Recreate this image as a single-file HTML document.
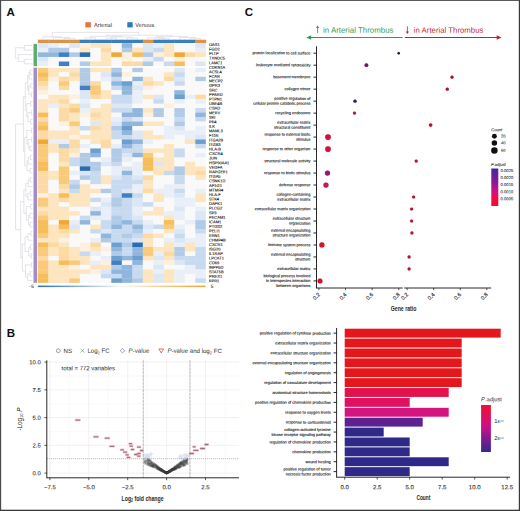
<!DOCTYPE html>
<html><head><meta charset="utf-8"><style>
html,body{margin:0;padding:0;background:#fff;}
svg{display:block;}
text{font-family:"Liberation Sans",sans-serif;}
</style></head><body>
<svg width="520" height="511" viewBox="0 0 520 511" font-family="Liberation Sans, sans-serif">
<rect width="520" height="511" fill="#fff"/>
<text x="6.4" y="16.2" font-size="11.5" font-weight="bold" fill="#111">A</text>
<rect x="85.3" y="22.2" width="5.6" height="5.2" fill="#e8743a"/>
<text transform="matrix(0.1,0.0001,0,0.1,94.00,27.10)" font-size="57.00" text-anchor="start" fill="#333" font-weight="normal" >Arterial</text>
<rect x="127.3" y="22.2" width="5.4" height="5.2" fill="#2b7bba"/>
<text transform="matrix(0.1,0.0001,0,0.1,135.30,27.10)" font-size="57.00" text-anchor="start" fill="#333" font-weight="normal" >Venous</text>
<line x1="64.05" y1="39.60" x2="64.05" y2="38.30" stroke="#c8c8d0" stroke-width="0.5"/>
<line x1="74.55" y1="39.60" x2="74.55" y2="38.30" stroke="#c8c8d0" stroke-width="0.5"/>
<line x1="64.05" y1="38.30" x2="74.55" y2="38.30" stroke="#c8c8d0" stroke-width="0.5"/>
<line x1="53.55" y1="39.60" x2="53.55" y2="37.60" stroke="#c8c8d0" stroke-width="0.5"/>
<line x1="69.30" y1="38.30" x2="69.30" y2="37.60" stroke="#c8c8d0" stroke-width="0.5"/>
<line x1="53.55" y1="37.60" x2="69.30" y2="37.60" stroke="#c8c8d0" stroke-width="0.5"/>
<line x1="43.05" y1="39.60" x2="43.05" y2="36.80" stroke="#c8c8d0" stroke-width="0.5"/>
<line x1="61.42" y1="37.60" x2="61.42" y2="36.80" stroke="#c8c8d0" stroke-width="0.5"/>
<line x1="43.05" y1="36.80" x2="61.42" y2="36.80" stroke="#c8c8d0" stroke-width="0.5"/>
<line x1="85.05" y1="39.60" x2="85.05" y2="37.90" stroke="#c8c8d0" stroke-width="0.5"/>
<line x1="95.55" y1="39.60" x2="95.55" y2="37.90" stroke="#c8c8d0" stroke-width="0.5"/>
<line x1="85.05" y1="37.90" x2="95.55" y2="37.90" stroke="#c8c8d0" stroke-width="0.5"/>
<line x1="106.05" y1="39.60" x2="106.05" y2="38.20" stroke="#c8c8d0" stroke-width="0.5"/>
<line x1="116.55" y1="39.60" x2="116.55" y2="38.20" stroke="#c8c8d0" stroke-width="0.5"/>
<line x1="106.05" y1="38.20" x2="116.55" y2="38.20" stroke="#c8c8d0" stroke-width="0.5"/>
<line x1="127.05" y1="39.60" x2="127.05" y2="38.00" stroke="#c8c8d0" stroke-width="0.5"/>
<line x1="137.55" y1="39.60" x2="137.55" y2="38.00" stroke="#c8c8d0" stroke-width="0.5"/>
<line x1="127.05" y1="38.00" x2="137.55" y2="38.00" stroke="#c8c8d0" stroke-width="0.5"/>
<line x1="111.30" y1="38.20" x2="111.30" y2="37.00" stroke="#c8c8d0" stroke-width="0.5"/>
<line x1="132.30" y1="38.00" x2="132.30" y2="37.00" stroke="#c8c8d0" stroke-width="0.5"/>
<line x1="111.30" y1="37.00" x2="132.30" y2="37.00" stroke="#c8c8d0" stroke-width="0.5"/>
<line x1="90.30" y1="37.90" x2="90.30" y2="36.30" stroke="#c8c8d0" stroke-width="0.5"/>
<line x1="121.80" y1="37.00" x2="121.80" y2="36.30" stroke="#c8c8d0" stroke-width="0.5"/>
<line x1="90.30" y1="36.30" x2="121.80" y2="36.30" stroke="#c8c8d0" stroke-width="0.5"/>
<line x1="158.55" y1="39.60" x2="158.55" y2="38.40" stroke="#c8c8d0" stroke-width="0.5"/>
<line x1="169.05" y1="39.60" x2="169.05" y2="38.40" stroke="#c8c8d0" stroke-width="0.5"/>
<line x1="158.55" y1="38.40" x2="169.05" y2="38.40" stroke="#c8c8d0" stroke-width="0.5"/>
<line x1="148.05" y1="39.60" x2="148.05" y2="37.80" stroke="#c8c8d0" stroke-width="0.5"/>
<line x1="163.80" y1="38.40" x2="163.80" y2="37.80" stroke="#c8c8d0" stroke-width="0.5"/>
<line x1="148.05" y1="37.80" x2="163.80" y2="37.80" stroke="#c8c8d0" stroke-width="0.5"/>
<line x1="190.05" y1="39.60" x2="190.05" y2="38.30" stroke="#c8c8d0" stroke-width="0.5"/>
<line x1="200.55" y1="39.60" x2="200.55" y2="38.30" stroke="#c8c8d0" stroke-width="0.5"/>
<line x1="190.05" y1="38.30" x2="200.55" y2="38.30" stroke="#c8c8d0" stroke-width="0.5"/>
<line x1="179.55" y1="39.60" x2="179.55" y2="37.40" stroke="#c8c8d0" stroke-width="0.5"/>
<line x1="195.30" y1="38.30" x2="195.30" y2="37.40" stroke="#c8c8d0" stroke-width="0.5"/>
<line x1="179.55" y1="37.40" x2="195.30" y2="37.40" stroke="#c8c8d0" stroke-width="0.5"/>
<line x1="155.93" y1="37.80" x2="155.93" y2="36.60" stroke="#c8c8d0" stroke-width="0.5"/>
<line x1="187.43" y1="37.40" x2="187.43" y2="36.60" stroke="#c8c8d0" stroke-width="0.5"/>
<line x1="155.93" y1="36.60" x2="187.43" y2="36.60" stroke="#c8c8d0" stroke-width="0.5"/>
<line x1="106.05" y1="36.30" x2="106.05" y2="35.20" stroke="#c8c8d0" stroke-width="0.5"/>
<line x1="171.68" y1="36.60" x2="171.68" y2="35.20" stroke="#c8c8d0" stroke-width="0.5"/>
<line x1="106.05" y1="35.20" x2="171.68" y2="35.20" stroke="#c8c8d0" stroke-width="0.5"/>
<line x1="52.24" y1="36.80" x2="52.24" y2="32.40" stroke="#c8c8d0" stroke-width="0.5"/>
<line x1="138.86" y1="35.20" x2="138.86" y2="32.40" stroke="#c8c8d0" stroke-width="0.5"/>
<line x1="52.24" y1="32.40" x2="138.86" y2="32.40" stroke="#c8c8d0" stroke-width="0.5"/>
<rect x="37.80" y="39.7" width="10.90" height="3.4" fill="#d9934a"/>
<rect x="48.30" y="39.7" width="10.90" height="3.4" fill="#d9934a"/>
<rect x="58.80" y="39.7" width="10.90" height="3.4" fill="#d9934a"/>
<rect x="69.30" y="39.7" width="10.90" height="3.4" fill="#d9934a"/>
<rect x="79.80" y="39.7" width="10.90" height="3.4" fill="#3a7fbd"/>
<rect x="90.30" y="39.7" width="10.90" height="3.4" fill="#3a7fbd"/>
<rect x="100.80" y="39.7" width="10.90" height="3.4" fill="#3a7fbd"/>
<rect x="111.30" y="39.7" width="10.90" height="3.4" fill="#3a7fbd"/>
<rect x="121.80" y="39.7" width="10.90" height="3.4" fill="#3a7fbd"/>
<rect x="132.30" y="39.7" width="10.90" height="3.4" fill="#3a7fbd"/>
<rect x="142.80" y="39.7" width="10.90" height="3.4" fill="#d9934a"/>
<rect x="153.30" y="39.7" width="10.90" height="3.4" fill="#3a7fbd"/>
<rect x="163.80" y="39.7" width="10.90" height="3.4" fill="#3a7fbd"/>
<rect x="174.30" y="39.7" width="10.90" height="3.4" fill="#3a7fbd"/>
<rect x="184.80" y="39.7" width="10.90" height="3.4" fill="#3a7fbd"/>
<rect x="195.30" y="39.7" width="10.90" height="3.4" fill="#d9934a"/>
<filter id="hb" x="-2%" y="-2%" width="104%" height="104%"><feGaussianBlur stdDeviation="0.35"/></filter>
<g filter="url(#hb)">
<rect x="37.80" y="43.20" width="10.90" height="4.88" fill="#dbe7f4"/>
<rect x="48.30" y="43.20" width="10.90" height="4.88" fill="#e9eff8"/>
<rect x="58.80" y="43.20" width="10.90" height="4.88" fill="#f9f9f9"/>
<rect x="69.30" y="43.20" width="10.90" height="4.88" fill="#dbe7f4"/>
<rect x="79.80" y="43.20" width="10.90" height="4.88" fill="#fdf0de"/>
<rect x="90.30" y="43.20" width="10.90" height="4.88" fill="#fde5bf"/>
<rect x="100.80" y="43.20" width="10.90" height="4.88" fill="#fde5bf"/>
<rect x="111.30" y="43.20" width="10.90" height="4.88" fill="#f9f9f9"/>
<rect x="121.80" y="43.20" width="10.90" height="4.88" fill="#90b6dd"/>
<rect x="132.30" y="43.20" width="10.90" height="4.88" fill="#f9f9f9"/>
<rect x="142.80" y="43.20" width="10.90" height="4.88" fill="#dbe7f4"/>
<rect x="153.30" y="43.20" width="10.90" height="4.88" fill="#e9eff8"/>
<rect x="163.80" y="43.20" width="10.90" height="4.88" fill="#fde5bf"/>
<rect x="174.30" y="43.20" width="10.90" height="4.88" fill="#f9f9f9"/>
<rect x="184.80" y="43.20" width="10.90" height="4.88" fill="#f9f9f9"/>
<rect x="195.30" y="43.20" width="10.50" height="4.88" fill="#dbe7f4"/>
<rect x="37.80" y="47.78" width="10.90" height="4.88" fill="#e9eff8"/>
<rect x="48.30" y="47.78" width="10.90" height="4.88" fill="#b1cbe7"/>
<rect x="58.80" y="47.78" width="10.90" height="4.88" fill="#b1cbe7"/>
<rect x="69.30" y="47.78" width="10.90" height="4.88" fill="#f9f9f9"/>
<rect x="79.80" y="47.78" width="10.90" height="4.88" fill="#fde5bf"/>
<rect x="90.30" y="47.78" width="10.90" height="4.88" fill="#f9f9f9"/>
<rect x="100.80" y="47.78" width="10.90" height="4.88" fill="#fbdaa6"/>
<rect x="111.30" y="47.78" width="10.90" height="4.88" fill="#f9f9f9"/>
<rect x="121.80" y="47.78" width="10.90" height="4.88" fill="#b1cbe7"/>
<rect x="132.30" y="47.78" width="10.90" height="4.88" fill="#fde5bf"/>
<rect x="142.80" y="47.78" width="10.90" height="4.88" fill="#dbe7f4"/>
<rect x="153.30" y="47.78" width="10.90" height="4.88" fill="#c8daef"/>
<rect x="163.80" y="47.78" width="10.90" height="4.88" fill="#fde5bf"/>
<rect x="174.30" y="47.78" width="10.90" height="4.88" fill="#f9f9f9"/>
<rect x="184.80" y="47.78" width="10.90" height="4.88" fill="#f9f9f9"/>
<rect x="195.30" y="47.78" width="10.50" height="4.88" fill="#e9eff8"/>
<rect x="37.80" y="52.36" width="10.90" height="4.88" fill="#90b6dd"/>
<rect x="48.30" y="52.36" width="10.90" height="4.88" fill="#90b6dd"/>
<rect x="58.80" y="52.36" width="10.90" height="4.88" fill="#3f7fc0"/>
<rect x="69.30" y="52.36" width="10.90" height="4.88" fill="#b1cbe7"/>
<rect x="79.80" y="52.36" width="10.90" height="4.88" fill="#2a6cb3"/>
<rect x="90.30" y="52.36" width="10.90" height="4.88" fill="#f9f9f9"/>
<rect x="100.80" y="52.36" width="10.90" height="4.88" fill="#fde5bf"/>
<rect x="111.30" y="52.36" width="10.90" height="4.88" fill="#f2a733"/>
<rect x="121.80" y="52.36" width="10.90" height="4.88" fill="#fdf0de"/>
<rect x="132.30" y="52.36" width="10.90" height="4.88" fill="#f6bd58"/>
<rect x="142.80" y="52.36" width="10.90" height="4.88" fill="#b1cbe7"/>
<rect x="153.30" y="52.36" width="10.90" height="4.88" fill="#fdf0de"/>
<rect x="163.80" y="52.36" width="10.90" height="4.88" fill="#fde5bf"/>
<rect x="174.30" y="52.36" width="10.90" height="4.88" fill="#f2a733"/>
<rect x="184.80" y="52.36" width="10.90" height="4.88" fill="#fbdaa6"/>
<rect x="195.30" y="52.36" width="10.50" height="4.88" fill="#fde5bf"/>
<rect x="37.80" y="56.94" width="10.90" height="4.88" fill="#dbe7f4"/>
<rect x="48.30" y="56.94" width="10.90" height="4.88" fill="#f9f9f9"/>
<rect x="58.80" y="56.94" width="10.90" height="4.88" fill="#f9f9f9"/>
<rect x="69.30" y="56.94" width="10.90" height="4.88" fill="#f9f9f9"/>
<rect x="79.80" y="56.94" width="10.90" height="4.88" fill="#f9f9f9"/>
<rect x="90.30" y="56.94" width="10.90" height="4.88" fill="#f9f9f9"/>
<rect x="100.80" y="56.94" width="10.90" height="4.88" fill="#fde5bf"/>
<rect x="111.30" y="56.94" width="10.90" height="4.88" fill="#f9f9f9"/>
<rect x="121.80" y="56.94" width="10.90" height="4.88" fill="#fdf0de"/>
<rect x="132.30" y="56.94" width="10.90" height="4.88" fill="#f9f9f9"/>
<rect x="142.80" y="56.94" width="10.90" height="4.88" fill="#e9eff8"/>
<rect x="153.30" y="56.94" width="10.90" height="4.88" fill="#c8daef"/>
<rect x="163.80" y="56.94" width="10.90" height="4.88" fill="#f9f9f9"/>
<rect x="174.30" y="56.94" width="10.90" height="4.88" fill="#fdf0de"/>
<rect x="184.80" y="56.94" width="10.90" height="4.88" fill="#f9f9f9"/>
<rect x="195.30" y="56.94" width="10.50" height="4.88" fill="#f9f9f9"/>
<rect x="37.80" y="61.52" width="10.90" height="4.58" fill="#e9eff8"/>
<rect x="48.30" y="61.52" width="10.90" height="4.58" fill="#f9f9f9"/>
<rect x="58.80" y="61.52" width="10.90" height="4.58" fill="#3f7fc0"/>
<rect x="69.30" y="61.52" width="10.90" height="4.58" fill="#f9f9f9"/>
<rect x="79.80" y="61.52" width="10.90" height="4.58" fill="#b1cbe7"/>
<rect x="90.30" y="61.52" width="10.90" height="4.58" fill="#fde5bf"/>
<rect x="100.80" y="61.52" width="10.90" height="4.58" fill="#fde5bf"/>
<rect x="111.30" y="61.52" width="10.90" height="4.58" fill="#f9f9f9"/>
<rect x="121.80" y="61.52" width="10.90" height="4.58" fill="#fbdaa6"/>
<rect x="132.30" y="61.52" width="10.90" height="4.58" fill="#fbdaa6"/>
<rect x="142.80" y="61.52" width="10.90" height="4.58" fill="#b1cbe7"/>
<rect x="153.30" y="61.52" width="10.90" height="4.58" fill="#f9f9f9"/>
<rect x="163.80" y="61.52" width="10.90" height="4.58" fill="#c8daef"/>
<rect x="174.30" y="61.52" width="10.90" height="4.58" fill="#f6bd58"/>
<rect x="184.80" y="61.52" width="10.90" height="4.58" fill="#f9f9f9"/>
<rect x="195.30" y="61.52" width="10.50" height="4.58" fill="#dbe7f4"/>
<rect x="37.80" y="67.80" width="10.90" height="4.78" fill="#f8ca7a"/>
<rect x="48.30" y="67.80" width="10.90" height="4.78" fill="#fde5bf"/>
<rect x="58.80" y="67.80" width="10.90" height="4.78" fill="#fde5bf"/>
<rect x="69.30" y="67.80" width="10.90" height="4.78" fill="#fde5bf"/>
<rect x="79.80" y="67.80" width="10.90" height="4.78" fill="#b1cbe7"/>
<rect x="90.30" y="67.80" width="10.90" height="4.78" fill="#fde5bf"/>
<rect x="100.80" y="67.80" width="10.90" height="4.78" fill="#fde5bf"/>
<rect x="111.30" y="67.80" width="10.90" height="4.78" fill="#b1cbe7"/>
<rect x="121.80" y="67.80" width="10.90" height="4.78" fill="#f9f9f9"/>
<rect x="132.30" y="67.80" width="10.90" height="4.78" fill="#b1cbe7"/>
<rect x="142.80" y="67.80" width="10.90" height="4.78" fill="#f9f9f9"/>
<rect x="153.30" y="67.80" width="10.90" height="4.78" fill="#f9f9f9"/>
<rect x="163.80" y="67.80" width="10.90" height="4.78" fill="#f9f9f9"/>
<rect x="174.30" y="67.80" width="10.90" height="4.78" fill="#dbe7f4"/>
<rect x="184.80" y="67.80" width="10.90" height="4.78" fill="#f9f9f9"/>
<rect x="195.30" y="67.80" width="10.50" height="4.78" fill="#e9eff8"/>
<rect x="37.80" y="72.28" width="10.90" height="4.78" fill="#f6bd58"/>
<rect x="48.30" y="72.28" width="10.90" height="4.78" fill="#fde5bf"/>
<rect x="58.80" y="72.28" width="10.90" height="4.78" fill="#f9f9f9"/>
<rect x="69.30" y="72.28" width="10.90" height="4.78" fill="#fbdaa6"/>
<rect x="79.80" y="72.28" width="10.90" height="4.78" fill="#b1cbe7"/>
<rect x="90.30" y="72.28" width="10.90" height="4.78" fill="#f9f9f9"/>
<rect x="100.80" y="72.28" width="10.90" height="4.78" fill="#dbe7f4"/>
<rect x="111.30" y="72.28" width="10.90" height="4.78" fill="#90b6dd"/>
<rect x="121.80" y="72.28" width="10.90" height="4.78" fill="#fdf0de"/>
<rect x="132.30" y="72.28" width="10.90" height="4.78" fill="#f9f9f9"/>
<rect x="142.80" y="72.28" width="10.90" height="4.78" fill="#f9f9f9"/>
<rect x="153.30" y="72.28" width="10.90" height="4.78" fill="#f9f9f9"/>
<rect x="163.80" y="72.28" width="10.90" height="4.78" fill="#fde5bf"/>
<rect x="174.30" y="72.28" width="10.90" height="4.78" fill="#c8daef"/>
<rect x="184.80" y="72.28" width="10.90" height="4.78" fill="#f9f9f9"/>
<rect x="195.30" y="72.28" width="10.50" height="4.78" fill="#f9f9f9"/>
<rect x="37.80" y="76.76" width="10.90" height="4.78" fill="#f8ca7a"/>
<rect x="48.30" y="76.76" width="10.90" height="4.78" fill="#fdf0de"/>
<rect x="58.80" y="76.76" width="10.90" height="4.78" fill="#fbdaa6"/>
<rect x="69.30" y="76.76" width="10.90" height="4.78" fill="#fde5bf"/>
<rect x="79.80" y="76.76" width="10.90" height="4.78" fill="#b1cbe7"/>
<rect x="90.30" y="76.76" width="10.90" height="4.78" fill="#f9f9f9"/>
<rect x="100.80" y="76.76" width="10.90" height="4.78" fill="#e9eff8"/>
<rect x="111.30" y="76.76" width="10.90" height="4.78" fill="#c8daef"/>
<rect x="121.80" y="76.76" width="10.90" height="4.78" fill="#f9f9f9"/>
<rect x="132.30" y="76.76" width="10.90" height="4.78" fill="#90b6dd"/>
<rect x="142.80" y="76.76" width="10.90" height="4.78" fill="#fde5bf"/>
<rect x="153.30" y="76.76" width="10.90" height="4.78" fill="#f9f9f9"/>
<rect x="163.80" y="76.76" width="10.90" height="4.78" fill="#fbdaa6"/>
<rect x="174.30" y="76.76" width="10.90" height="4.78" fill="#dbe7f4"/>
<rect x="184.80" y="76.76" width="10.90" height="4.78" fill="#f9f9f9"/>
<rect x="195.30" y="76.76" width="10.50" height="4.78" fill="#b1cbe7"/>
<rect x="37.80" y="81.24" width="10.90" height="4.78" fill="#fbdaa6"/>
<rect x="48.30" y="81.24" width="10.90" height="4.78" fill="#f9f9f9"/>
<rect x="58.80" y="81.24" width="10.90" height="4.78" fill="#f8ca7a"/>
<rect x="69.30" y="81.24" width="10.90" height="4.78" fill="#f9f9f9"/>
<rect x="79.80" y="81.24" width="10.90" height="4.78" fill="#b1cbe7"/>
<rect x="90.30" y="81.24" width="10.90" height="4.78" fill="#fbdaa6"/>
<rect x="100.80" y="81.24" width="10.90" height="4.78" fill="#f9f9f9"/>
<rect x="111.30" y="81.24" width="10.90" height="4.78" fill="#90b6dd"/>
<rect x="121.80" y="81.24" width="10.90" height="4.78" fill="#6a9fd2"/>
<rect x="132.30" y="81.24" width="10.90" height="4.78" fill="#e9eff8"/>
<rect x="142.80" y="81.24" width="10.90" height="4.78" fill="#fbdaa6"/>
<rect x="153.30" y="81.24" width="10.90" height="4.78" fill="#fde5bf"/>
<rect x="163.80" y="81.24" width="10.90" height="4.78" fill="#f9f9f9"/>
<rect x="174.30" y="81.24" width="10.90" height="4.78" fill="#c8daef"/>
<rect x="184.80" y="81.24" width="10.90" height="4.78" fill="#f9f9f9"/>
<rect x="195.30" y="81.24" width="10.50" height="4.78" fill="#f9f9f9"/>
<rect x="37.80" y="85.72" width="10.90" height="4.78" fill="#fde5bf"/>
<rect x="48.30" y="85.72" width="10.90" height="4.78" fill="#f9f9f9"/>
<rect x="58.80" y="85.72" width="10.90" height="4.78" fill="#fbdaa6"/>
<rect x="69.30" y="85.72" width="10.90" height="4.78" fill="#f9f9f9"/>
<rect x="79.80" y="85.72" width="10.90" height="4.78" fill="#3f7fc0"/>
<rect x="90.30" y="85.72" width="10.90" height="4.78" fill="#f8ca7a"/>
<rect x="100.80" y="85.72" width="10.90" height="4.78" fill="#f9f9f9"/>
<rect x="111.30" y="85.72" width="10.90" height="4.78" fill="#c8daef"/>
<rect x="121.80" y="85.72" width="10.90" height="4.78" fill="#90b6dd"/>
<rect x="132.30" y="85.72" width="10.90" height="4.78" fill="#dbe7f4"/>
<rect x="142.80" y="85.72" width="10.90" height="4.78" fill="#fdf0de"/>
<rect x="153.30" y="85.72" width="10.90" height="4.78" fill="#f9f9f9"/>
<rect x="163.80" y="85.72" width="10.90" height="4.78" fill="#f9f9f9"/>
<rect x="174.30" y="85.72" width="10.90" height="4.78" fill="#f9f9f9"/>
<rect x="184.80" y="85.72" width="10.90" height="4.78" fill="#f9f9f9"/>
<rect x="195.30" y="85.72" width="10.50" height="4.78" fill="#f9f9f9"/>
<rect x="37.80" y="90.20" width="10.90" height="4.78" fill="#fdf0de"/>
<rect x="48.30" y="90.20" width="10.90" height="4.78" fill="#f9f9f9"/>
<rect x="58.80" y="90.20" width="10.90" height="4.78" fill="#f9f9f9"/>
<rect x="69.30" y="90.20" width="10.90" height="4.78" fill="#f9f9f9"/>
<rect x="79.80" y="90.20" width="10.90" height="4.78" fill="#dbe7f4"/>
<rect x="90.30" y="90.20" width="10.90" height="4.78" fill="#f8ca7a"/>
<rect x="100.80" y="90.20" width="10.90" height="4.78" fill="#fde5bf"/>
<rect x="111.30" y="90.20" width="10.90" height="4.78" fill="#f9f9f9"/>
<rect x="121.80" y="90.20" width="10.90" height="4.78" fill="#90b6dd"/>
<rect x="132.30" y="90.20" width="10.90" height="4.78" fill="#e9eff8"/>
<rect x="142.80" y="90.20" width="10.90" height="4.78" fill="#f9f9f9"/>
<rect x="153.30" y="90.20" width="10.90" height="4.78" fill="#f9f9f9"/>
<rect x="163.80" y="90.20" width="10.90" height="4.78" fill="#f9f9f9"/>
<rect x="174.30" y="90.20" width="10.90" height="4.78" fill="#90b6dd"/>
<rect x="184.80" y="90.20" width="10.90" height="4.78" fill="#f9f9f9"/>
<rect x="195.30" y="90.20" width="10.50" height="4.78" fill="#f9f9f9"/>
<rect x="37.80" y="94.68" width="10.90" height="4.78" fill="#f9f9f9"/>
<rect x="48.30" y="94.68" width="10.90" height="4.78" fill="#fde5bf"/>
<rect x="58.80" y="94.68" width="10.90" height="4.78" fill="#fde5bf"/>
<rect x="69.30" y="94.68" width="10.90" height="4.78" fill="#fdf0de"/>
<rect x="79.80" y="94.68" width="10.90" height="4.78" fill="#dbe7f4"/>
<rect x="90.30" y="94.68" width="10.90" height="4.78" fill="#fbdaa6"/>
<rect x="100.80" y="94.68" width="10.90" height="4.78" fill="#fde5bf"/>
<rect x="111.30" y="94.68" width="10.90" height="4.78" fill="#c8daef"/>
<rect x="121.80" y="94.68" width="10.90" height="4.78" fill="#c8daef"/>
<rect x="132.30" y="94.68" width="10.90" height="4.78" fill="#e9eff8"/>
<rect x="142.80" y="94.68" width="10.90" height="4.78" fill="#fde5bf"/>
<rect x="153.30" y="94.68" width="10.90" height="4.78" fill="#dbe7f4"/>
<rect x="163.80" y="94.68" width="10.90" height="4.78" fill="#f9f9f9"/>
<rect x="174.30" y="94.68" width="10.90" height="4.78" fill="#6a9fd2"/>
<rect x="184.80" y="94.68" width="10.90" height="4.78" fill="#e9eff8"/>
<rect x="195.30" y="94.68" width="10.50" height="4.78" fill="#fbdaa6"/>
<rect x="37.80" y="99.16" width="10.90" height="4.78" fill="#fde5bf"/>
<rect x="48.30" y="99.16" width="10.90" height="4.78" fill="#fde5bf"/>
<rect x="58.80" y="99.16" width="10.90" height="4.78" fill="#fbdaa6"/>
<rect x="69.30" y="99.16" width="10.90" height="4.78" fill="#f9f9f9"/>
<rect x="79.80" y="99.16" width="10.90" height="4.78" fill="#e9eff8"/>
<rect x="90.30" y="99.16" width="10.90" height="4.78" fill="#f9f9f9"/>
<rect x="100.80" y="99.16" width="10.90" height="4.78" fill="#f9f9f9"/>
<rect x="111.30" y="99.16" width="10.90" height="4.78" fill="#c8daef"/>
<rect x="121.80" y="99.16" width="10.90" height="4.78" fill="#c8daef"/>
<rect x="132.30" y="99.16" width="10.90" height="4.78" fill="#e9eff8"/>
<rect x="142.80" y="99.16" width="10.90" height="4.78" fill="#f9f9f9"/>
<rect x="153.30" y="99.16" width="10.90" height="4.78" fill="#c8daef"/>
<rect x="163.80" y="99.16" width="10.90" height="4.78" fill="#f9f9f9"/>
<rect x="174.30" y="99.16" width="10.90" height="4.78" fill="#e9eff8"/>
<rect x="184.80" y="99.16" width="10.90" height="4.78" fill="#f9f9f9"/>
<rect x="195.30" y="99.16" width="10.50" height="4.78" fill="#e9eff8"/>
<rect x="37.80" y="103.64" width="10.90" height="4.78" fill="#fde5bf"/>
<rect x="48.30" y="103.64" width="10.90" height="4.78" fill="#e9eff8"/>
<rect x="58.80" y="103.64" width="10.90" height="4.78" fill="#fde5bf"/>
<rect x="69.30" y="103.64" width="10.90" height="4.78" fill="#fbdaa6"/>
<rect x="79.80" y="103.64" width="10.90" height="4.78" fill="#dbe7f4"/>
<rect x="90.30" y="103.64" width="10.90" height="4.78" fill="#f9f9f9"/>
<rect x="100.80" y="103.64" width="10.90" height="4.78" fill="#fde5bf"/>
<rect x="111.30" y="103.64" width="10.90" height="4.78" fill="#dbe7f4"/>
<rect x="121.80" y="103.64" width="10.90" height="4.78" fill="#dbe7f4"/>
<rect x="132.30" y="103.64" width="10.90" height="4.78" fill="#f9f9f9"/>
<rect x="142.80" y="103.64" width="10.90" height="4.78" fill="#f9f9f9"/>
<rect x="153.30" y="103.64" width="10.90" height="4.78" fill="#f9f9f9"/>
<rect x="163.80" y="103.64" width="10.90" height="4.78" fill="#fdf0de"/>
<rect x="174.30" y="103.64" width="10.90" height="4.78" fill="#f9f9f9"/>
<rect x="184.80" y="103.64" width="10.90" height="4.78" fill="#f9f9f9"/>
<rect x="195.30" y="103.64" width="10.50" height="4.78" fill="#f9f9f9"/>
<rect x="37.80" y="108.12" width="10.90" height="4.78" fill="#fde5bf"/>
<rect x="48.30" y="108.12" width="10.90" height="4.78" fill="#f9f9f9"/>
<rect x="58.80" y="108.12" width="10.90" height="4.78" fill="#fbdaa6"/>
<rect x="69.30" y="108.12" width="10.90" height="4.78" fill="#f8ca7a"/>
<rect x="79.80" y="108.12" width="10.90" height="4.78" fill="#e9eff8"/>
<rect x="90.30" y="108.12" width="10.90" height="4.78" fill="#fde5bf"/>
<rect x="100.80" y="108.12" width="10.90" height="4.78" fill="#fde5bf"/>
<rect x="111.30" y="108.12" width="10.90" height="4.78" fill="#c8daef"/>
<rect x="121.80" y="108.12" width="10.90" height="4.78" fill="#c8daef"/>
<rect x="132.30" y="108.12" width="10.90" height="4.78" fill="#90b6dd"/>
<rect x="142.80" y="108.12" width="10.90" height="4.78" fill="#fde5bf"/>
<rect x="153.30" y="108.12" width="10.90" height="4.78" fill="#b1cbe7"/>
<rect x="163.80" y="108.12" width="10.90" height="4.78" fill="#f9f9f9"/>
<rect x="174.30" y="108.12" width="10.90" height="4.78" fill="#b1cbe7"/>
<rect x="184.80" y="108.12" width="10.90" height="4.78" fill="#f9f9f9"/>
<rect x="195.30" y="108.12" width="10.50" height="4.78" fill="#c8daef"/>
<rect x="37.80" y="112.60" width="10.90" height="4.78" fill="#f6bd58"/>
<rect x="48.30" y="112.60" width="10.90" height="4.78" fill="#f9f9f9"/>
<rect x="58.80" y="112.60" width="10.90" height="4.78" fill="#fbdaa6"/>
<rect x="69.30" y="112.60" width="10.90" height="4.78" fill="#fde5bf"/>
<rect x="79.80" y="112.60" width="10.90" height="4.78" fill="#fdf0de"/>
<rect x="90.30" y="112.60" width="10.90" height="4.78" fill="#fbdaa6"/>
<rect x="100.80" y="112.60" width="10.90" height="4.78" fill="#fde5bf"/>
<rect x="111.30" y="112.60" width="10.90" height="4.78" fill="#f9f9f9"/>
<rect x="121.80" y="112.60" width="10.90" height="4.78" fill="#90b6dd"/>
<rect x="132.30" y="112.60" width="10.90" height="4.78" fill="#90b6dd"/>
<rect x="142.80" y="112.60" width="10.90" height="4.78" fill="#fdf0de"/>
<rect x="153.30" y="112.60" width="10.90" height="4.78" fill="#b1cbe7"/>
<rect x="163.80" y="112.60" width="10.90" height="4.78" fill="#f9f9f9"/>
<rect x="174.30" y="112.60" width="10.90" height="4.78" fill="#b1cbe7"/>
<rect x="184.80" y="112.60" width="10.90" height="4.78" fill="#f9f9f9"/>
<rect x="195.30" y="112.60" width="10.50" height="4.78" fill="#90b6dd"/>
<rect x="37.80" y="117.08" width="10.90" height="4.78" fill="#fbdaa6"/>
<rect x="48.30" y="117.08" width="10.90" height="4.78" fill="#f9f9f9"/>
<rect x="58.80" y="117.08" width="10.90" height="4.78" fill="#fbdaa6"/>
<rect x="69.30" y="117.08" width="10.90" height="4.78" fill="#fde5bf"/>
<rect x="79.80" y="117.08" width="10.90" height="4.78" fill="#f9f9f9"/>
<rect x="90.30" y="117.08" width="10.90" height="4.78" fill="#fde5bf"/>
<rect x="100.80" y="117.08" width="10.90" height="4.78" fill="#fde5bf"/>
<rect x="111.30" y="117.08" width="10.90" height="4.78" fill="#e9eff8"/>
<rect x="121.80" y="117.08" width="10.90" height="4.78" fill="#c8daef"/>
<rect x="132.30" y="117.08" width="10.90" height="4.78" fill="#dbe7f4"/>
<rect x="142.80" y="117.08" width="10.90" height="4.78" fill="#f9f9f9"/>
<rect x="153.30" y="117.08" width="10.90" height="4.78" fill="#f9f9f9"/>
<rect x="163.80" y="117.08" width="10.90" height="4.78" fill="#f9f9f9"/>
<rect x="174.30" y="117.08" width="10.90" height="4.78" fill="#c8daef"/>
<rect x="184.80" y="117.08" width="10.90" height="4.78" fill="#f9f9f9"/>
<rect x="195.30" y="117.08" width="10.50" height="4.78" fill="#c8daef"/>
<rect x="37.80" y="121.56" width="10.90" height="4.78" fill="#f8ca7a"/>
<rect x="48.30" y="121.56" width="10.90" height="4.78" fill="#f9f9f9"/>
<rect x="58.80" y="121.56" width="10.90" height="4.78" fill="#fdf0de"/>
<rect x="69.30" y="121.56" width="10.90" height="4.78" fill="#f8ca7a"/>
<rect x="79.80" y="121.56" width="10.90" height="4.78" fill="#f9f9f9"/>
<rect x="90.30" y="121.56" width="10.90" height="4.78" fill="#dbe7f4"/>
<rect x="100.80" y="121.56" width="10.90" height="4.78" fill="#fde5bf"/>
<rect x="111.30" y="121.56" width="10.90" height="4.78" fill="#dbe7f4"/>
<rect x="121.80" y="121.56" width="10.90" height="4.78" fill="#90b6dd"/>
<rect x="132.30" y="121.56" width="10.90" height="4.78" fill="#90b6dd"/>
<rect x="142.80" y="121.56" width="10.90" height="4.78" fill="#fde5bf"/>
<rect x="153.30" y="121.56" width="10.90" height="4.78" fill="#fde5bf"/>
<rect x="163.80" y="121.56" width="10.90" height="4.78" fill="#f9f9f9"/>
<rect x="174.30" y="121.56" width="10.90" height="4.78" fill="#b1cbe7"/>
<rect x="184.80" y="121.56" width="10.90" height="4.78" fill="#f9f9f9"/>
<rect x="195.30" y="121.56" width="10.50" height="4.78" fill="#f9f9f9"/>
<rect x="37.80" y="126.04" width="10.90" height="4.78" fill="#f6bd58"/>
<rect x="48.30" y="126.04" width="10.90" height="4.78" fill="#f9f9f9"/>
<rect x="58.80" y="126.04" width="10.90" height="4.78" fill="#f9f9f9"/>
<rect x="69.30" y="126.04" width="10.90" height="4.78" fill="#fde5bf"/>
<rect x="79.80" y="126.04" width="10.90" height="4.78" fill="#c8daef"/>
<rect x="90.30" y="126.04" width="10.90" height="4.78" fill="#fbdaa6"/>
<rect x="100.80" y="126.04" width="10.90" height="4.78" fill="#fde5bf"/>
<rect x="111.30" y="126.04" width="10.90" height="4.78" fill="#b1cbe7"/>
<rect x="121.80" y="126.04" width="10.90" height="4.78" fill="#6a9fd2"/>
<rect x="132.30" y="126.04" width="10.90" height="4.78" fill="#f9f9f9"/>
<rect x="142.80" y="126.04" width="10.90" height="4.78" fill="#f9f9f9"/>
<rect x="153.30" y="126.04" width="10.90" height="4.78" fill="#f9f9f9"/>
<rect x="163.80" y="126.04" width="10.90" height="4.78" fill="#e9eff8"/>
<rect x="174.30" y="126.04" width="10.90" height="4.78" fill="#dbe7f4"/>
<rect x="184.80" y="126.04" width="10.90" height="4.78" fill="#f9f9f9"/>
<rect x="195.30" y="126.04" width="10.50" height="4.78" fill="#e9eff8"/>
<rect x="37.80" y="130.52" width="10.90" height="4.78" fill="#fbdaa6"/>
<rect x="48.30" y="130.52" width="10.90" height="4.78" fill="#fde5bf"/>
<rect x="58.80" y="130.52" width="10.90" height="4.78" fill="#fde5bf"/>
<rect x="69.30" y="130.52" width="10.90" height="4.78" fill="#fde5bf"/>
<rect x="79.80" y="130.52" width="10.90" height="4.78" fill="#f9f9f9"/>
<rect x="90.30" y="130.52" width="10.90" height="4.78" fill="#fde5bf"/>
<rect x="100.80" y="130.52" width="10.90" height="4.78" fill="#fde5bf"/>
<rect x="111.30" y="130.52" width="10.90" height="4.78" fill="#c8daef"/>
<rect x="121.80" y="130.52" width="10.90" height="4.78" fill="#90b6dd"/>
<rect x="132.30" y="130.52" width="10.90" height="4.78" fill="#dbe7f4"/>
<rect x="142.80" y="130.52" width="10.90" height="4.78" fill="#fde5bf"/>
<rect x="153.30" y="130.52" width="10.90" height="4.78" fill="#f9f9f9"/>
<rect x="163.80" y="130.52" width="10.90" height="4.78" fill="#e9eff8"/>
<rect x="174.30" y="130.52" width="10.90" height="4.78" fill="#e9eff8"/>
<rect x="184.80" y="130.52" width="10.90" height="4.78" fill="#e9eff8"/>
<rect x="195.30" y="130.52" width="10.50" height="4.78" fill="#e9eff8"/>
<rect x="37.80" y="135.00" width="10.90" height="4.78" fill="#fbdaa6"/>
<rect x="48.30" y="135.00" width="10.90" height="4.78" fill="#fde5bf"/>
<rect x="58.80" y="135.00" width="10.90" height="4.78" fill="#fde5bf"/>
<rect x="69.30" y="135.00" width="10.90" height="4.78" fill="#fdf0de"/>
<rect x="79.80" y="135.00" width="10.90" height="4.78" fill="#fde5bf"/>
<rect x="90.30" y="135.00" width="10.90" height="4.78" fill="#fde5bf"/>
<rect x="100.80" y="135.00" width="10.90" height="4.78" fill="#fde5bf"/>
<rect x="111.30" y="135.00" width="10.90" height="4.78" fill="#c8daef"/>
<rect x="121.80" y="135.00" width="10.90" height="4.78" fill="#c8daef"/>
<rect x="132.30" y="135.00" width="10.90" height="4.78" fill="#dbe7f4"/>
<rect x="142.80" y="135.00" width="10.90" height="4.78" fill="#fde5bf"/>
<rect x="153.30" y="135.00" width="10.90" height="4.78" fill="#fde5bf"/>
<rect x="163.80" y="135.00" width="10.90" height="4.78" fill="#e9eff8"/>
<rect x="174.30" y="135.00" width="10.90" height="4.78" fill="#f9f9f9"/>
<rect x="184.80" y="135.00" width="10.90" height="4.78" fill="#e9eff8"/>
<rect x="195.30" y="135.00" width="10.50" height="4.78" fill="#dbe7f4"/>
<rect x="37.80" y="139.48" width="10.90" height="4.78" fill="#f2a733"/>
<rect x="48.30" y="139.48" width="10.90" height="4.78" fill="#e9eff8"/>
<rect x="58.80" y="139.48" width="10.90" height="4.78" fill="#e9eff8"/>
<rect x="69.30" y="139.48" width="10.90" height="4.78" fill="#fbdaa6"/>
<rect x="79.80" y="139.48" width="10.90" height="4.78" fill="#f9f9f9"/>
<rect x="90.30" y="139.48" width="10.90" height="4.78" fill="#fde5bf"/>
<rect x="100.80" y="139.48" width="10.90" height="4.78" fill="#fbdaa6"/>
<rect x="111.30" y="139.48" width="10.90" height="4.78" fill="#f9f9f9"/>
<rect x="121.80" y="139.48" width="10.90" height="4.78" fill="#6a9fd2"/>
<rect x="132.30" y="139.48" width="10.90" height="4.78" fill="#90b6dd"/>
<rect x="142.80" y="139.48" width="10.90" height="4.78" fill="#e9eff8"/>
<rect x="153.30" y="139.48" width="10.90" height="4.78" fill="#f9f9f9"/>
<rect x="163.80" y="139.48" width="10.90" height="4.78" fill="#f9f9f9"/>
<rect x="174.30" y="139.48" width="10.90" height="4.78" fill="#f9f9f9"/>
<rect x="184.80" y="139.48" width="10.90" height="4.78" fill="#fde5bf"/>
<rect x="195.30" y="139.48" width="10.50" height="4.78" fill="#6a9fd2"/>
<rect x="37.80" y="143.96" width="10.90" height="4.78" fill="#f8ca7a"/>
<rect x="48.30" y="143.96" width="10.90" height="4.78" fill="#fde5bf"/>
<rect x="58.80" y="143.96" width="10.90" height="4.78" fill="#b1cbe7"/>
<rect x="69.30" y="143.96" width="10.90" height="4.78" fill="#fbdaa6"/>
<rect x="79.80" y="143.96" width="10.90" height="4.78" fill="#e9eff8"/>
<rect x="90.30" y="143.96" width="10.90" height="4.78" fill="#f9f9f9"/>
<rect x="100.80" y="143.96" width="10.90" height="4.78" fill="#fbdaa6"/>
<rect x="111.30" y="143.96" width="10.90" height="4.78" fill="#e9eff8"/>
<rect x="121.80" y="143.96" width="10.90" height="4.78" fill="#90b6dd"/>
<rect x="132.30" y="143.96" width="10.90" height="4.78" fill="#c8daef"/>
<rect x="142.80" y="143.96" width="10.90" height="4.78" fill="#f9f9f9"/>
<rect x="153.30" y="143.96" width="10.90" height="4.78" fill="#f9f9f9"/>
<rect x="163.80" y="143.96" width="10.90" height="4.78" fill="#fde5bf"/>
<rect x="174.30" y="143.96" width="10.90" height="4.78" fill="#f9f9f9"/>
<rect x="184.80" y="143.96" width="10.90" height="4.78" fill="#f9f9f9"/>
<rect x="195.30" y="143.96" width="10.50" height="4.78" fill="#c8daef"/>
<rect x="37.80" y="148.44" width="10.90" height="4.78" fill="#f8ca7a"/>
<rect x="48.30" y="148.44" width="10.90" height="4.78" fill="#fde5bf"/>
<rect x="58.80" y="148.44" width="10.90" height="4.78" fill="#fbdaa6"/>
<rect x="69.30" y="148.44" width="10.90" height="4.78" fill="#fde5bf"/>
<rect x="79.80" y="148.44" width="10.90" height="4.78" fill="#f9f9f9"/>
<rect x="90.30" y="148.44" width="10.90" height="4.78" fill="#6a9fd2"/>
<rect x="100.80" y="148.44" width="10.90" height="4.78" fill="#f9f9f9"/>
<rect x="111.30" y="148.44" width="10.90" height="4.78" fill="#b1cbe7"/>
<rect x="121.80" y="148.44" width="10.90" height="4.78" fill="#c8daef"/>
<rect x="132.30" y="148.44" width="10.90" height="4.78" fill="#c8daef"/>
<rect x="142.80" y="148.44" width="10.90" height="4.78" fill="#fde5bf"/>
<rect x="153.30" y="148.44" width="10.90" height="4.78" fill="#fde5bf"/>
<rect x="163.80" y="148.44" width="10.90" height="4.78" fill="#fde5bf"/>
<rect x="174.30" y="148.44" width="10.90" height="4.78" fill="#c8daef"/>
<rect x="184.80" y="148.44" width="10.90" height="4.78" fill="#f9f9f9"/>
<rect x="195.30" y="148.44" width="10.50" height="4.78" fill="#f9f9f9"/>
<rect x="37.80" y="152.92" width="10.90" height="4.78" fill="#f8ca7a"/>
<rect x="48.30" y="152.92" width="10.90" height="4.78" fill="#f9f9f9"/>
<rect x="58.80" y="152.92" width="10.90" height="4.78" fill="#fbdaa6"/>
<rect x="69.30" y="152.92" width="10.90" height="4.78" fill="#fdf0de"/>
<rect x="79.80" y="152.92" width="10.90" height="4.78" fill="#b1cbe7"/>
<rect x="90.30" y="152.92" width="10.90" height="4.78" fill="#90b6dd"/>
<rect x="100.80" y="152.92" width="10.90" height="4.78" fill="#f9f9f9"/>
<rect x="111.30" y="152.92" width="10.90" height="4.78" fill="#b1cbe7"/>
<rect x="121.80" y="152.92" width="10.90" height="4.78" fill="#dbe7f4"/>
<rect x="132.30" y="152.92" width="10.90" height="4.78" fill="#90b6dd"/>
<rect x="142.80" y="152.92" width="10.90" height="4.78" fill="#f8ca7a"/>
<rect x="153.30" y="152.92" width="10.90" height="4.78" fill="#f9f9f9"/>
<rect x="163.80" y="152.92" width="10.90" height="4.78" fill="#fde5bf"/>
<rect x="174.30" y="152.92" width="10.90" height="4.78" fill="#c8daef"/>
<rect x="184.80" y="152.92" width="10.90" height="4.78" fill="#f9f9f9"/>
<rect x="195.30" y="152.92" width="10.50" height="4.78" fill="#e9eff8"/>
<rect x="37.80" y="157.40" width="10.90" height="4.78" fill="#f8ca7a"/>
<rect x="48.30" y="157.40" width="10.90" height="4.78" fill="#f9f9f9"/>
<rect x="58.80" y="157.40" width="10.90" height="4.78" fill="#fbdaa6"/>
<rect x="69.30" y="157.40" width="10.90" height="4.78" fill="#c8daef"/>
<rect x="79.80" y="157.40" width="10.90" height="4.78" fill="#b1cbe7"/>
<rect x="90.30" y="157.40" width="10.90" height="4.78" fill="#f9f9f9"/>
<rect x="100.80" y="157.40" width="10.90" height="4.78" fill="#e9eff8"/>
<rect x="111.30" y="157.40" width="10.90" height="4.78" fill="#b1cbe7"/>
<rect x="121.80" y="157.40" width="10.90" height="4.78" fill="#e9eff8"/>
<rect x="132.30" y="157.40" width="10.90" height="4.78" fill="#f9f9f9"/>
<rect x="142.80" y="157.40" width="10.90" height="4.78" fill="#f6bd58"/>
<rect x="153.30" y="157.40" width="10.90" height="4.78" fill="#fde5bf"/>
<rect x="163.80" y="157.40" width="10.90" height="4.78" fill="#fde5bf"/>
<rect x="174.30" y="157.40" width="10.90" height="4.78" fill="#f9f9f9"/>
<rect x="184.80" y="157.40" width="10.90" height="4.78" fill="#f9f9f9"/>
<rect x="195.30" y="157.40" width="10.50" height="4.78" fill="#f9f9f9"/>
<rect x="37.80" y="161.88" width="10.90" height="4.78" fill="#f6bd58"/>
<rect x="48.30" y="161.88" width="10.90" height="4.78" fill="#f9f9f9"/>
<rect x="58.80" y="161.88" width="10.90" height="4.78" fill="#fde5bf"/>
<rect x="69.30" y="161.88" width="10.90" height="4.78" fill="#c8daef"/>
<rect x="79.80" y="161.88" width="10.90" height="4.78" fill="#b1cbe7"/>
<rect x="90.30" y="161.88" width="10.90" height="4.78" fill="#b1cbe7"/>
<rect x="100.80" y="161.88" width="10.90" height="4.78" fill="#dbe7f4"/>
<rect x="111.30" y="161.88" width="10.90" height="4.78" fill="#c8daef"/>
<rect x="121.80" y="161.88" width="10.90" height="4.78" fill="#f9f9f9"/>
<rect x="132.30" y="161.88" width="10.90" height="4.78" fill="#e9eff8"/>
<rect x="142.80" y="161.88" width="10.90" height="4.78" fill="#f6bd58"/>
<rect x="153.30" y="161.88" width="10.90" height="4.78" fill="#dbe7f4"/>
<rect x="163.80" y="161.88" width="10.90" height="4.78" fill="#fde5bf"/>
<rect x="174.30" y="161.88" width="10.90" height="4.78" fill="#f9f9f9"/>
<rect x="184.80" y="161.88" width="10.90" height="4.78" fill="#fde5bf"/>
<rect x="195.30" y="161.88" width="10.50" height="4.78" fill="#f9f9f9"/>
<rect x="37.80" y="166.36" width="10.90" height="4.78" fill="#f6bd58"/>
<rect x="48.30" y="166.36" width="10.90" height="4.78" fill="#f9f9f9"/>
<rect x="58.80" y="166.36" width="10.90" height="4.78" fill="#f8ca7a"/>
<rect x="69.30" y="166.36" width="10.90" height="4.78" fill="#f9f9f9"/>
<rect x="79.80" y="166.36" width="10.90" height="4.78" fill="#2a6cb3"/>
<rect x="90.30" y="166.36" width="10.90" height="4.78" fill="#b1cbe7"/>
<rect x="100.80" y="166.36" width="10.90" height="4.78" fill="#f9f9f9"/>
<rect x="111.30" y="166.36" width="10.90" height="4.78" fill="#e9eff8"/>
<rect x="121.80" y="166.36" width="10.90" height="4.78" fill="#dbe7f4"/>
<rect x="132.30" y="166.36" width="10.90" height="4.78" fill="#e9eff8"/>
<rect x="142.80" y="166.36" width="10.90" height="4.78" fill="#f6bd58"/>
<rect x="153.30" y="166.36" width="10.90" height="4.78" fill="#fde5bf"/>
<rect x="163.80" y="166.36" width="10.90" height="4.78" fill="#fde5bf"/>
<rect x="174.30" y="166.36" width="10.90" height="4.78" fill="#b1cbe7"/>
<rect x="184.80" y="166.36" width="10.90" height="4.78" fill="#fde5bf"/>
<rect x="195.30" y="166.36" width="10.50" height="4.78" fill="#fde5bf"/>
<rect x="37.80" y="170.84" width="10.90" height="4.78" fill="#fbdaa6"/>
<rect x="48.30" y="170.84" width="10.90" height="4.78" fill="#fde5bf"/>
<rect x="58.80" y="170.84" width="10.90" height="4.78" fill="#f8ca7a"/>
<rect x="69.30" y="170.84" width="10.90" height="4.78" fill="#e9eff8"/>
<rect x="79.80" y="170.84" width="10.90" height="4.78" fill="#dbe7f4"/>
<rect x="90.30" y="170.84" width="10.90" height="4.78" fill="#c8daef"/>
<rect x="100.80" y="170.84" width="10.90" height="4.78" fill="#f9f9f9"/>
<rect x="111.30" y="170.84" width="10.90" height="4.78" fill="#e9eff8"/>
<rect x="121.80" y="170.84" width="10.90" height="4.78" fill="#90b6dd"/>
<rect x="132.30" y="170.84" width="10.90" height="4.78" fill="#e9eff8"/>
<rect x="142.80" y="170.84" width="10.90" height="4.78" fill="#f9f9f9"/>
<rect x="153.30" y="170.84" width="10.90" height="4.78" fill="#fde5bf"/>
<rect x="163.80" y="170.84" width="10.90" height="4.78" fill="#c8daef"/>
<rect x="174.30" y="170.84" width="10.90" height="4.78" fill="#b1cbe7"/>
<rect x="184.80" y="170.84" width="10.90" height="4.78" fill="#fde5bf"/>
<rect x="195.30" y="170.84" width="10.50" height="4.78" fill="#fbdaa6"/>
<rect x="37.80" y="175.32" width="10.90" height="4.78" fill="#fbdaa6"/>
<rect x="48.30" y="175.32" width="10.90" height="4.78" fill="#fde5bf"/>
<rect x="58.80" y="175.32" width="10.90" height="4.78" fill="#f8ca7a"/>
<rect x="69.30" y="175.32" width="10.90" height="4.78" fill="#f9f9f9"/>
<rect x="79.80" y="175.32" width="10.90" height="4.78" fill="#b1cbe7"/>
<rect x="90.30" y="175.32" width="10.90" height="4.78" fill="#c8daef"/>
<rect x="100.80" y="175.32" width="10.90" height="4.78" fill="#fde5bf"/>
<rect x="111.30" y="175.32" width="10.90" height="4.78" fill="#dbe7f4"/>
<rect x="121.80" y="175.32" width="10.90" height="4.78" fill="#c8daef"/>
<rect x="132.30" y="175.32" width="10.90" height="4.78" fill="#dbe7f4"/>
<rect x="142.80" y="175.32" width="10.90" height="4.78" fill="#fbdaa6"/>
<rect x="153.30" y="175.32" width="10.90" height="4.78" fill="#f9f9f9"/>
<rect x="163.80" y="175.32" width="10.90" height="4.78" fill="#f9f9f9"/>
<rect x="174.30" y="175.32" width="10.90" height="4.78" fill="#c8daef"/>
<rect x="184.80" y="175.32" width="10.90" height="4.78" fill="#f9f9f9"/>
<rect x="195.30" y="175.32" width="10.50" height="4.78" fill="#fde5bf"/>
<rect x="37.80" y="179.80" width="10.90" height="4.78" fill="#fbdaa6"/>
<rect x="48.30" y="179.80" width="10.90" height="4.78" fill="#f9f9f9"/>
<rect x="58.80" y="179.80" width="10.90" height="4.78" fill="#f8ca7a"/>
<rect x="69.30" y="179.80" width="10.90" height="4.78" fill="#c8daef"/>
<rect x="79.80" y="179.80" width="10.90" height="4.78" fill="#f9f9f9"/>
<rect x="90.30" y="179.80" width="10.90" height="4.78" fill="#c8daef"/>
<rect x="100.80" y="179.80" width="10.90" height="4.78" fill="#fde5bf"/>
<rect x="111.30" y="179.80" width="10.90" height="4.78" fill="#c8daef"/>
<rect x="121.80" y="179.80" width="10.90" height="4.78" fill="#c8daef"/>
<rect x="132.30" y="179.80" width="10.90" height="4.78" fill="#c8daef"/>
<rect x="142.80" y="179.80" width="10.90" height="4.78" fill="#fde5bf"/>
<rect x="153.30" y="179.80" width="10.90" height="4.78" fill="#f9f9f9"/>
<rect x="163.80" y="179.80" width="10.90" height="4.78" fill="#f9f9f9"/>
<rect x="174.30" y="179.80" width="10.90" height="4.78" fill="#c8daef"/>
<rect x="184.80" y="179.80" width="10.90" height="4.78" fill="#f9f9f9"/>
<rect x="195.30" y="179.80" width="10.50" height="4.78" fill="#f9f9f9"/>
<rect x="37.80" y="184.28" width="10.90" height="4.78" fill="#fbdaa6"/>
<rect x="48.30" y="184.28" width="10.90" height="4.78" fill="#f9f9f9"/>
<rect x="58.80" y="184.28" width="10.90" height="4.78" fill="#fbdaa6"/>
<rect x="69.30" y="184.28" width="10.90" height="4.78" fill="#b1cbe7"/>
<rect x="79.80" y="184.28" width="10.90" height="4.78" fill="#fde5bf"/>
<rect x="90.30" y="184.28" width="10.90" height="4.78" fill="#f9f9f9"/>
<rect x="100.80" y="184.28" width="10.90" height="4.78" fill="#f9f9f9"/>
<rect x="111.30" y="184.28" width="10.90" height="4.78" fill="#c8daef"/>
<rect x="121.80" y="184.28" width="10.90" height="4.78" fill="#c8daef"/>
<rect x="132.30" y="184.28" width="10.90" height="4.78" fill="#e9eff8"/>
<rect x="142.80" y="184.28" width="10.90" height="4.78" fill="#fde5bf"/>
<rect x="153.30" y="184.28" width="10.90" height="4.78" fill="#f9f9f9"/>
<rect x="163.80" y="184.28" width="10.90" height="4.78" fill="#e9eff8"/>
<rect x="174.30" y="184.28" width="10.90" height="4.78" fill="#e9eff8"/>
<rect x="184.80" y="184.28" width="10.90" height="4.78" fill="#f9f9f9"/>
<rect x="195.30" y="184.28" width="10.50" height="4.78" fill="#f9f9f9"/>
<rect x="37.80" y="188.76" width="10.90" height="4.78" fill="#fbdaa6"/>
<rect x="48.30" y="188.76" width="10.90" height="4.78" fill="#f9f9f9"/>
<rect x="58.80" y="188.76" width="10.90" height="4.78" fill="#fde5bf"/>
<rect x="69.30" y="188.76" width="10.90" height="4.78" fill="#c8daef"/>
<rect x="79.80" y="188.76" width="10.90" height="4.78" fill="#fde5bf"/>
<rect x="90.30" y="188.76" width="10.90" height="4.78" fill="#fde5bf"/>
<rect x="100.80" y="188.76" width="10.90" height="4.78" fill="#b1cbe7"/>
<rect x="111.30" y="188.76" width="10.90" height="4.78" fill="#c8daef"/>
<rect x="121.80" y="188.76" width="10.90" height="4.78" fill="#dbe7f4"/>
<rect x="132.30" y="188.76" width="10.90" height="4.78" fill="#e9eff8"/>
<rect x="142.80" y="188.76" width="10.90" height="4.78" fill="#fbdaa6"/>
<rect x="153.30" y="188.76" width="10.90" height="4.78" fill="#e9eff8"/>
<rect x="163.80" y="188.76" width="10.90" height="4.78" fill="#e9eff8"/>
<rect x="174.30" y="188.76" width="10.90" height="4.78" fill="#c8daef"/>
<rect x="184.80" y="188.76" width="10.90" height="4.78" fill="#f9f9f9"/>
<rect x="195.30" y="188.76" width="10.50" height="4.78" fill="#e9eff8"/>
<rect x="37.80" y="193.24" width="10.90" height="4.78" fill="#fdf0de"/>
<rect x="48.30" y="193.24" width="10.90" height="4.78" fill="#fde5bf"/>
<rect x="58.80" y="193.24" width="10.90" height="4.78" fill="#f6bd58"/>
<rect x="69.30" y="193.24" width="10.90" height="4.78" fill="#fde5bf"/>
<rect x="79.80" y="193.24" width="10.90" height="4.78" fill="#fde5bf"/>
<rect x="90.30" y="193.24" width="10.90" height="4.78" fill="#f9f9f9"/>
<rect x="100.80" y="193.24" width="10.90" height="4.78" fill="#f9f9f9"/>
<rect x="111.30" y="193.24" width="10.90" height="4.78" fill="#c8daef"/>
<rect x="121.80" y="193.24" width="10.90" height="4.78" fill="#3f7fc0"/>
<rect x="132.30" y="193.24" width="10.90" height="4.78" fill="#c8daef"/>
<rect x="142.80" y="193.24" width="10.90" height="4.78" fill="#f9f9f9"/>
<rect x="153.30" y="193.24" width="10.90" height="4.78" fill="#fde5bf"/>
<rect x="163.80" y="193.24" width="10.90" height="4.78" fill="#e9eff8"/>
<rect x="174.30" y="193.24" width="10.90" height="4.78" fill="#dbe7f4"/>
<rect x="184.80" y="193.24" width="10.90" height="4.78" fill="#f9f9f9"/>
<rect x="195.30" y="193.24" width="10.50" height="4.78" fill="#fde5bf"/>
<rect x="37.80" y="197.72" width="10.90" height="4.78" fill="#f8ca7a"/>
<rect x="48.30" y="197.72" width="10.90" height="4.78" fill="#fde5bf"/>
<rect x="58.80" y="197.72" width="10.90" height="4.78" fill="#fbdaa6"/>
<rect x="69.30" y="197.72" width="10.90" height="4.78" fill="#fde5bf"/>
<rect x="79.80" y="197.72" width="10.90" height="4.78" fill="#fde5bf"/>
<rect x="90.30" y="197.72" width="10.90" height="4.78" fill="#c8daef"/>
<rect x="100.80" y="197.72" width="10.90" height="4.78" fill="#e9eff8"/>
<rect x="111.30" y="197.72" width="10.90" height="4.78" fill="#b1cbe7"/>
<rect x="121.80" y="197.72" width="10.90" height="4.78" fill="#c8daef"/>
<rect x="132.30" y="197.72" width="10.90" height="4.78" fill="#dbe7f4"/>
<rect x="142.80" y="197.72" width="10.90" height="4.78" fill="#f9f9f9"/>
<rect x="153.30" y="197.72" width="10.90" height="4.78" fill="#fde5bf"/>
<rect x="163.80" y="197.72" width="10.90" height="4.78" fill="#f9f9f9"/>
<rect x="174.30" y="197.72" width="10.90" height="4.78" fill="#e9eff8"/>
<rect x="184.80" y="197.72" width="10.90" height="4.78" fill="#e9eff8"/>
<rect x="195.30" y="197.72" width="10.50" height="4.78" fill="#fde5bf"/>
<rect x="37.80" y="202.20" width="10.90" height="4.78" fill="#f8ca7a"/>
<rect x="48.30" y="202.20" width="10.90" height="4.78" fill="#fde5bf"/>
<rect x="58.80" y="202.20" width="10.90" height="4.78" fill="#f9f9f9"/>
<rect x="69.30" y="202.20" width="10.90" height="4.78" fill="#fde5bf"/>
<rect x="79.80" y="202.20" width="10.90" height="4.78" fill="#fde5bf"/>
<rect x="90.30" y="202.20" width="10.90" height="4.78" fill="#f9f9f9"/>
<rect x="100.80" y="202.20" width="10.90" height="4.78" fill="#dbe7f4"/>
<rect x="111.30" y="202.20" width="10.90" height="4.78" fill="#b1cbe7"/>
<rect x="121.80" y="202.20" width="10.90" height="4.78" fill="#c8daef"/>
<rect x="132.30" y="202.20" width="10.90" height="4.78" fill="#dbe7f4"/>
<rect x="142.80" y="202.20" width="10.90" height="4.78" fill="#c8daef"/>
<rect x="153.30" y="202.20" width="10.90" height="4.78" fill="#f9f9f9"/>
<rect x="163.80" y="202.20" width="10.90" height="4.78" fill="#f9f9f9"/>
<rect x="174.30" y="202.20" width="10.90" height="4.78" fill="#e9eff8"/>
<rect x="184.80" y="202.20" width="10.90" height="4.78" fill="#e9eff8"/>
<rect x="195.30" y="202.20" width="10.50" height="4.78" fill="#f9f9f9"/>
<rect x="37.80" y="206.68" width="10.90" height="4.78" fill="#fde5bf"/>
<rect x="48.30" y="206.68" width="10.90" height="4.78" fill="#fde5bf"/>
<rect x="58.80" y="206.68" width="10.90" height="4.78" fill="#fde5bf"/>
<rect x="69.30" y="206.68" width="10.90" height="4.78" fill="#f9f9f9"/>
<rect x="79.80" y="206.68" width="10.90" height="4.78" fill="#f9f9f9"/>
<rect x="90.30" y="206.68" width="10.90" height="4.78" fill="#dbe7f4"/>
<rect x="100.80" y="206.68" width="10.90" height="4.78" fill="#e9eff8"/>
<rect x="111.30" y="206.68" width="10.90" height="4.78" fill="#c8daef"/>
<rect x="121.80" y="206.68" width="10.90" height="4.78" fill="#c8daef"/>
<rect x="132.30" y="206.68" width="10.90" height="4.78" fill="#e9eff8"/>
<rect x="142.80" y="206.68" width="10.90" height="4.78" fill="#f9f9f9"/>
<rect x="153.30" y="206.68" width="10.90" height="4.78" fill="#fde5bf"/>
<rect x="163.80" y="206.68" width="10.90" height="4.78" fill="#f9f9f9"/>
<rect x="174.30" y="206.68" width="10.90" height="4.78" fill="#dbe7f4"/>
<rect x="184.80" y="206.68" width="10.90" height="4.78" fill="#f9f9f9"/>
<rect x="195.30" y="206.68" width="10.50" height="4.78" fill="#e9eff8"/>
<rect x="37.80" y="211.16" width="10.90" height="4.78" fill="#fbdaa6"/>
<rect x="48.30" y="211.16" width="10.90" height="4.78" fill="#fde5bf"/>
<rect x="58.80" y="211.16" width="10.90" height="4.78" fill="#fde5bf"/>
<rect x="69.30" y="211.16" width="10.90" height="4.78" fill="#fde5bf"/>
<rect x="79.80" y="211.16" width="10.90" height="4.78" fill="#f9f9f9"/>
<rect x="90.30" y="211.16" width="10.90" height="4.78" fill="#90b6dd"/>
<rect x="100.80" y="211.16" width="10.90" height="4.78" fill="#e9eff8"/>
<rect x="111.30" y="211.16" width="10.90" height="4.78" fill="#c8daef"/>
<rect x="121.80" y="211.16" width="10.90" height="4.78" fill="#c8daef"/>
<rect x="132.30" y="211.16" width="10.90" height="4.78" fill="#e9eff8"/>
<rect x="142.80" y="211.16" width="10.90" height="4.78" fill="#fde5bf"/>
<rect x="153.30" y="211.16" width="10.90" height="4.78" fill="#fde5bf"/>
<rect x="163.80" y="211.16" width="10.90" height="4.78" fill="#e9eff8"/>
<rect x="174.30" y="211.16" width="10.90" height="4.78" fill="#e9eff8"/>
<rect x="184.80" y="211.16" width="10.90" height="4.78" fill="#f9f9f9"/>
<rect x="195.30" y="211.16" width="10.50" height="4.78" fill="#dbe7f4"/>
<rect x="37.80" y="215.64" width="10.90" height="4.78" fill="#f8ca7a"/>
<rect x="48.30" y="215.64" width="10.90" height="4.78" fill="#fde5bf"/>
<rect x="58.80" y="215.64" width="10.90" height="4.78" fill="#fde5bf"/>
<rect x="69.30" y="215.64" width="10.90" height="4.78" fill="#f9f9f9"/>
<rect x="79.80" y="215.64" width="10.90" height="4.78" fill="#c8daef"/>
<rect x="90.30" y="215.64" width="10.90" height="4.78" fill="#e9eff8"/>
<rect x="100.80" y="215.64" width="10.90" height="4.78" fill="#e9eff8"/>
<rect x="111.30" y="215.64" width="10.90" height="4.78" fill="#b1cbe7"/>
<rect x="121.80" y="215.64" width="10.90" height="4.78" fill="#c8daef"/>
<rect x="132.30" y="215.64" width="10.90" height="4.78" fill="#dbe7f4"/>
<rect x="142.80" y="215.64" width="10.90" height="4.78" fill="#f9f9f9"/>
<rect x="153.30" y="215.64" width="10.90" height="4.78" fill="#f9f9f9"/>
<rect x="163.80" y="215.64" width="10.90" height="4.78" fill="#fde5bf"/>
<rect x="174.30" y="215.64" width="10.90" height="4.78" fill="#e9eff8"/>
<rect x="184.80" y="215.64" width="10.90" height="4.78" fill="#f9f9f9"/>
<rect x="195.30" y="215.64" width="10.50" height="4.78" fill="#dbe7f4"/>
<rect x="37.80" y="220.12" width="10.90" height="4.78" fill="#f6bd58"/>
<rect x="48.30" y="220.12" width="10.90" height="4.78" fill="#f9f9f9"/>
<rect x="58.80" y="220.12" width="10.90" height="4.78" fill="#f2a733"/>
<rect x="69.30" y="220.12" width="10.90" height="4.78" fill="#e9eff8"/>
<rect x="79.80" y="220.12" width="10.90" height="4.78" fill="#90b6dd"/>
<rect x="90.30" y="220.12" width="10.90" height="4.78" fill="#f9f9f9"/>
<rect x="100.80" y="220.12" width="10.90" height="4.78" fill="#c8daef"/>
<rect x="111.30" y="220.12" width="10.90" height="4.78" fill="#b1cbe7"/>
<rect x="121.80" y="220.12" width="10.90" height="4.78" fill="#90b6dd"/>
<rect x="132.30" y="220.12" width="10.90" height="4.78" fill="#c8daef"/>
<rect x="142.80" y="220.12" width="10.90" height="4.78" fill="#e9eff8"/>
<rect x="153.30" y="220.12" width="10.90" height="4.78" fill="#f9f9f9"/>
<rect x="163.80" y="220.12" width="10.90" height="4.78" fill="#f6bd58"/>
<rect x="174.30" y="220.12" width="10.90" height="4.78" fill="#f9f9f9"/>
<rect x="184.80" y="220.12" width="10.90" height="4.78" fill="#e9eff8"/>
<rect x="195.30" y="220.12" width="10.50" height="4.78" fill="#b1cbe7"/>
<rect x="37.80" y="224.60" width="10.90" height="4.78" fill="#f6bd58"/>
<rect x="48.30" y="224.60" width="10.90" height="4.78" fill="#fde5bf"/>
<rect x="58.80" y="224.60" width="10.90" height="4.78" fill="#f6bd58"/>
<rect x="69.30" y="224.60" width="10.90" height="4.78" fill="#dbe7f4"/>
<rect x="79.80" y="224.60" width="10.90" height="4.78" fill="#f9f9f9"/>
<rect x="90.30" y="224.60" width="10.90" height="4.78" fill="#fde5bf"/>
<rect x="100.80" y="224.60" width="10.90" height="4.78" fill="#c8daef"/>
<rect x="111.30" y="224.60" width="10.90" height="4.78" fill="#90b6dd"/>
<rect x="121.80" y="224.60" width="10.90" height="4.78" fill="#c8daef"/>
<rect x="132.30" y="224.60" width="10.90" height="4.78" fill="#90b6dd"/>
<rect x="142.80" y="224.60" width="10.90" height="4.78" fill="#dbe7f4"/>
<rect x="153.30" y="224.60" width="10.90" height="4.78" fill="#c8daef"/>
<rect x="163.80" y="224.60" width="10.90" height="4.78" fill="#f8ca7a"/>
<rect x="174.30" y="224.60" width="10.90" height="4.78" fill="#e9eff8"/>
<rect x="184.80" y="224.60" width="10.90" height="4.78" fill="#f9f9f9"/>
<rect x="195.30" y="224.60" width="10.50" height="4.78" fill="#b1cbe7"/>
<rect x="37.80" y="229.08" width="10.90" height="4.78" fill="#f6bd58"/>
<rect x="48.30" y="229.08" width="10.90" height="4.78" fill="#fde5bf"/>
<rect x="58.80" y="229.08" width="10.90" height="4.78" fill="#fbdaa6"/>
<rect x="69.30" y="229.08" width="10.90" height="4.78" fill="#fde5bf"/>
<rect x="79.80" y="229.08" width="10.90" height="4.78" fill="#f9f9f9"/>
<rect x="90.30" y="229.08" width="10.90" height="4.78" fill="#c8daef"/>
<rect x="100.80" y="229.08" width="10.90" height="4.78" fill="#dbe7f4"/>
<rect x="111.30" y="229.08" width="10.90" height="4.78" fill="#c8daef"/>
<rect x="121.80" y="229.08" width="10.90" height="4.78" fill="#c8daef"/>
<rect x="132.30" y="229.08" width="10.90" height="4.78" fill="#b1cbe7"/>
<rect x="142.80" y="229.08" width="10.90" height="4.78" fill="#e9eff8"/>
<rect x="153.30" y="229.08" width="10.90" height="4.78" fill="#f9f9f9"/>
<rect x="163.80" y="229.08" width="10.90" height="4.78" fill="#fde5bf"/>
<rect x="174.30" y="229.08" width="10.90" height="4.78" fill="#dbe7f4"/>
<rect x="184.80" y="229.08" width="10.90" height="4.78" fill="#f9f9f9"/>
<rect x="195.30" y="229.08" width="10.50" height="4.78" fill="#c8daef"/>
<rect x="37.80" y="233.56" width="10.90" height="4.78" fill="#f8ca7a"/>
<rect x="48.30" y="233.56" width="10.90" height="4.78" fill="#fde5bf"/>
<rect x="58.80" y="233.56" width="10.90" height="4.78" fill="#fde5bf"/>
<rect x="69.30" y="233.56" width="10.90" height="4.78" fill="#f9f9f9"/>
<rect x="79.80" y="233.56" width="10.90" height="4.78" fill="#f9f9f9"/>
<rect x="90.30" y="233.56" width="10.90" height="4.78" fill="#f9f9f9"/>
<rect x="100.80" y="233.56" width="10.90" height="4.78" fill="#90b6dd"/>
<rect x="111.30" y="233.56" width="10.90" height="4.78" fill="#c8daef"/>
<rect x="121.80" y="233.56" width="10.90" height="4.78" fill="#b1cbe7"/>
<rect x="132.30" y="233.56" width="10.90" height="4.78" fill="#c8daef"/>
<rect x="142.80" y="233.56" width="10.90" height="4.78" fill="#fbdaa6"/>
<rect x="153.30" y="233.56" width="10.90" height="4.78" fill="#fde5bf"/>
<rect x="163.80" y="233.56" width="10.90" height="4.78" fill="#f9f9f9"/>
<rect x="174.30" y="233.56" width="10.90" height="4.78" fill="#c8daef"/>
<rect x="184.80" y="233.56" width="10.90" height="4.78" fill="#f9f9f9"/>
<rect x="195.30" y="233.56" width="10.50" height="4.78" fill="#e9eff8"/>
<rect x="37.80" y="238.04" width="10.90" height="4.78" fill="#fde5bf"/>
<rect x="48.30" y="238.04" width="10.90" height="4.78" fill="#fde5bf"/>
<rect x="58.80" y="238.04" width="10.90" height="4.78" fill="#fdf0de"/>
<rect x="69.30" y="238.04" width="10.90" height="4.78" fill="#f9f9f9"/>
<rect x="79.80" y="238.04" width="10.90" height="4.78" fill="#f9f9f9"/>
<rect x="90.30" y="238.04" width="10.90" height="4.78" fill="#e9eff8"/>
<rect x="100.80" y="238.04" width="10.90" height="4.78" fill="#b1cbe7"/>
<rect x="111.30" y="238.04" width="10.90" height="4.78" fill="#c8daef"/>
<rect x="121.80" y="238.04" width="10.90" height="4.78" fill="#c8daef"/>
<rect x="132.30" y="238.04" width="10.90" height="4.78" fill="#dbe7f4"/>
<rect x="142.80" y="238.04" width="10.90" height="4.78" fill="#fde5bf"/>
<rect x="153.30" y="238.04" width="10.90" height="4.78" fill="#f9f9f9"/>
<rect x="163.80" y="238.04" width="10.90" height="4.78" fill="#e9eff8"/>
<rect x="174.30" y="238.04" width="10.90" height="4.78" fill="#dbe7f4"/>
<rect x="184.80" y="238.04" width="10.90" height="4.78" fill="#e9eff8"/>
<rect x="195.30" y="238.04" width="10.50" height="4.78" fill="#e9eff8"/>
<rect x="37.80" y="242.52" width="10.90" height="4.78" fill="#f6bd58"/>
<rect x="48.30" y="242.52" width="10.90" height="4.78" fill="#fbdaa6"/>
<rect x="58.80" y="242.52" width="10.90" height="4.78" fill="#fde5bf"/>
<rect x="69.30" y="242.52" width="10.90" height="4.78" fill="#f9f9f9"/>
<rect x="79.80" y="242.52" width="10.90" height="4.78" fill="#fdf0de"/>
<rect x="90.30" y="242.52" width="10.90" height="4.78" fill="#fbdaa6"/>
<rect x="100.80" y="242.52" width="10.90" height="4.78" fill="#f9f9f9"/>
<rect x="111.30" y="242.52" width="10.90" height="4.78" fill="#6a9fd2"/>
<rect x="121.80" y="242.52" width="10.90" height="4.78" fill="#b1cbe7"/>
<rect x="132.30" y="242.52" width="10.90" height="4.78" fill="#2a6cb3"/>
<rect x="142.80" y="242.52" width="10.90" height="4.78" fill="#fde5bf"/>
<rect x="153.30" y="242.52" width="10.90" height="4.78" fill="#f9f9f9"/>
<rect x="163.80" y="242.52" width="10.90" height="4.78" fill="#fde5bf"/>
<rect x="174.30" y="242.52" width="10.90" height="4.78" fill="#e9eff8"/>
<rect x="184.80" y="242.52" width="10.90" height="4.78" fill="#fde5bf"/>
<rect x="195.30" y="242.52" width="10.50" height="4.78" fill="#e9eff8"/>
<rect x="37.80" y="247.00" width="10.90" height="4.78" fill="#f8ca7a"/>
<rect x="48.30" y="247.00" width="10.90" height="4.78" fill="#fde5bf"/>
<rect x="58.80" y="247.00" width="10.90" height="4.78" fill="#fbdaa6"/>
<rect x="69.30" y="247.00" width="10.90" height="4.78" fill="#fde5bf"/>
<rect x="79.80" y="247.00" width="10.90" height="4.78" fill="#fdf0de"/>
<rect x="90.30" y="247.00" width="10.90" height="4.78" fill="#fde5bf"/>
<rect x="100.80" y="247.00" width="10.90" height="4.78" fill="#fdf0de"/>
<rect x="111.30" y="247.00" width="10.90" height="4.78" fill="#90b6dd"/>
<rect x="121.80" y="247.00" width="10.90" height="4.78" fill="#c8daef"/>
<rect x="132.30" y="247.00" width="10.90" height="4.78" fill="#90b6dd"/>
<rect x="142.80" y="247.00" width="10.90" height="4.78" fill="#f8ca7a"/>
<rect x="153.30" y="247.00" width="10.90" height="4.78" fill="#fde5bf"/>
<rect x="163.80" y="247.00" width="10.90" height="4.78" fill="#fde5bf"/>
<rect x="174.30" y="247.00" width="10.90" height="4.78" fill="#b1cbe7"/>
<rect x="184.80" y="247.00" width="10.90" height="4.78" fill="#fde5bf"/>
<rect x="195.30" y="247.00" width="10.50" height="4.78" fill="#c8daef"/>
<rect x="37.80" y="251.48" width="10.90" height="4.78" fill="#f8ca7a"/>
<rect x="48.30" y="251.48" width="10.90" height="4.78" fill="#fde5bf"/>
<rect x="58.80" y="251.48" width="10.90" height="4.78" fill="#fbdaa6"/>
<rect x="69.30" y="251.48" width="10.90" height="4.78" fill="#fde5bf"/>
<rect x="79.80" y="251.48" width="10.90" height="4.78" fill="#c8daef"/>
<rect x="90.30" y="251.48" width="10.90" height="4.78" fill="#e9eff8"/>
<rect x="100.80" y="251.48" width="10.90" height="4.78" fill="#f9f9f9"/>
<rect x="111.30" y="251.48" width="10.90" height="4.78" fill="#b1cbe7"/>
<rect x="121.80" y="251.48" width="10.90" height="4.78" fill="#c8daef"/>
<rect x="132.30" y="251.48" width="10.90" height="4.78" fill="#90b6dd"/>
<rect x="142.80" y="251.48" width="10.90" height="4.78" fill="#f8ca7a"/>
<rect x="153.30" y="251.48" width="10.90" height="4.78" fill="#e9eff8"/>
<rect x="163.80" y="251.48" width="10.90" height="4.78" fill="#fbdaa6"/>
<rect x="174.30" y="251.48" width="10.90" height="4.78" fill="#b1cbe7"/>
<rect x="184.80" y="251.48" width="10.90" height="4.78" fill="#f9f9f9"/>
<rect x="195.30" y="251.48" width="10.50" height="4.78" fill="#c8daef"/>
<rect x="37.80" y="255.96" width="10.90" height="4.78" fill="#fbdaa6"/>
<rect x="48.30" y="255.96" width="10.90" height="4.78" fill="#f9f9f9"/>
<rect x="58.80" y="255.96" width="10.90" height="4.78" fill="#fbdaa6"/>
<rect x="69.30" y="255.96" width="10.90" height="4.78" fill="#fde5bf"/>
<rect x="79.80" y="255.96" width="10.90" height="4.78" fill="#fde5bf"/>
<rect x="90.30" y="255.96" width="10.90" height="4.78" fill="#f9f9f9"/>
<rect x="100.80" y="255.96" width="10.90" height="4.78" fill="#e9eff8"/>
<rect x="111.30" y="255.96" width="10.90" height="4.78" fill="#6a9fd2"/>
<rect x="121.80" y="255.96" width="10.90" height="4.78" fill="#90b6dd"/>
<rect x="132.30" y="255.96" width="10.90" height="4.78" fill="#6a9fd2"/>
<rect x="142.80" y="255.96" width="10.90" height="4.78" fill="#fde5bf"/>
<rect x="153.30" y="255.96" width="10.90" height="4.78" fill="#dbe7f4"/>
<rect x="163.80" y="255.96" width="10.90" height="4.78" fill="#fde5bf"/>
<rect x="174.30" y="255.96" width="10.90" height="4.78" fill="#c8daef"/>
<rect x="184.80" y="255.96" width="10.90" height="4.78" fill="#c8daef"/>
<rect x="195.30" y="255.96" width="10.50" height="4.78" fill="#c8daef"/>
<rect x="37.80" y="260.44" width="10.90" height="4.78" fill="#f8ca7a"/>
<rect x="48.30" y="260.44" width="10.90" height="4.78" fill="#fde5bf"/>
<rect x="58.80" y="260.44" width="10.90" height="4.78" fill="#f6bd58"/>
<rect x="69.30" y="260.44" width="10.90" height="4.78" fill="#f8ca7a"/>
<rect x="79.80" y="260.44" width="10.90" height="4.78" fill="#fde5bf"/>
<rect x="90.30" y="260.44" width="10.90" height="4.78" fill="#e9eff8"/>
<rect x="100.80" y="260.44" width="10.90" height="4.78" fill="#fdf0de"/>
<rect x="111.30" y="260.44" width="10.90" height="4.78" fill="#3f7fc0"/>
<rect x="121.80" y="260.44" width="10.90" height="4.78" fill="#f9f9f9"/>
<rect x="132.30" y="260.44" width="10.90" height="4.78" fill="#90b6dd"/>
<rect x="142.80" y="260.44" width="10.90" height="4.78" fill="#f9f9f9"/>
<rect x="153.30" y="260.44" width="10.90" height="4.78" fill="#e9eff8"/>
<rect x="163.80" y="260.44" width="10.90" height="4.78" fill="#fdf0de"/>
<rect x="174.30" y="260.44" width="10.90" height="4.78" fill="#dbe7f4"/>
<rect x="184.80" y="260.44" width="10.90" height="4.78" fill="#c8daef"/>
<rect x="195.30" y="260.44" width="10.50" height="4.78" fill="#c8daef"/>
<rect x="37.80" y="264.92" width="10.90" height="4.78" fill="#f8ca7a"/>
<rect x="48.30" y="264.92" width="10.90" height="4.78" fill="#fde5bf"/>
<rect x="58.80" y="264.92" width="10.90" height="4.78" fill="#fde5bf"/>
<rect x="69.30" y="264.92" width="10.90" height="4.78" fill="#fdf0de"/>
<rect x="79.80" y="264.92" width="10.90" height="4.78" fill="#f9f9f9"/>
<rect x="90.30" y="264.92" width="10.90" height="4.78" fill="#fde5bf"/>
<rect x="100.80" y="264.92" width="10.90" height="4.78" fill="#fde5bf"/>
<rect x="111.30" y="264.92" width="10.90" height="4.78" fill="#b1cbe7"/>
<rect x="121.80" y="264.92" width="10.90" height="4.78" fill="#90b6dd"/>
<rect x="132.30" y="264.92" width="10.90" height="4.78" fill="#c8daef"/>
<rect x="142.80" y="264.92" width="10.90" height="4.78" fill="#f9f9f9"/>
<rect x="153.30" y="264.92" width="10.90" height="4.78" fill="#dbe7f4"/>
<rect x="163.80" y="264.92" width="10.90" height="4.78" fill="#f9f9f9"/>
<rect x="174.30" y="264.92" width="10.90" height="4.78" fill="#f9f9f9"/>
<rect x="184.80" y="264.92" width="10.90" height="4.78" fill="#e9eff8"/>
<rect x="195.30" y="264.92" width="10.50" height="4.78" fill="#c8daef"/>
<rect x="37.80" y="269.40" width="10.90" height="4.78" fill="#f8ca7a"/>
<rect x="48.30" y="269.40" width="10.90" height="4.78" fill="#fde5bf"/>
<rect x="58.80" y="269.40" width="10.90" height="4.78" fill="#fde5bf"/>
<rect x="69.30" y="269.40" width="10.90" height="4.78" fill="#fde5bf"/>
<rect x="79.80" y="269.40" width="10.90" height="4.78" fill="#fde5bf"/>
<rect x="90.30" y="269.40" width="10.90" height="4.78" fill="#fdf0de"/>
<rect x="100.80" y="269.40" width="10.90" height="4.78" fill="#dbe7f4"/>
<rect x="111.30" y="269.40" width="10.90" height="4.78" fill="#90b6dd"/>
<rect x="121.80" y="269.40" width="10.90" height="4.78" fill="#90b6dd"/>
<rect x="132.30" y="269.40" width="10.90" height="4.78" fill="#c8daef"/>
<rect x="142.80" y="269.40" width="10.90" height="4.78" fill="#fde5bf"/>
<rect x="153.30" y="269.40" width="10.90" height="4.78" fill="#e9eff8"/>
<rect x="163.80" y="269.40" width="10.90" height="4.78" fill="#fde5bf"/>
<rect x="174.30" y="269.40" width="10.90" height="4.78" fill="#e9eff8"/>
<rect x="184.80" y="269.40" width="10.90" height="4.78" fill="#e9eff8"/>
<rect x="195.30" y="269.40" width="10.50" height="4.78" fill="#e9eff8"/>
<rect x="37.80" y="273.88" width="10.90" height="4.78" fill="#f6bd58"/>
<rect x="48.30" y="273.88" width="10.90" height="4.78" fill="#fde5bf"/>
<rect x="58.80" y="273.88" width="10.90" height="4.78" fill="#fde5bf"/>
<rect x="69.30" y="273.88" width="10.90" height="4.78" fill="#fde5bf"/>
<rect x="79.80" y="273.88" width="10.90" height="4.78" fill="#f9f9f9"/>
<rect x="90.30" y="273.88" width="10.90" height="4.78" fill="#f9f9f9"/>
<rect x="100.80" y="273.88" width="10.90" height="4.78" fill="#c8daef"/>
<rect x="111.30" y="273.88" width="10.90" height="4.78" fill="#c8daef"/>
<rect x="121.80" y="273.88" width="10.90" height="4.78" fill="#90b6dd"/>
<rect x="132.30" y="273.88" width="10.90" height="4.78" fill="#c8daef"/>
<rect x="142.80" y="273.88" width="10.90" height="4.78" fill="#fde5bf"/>
<rect x="153.30" y="273.88" width="10.90" height="4.78" fill="#dbe7f4"/>
<rect x="163.80" y="273.88" width="10.90" height="4.78" fill="#fde5bf"/>
<rect x="174.30" y="273.88" width="10.90" height="4.78" fill="#e9eff8"/>
<rect x="184.80" y="273.88" width="10.90" height="4.78" fill="#f9f9f9"/>
<rect x="195.30" y="273.88" width="10.50" height="4.78" fill="#e9eff8"/>
<rect x="37.80" y="278.36" width="10.90" height="4.48" fill="#f6bd58"/>
<rect x="48.30" y="278.36" width="10.90" height="4.48" fill="#fde5bf"/>
<rect x="58.80" y="278.36" width="10.90" height="4.48" fill="#fde5bf"/>
<rect x="69.30" y="278.36" width="10.90" height="4.48" fill="#f8ca7a"/>
<rect x="79.80" y="278.36" width="10.90" height="4.48" fill="#f9f9f9"/>
<rect x="90.30" y="278.36" width="10.90" height="4.48" fill="#f9f9f9"/>
<rect x="100.80" y="278.36" width="10.90" height="4.48" fill="#f9f9f9"/>
<rect x="111.30" y="278.36" width="10.90" height="4.48" fill="#6a9fd2"/>
<rect x="121.80" y="278.36" width="10.90" height="4.48" fill="#90b6dd"/>
<rect x="132.30" y="278.36" width="10.90" height="4.48" fill="#b1cbe7"/>
<rect x="142.80" y="278.36" width="10.90" height="4.48" fill="#fde5bf"/>
<rect x="153.30" y="278.36" width="10.90" height="4.48" fill="#dbe7f4"/>
<rect x="163.80" y="278.36" width="10.90" height="4.48" fill="#fde5bf"/>
<rect x="174.30" y="278.36" width="10.90" height="4.48" fill="#e9eff8"/>
<rect x="184.80" y="278.36" width="10.90" height="4.48" fill="#f9f9f9"/>
<rect x="195.30" y="278.36" width="10.50" height="4.48" fill="#c8daef"/>
</g>
<rect x="33.5" y="43.9" width="3.5" height="22.3" fill="#5cae6e"/>
<rect x="33.5" y="67.7" width="3.5" height="215.1" fill="#a68cc6"/>
<line x1="32.50" y1="45.49" x2="24.30" y2="45.49" stroke="#c8c8d0" stroke-width="0.5"/>
<line x1="32.50" y1="50.07" x2="24.30" y2="50.07" stroke="#c8c8d0" stroke-width="0.5"/>
<line x1="24.30" y1="45.49" x2="24.30" y2="50.07" stroke="#c8c8d0" stroke-width="0.5"/>
<line x1="32.50" y1="59.23" x2="24.30" y2="59.23" stroke="#c8c8d0" stroke-width="0.5"/>
<line x1="32.50" y1="63.81" x2="24.30" y2="63.81" stroke="#c8c8d0" stroke-width="0.5"/>
<line x1="24.30" y1="59.23" x2="24.30" y2="63.81" stroke="#c8c8d0" stroke-width="0.5"/>
<line x1="32.50" y1="54.65" x2="18.20" y2="54.65" stroke="#c8c8d0" stroke-width="0.5"/>
<line x1="24.30" y1="61.52" x2="18.20" y2="61.52" stroke="#c8c8d0" stroke-width="0.5"/>
<line x1="18.20" y1="54.65" x2="18.20" y2="61.52" stroke="#c8c8d0" stroke-width="0.5"/>
<line x1="24.30" y1="47.78" x2="15.30" y2="47.78" stroke="#c8c8d0" stroke-width="0.5"/>
<line x1="18.20" y1="58.09" x2="15.30" y2="58.09" stroke="#c8c8d0" stroke-width="0.5"/>
<line x1="15.30" y1="47.78" x2="15.30" y2="58.09" stroke="#c8c8d0" stroke-width="0.5"/>
<line x1="32.50" y1="70.04" x2="30.20" y2="70.04" stroke="#c8c8d0" stroke-width="0.5"/>
<line x1="32.50" y1="74.52" x2="30.20" y2="74.52" stroke="#c8c8d0" stroke-width="0.5"/>
<line x1="30.20" y1="70.04" x2="30.20" y2="74.52" stroke="#c8c8d0" stroke-width="0.5"/>
<line x1="30.20" y1="72.28" x2="29.05" y2="72.28" stroke="#c8c8d0" stroke-width="0.5"/>
<line x1="32.50" y1="79.00" x2="29.05" y2="79.00" stroke="#c8c8d0" stroke-width="0.5"/>
<line x1="29.05" y1="72.28" x2="29.05" y2="79.00" stroke="#c8c8d0" stroke-width="0.5"/>
<line x1="32.50" y1="83.48" x2="30.77" y2="83.48" stroke="#c8c8d0" stroke-width="0.5"/>
<line x1="32.50" y1="87.96" x2="30.77" y2="87.96" stroke="#c8c8d0" stroke-width="0.5"/>
<line x1="30.77" y1="83.48" x2="30.77" y2="87.96" stroke="#c8c8d0" stroke-width="0.5"/>
<line x1="32.50" y1="92.44" x2="31.38" y2="92.44" stroke="#c8c8d0" stroke-width="0.5"/>
<line x1="32.50" y1="96.92" x2="31.38" y2="96.92" stroke="#c8c8d0" stroke-width="0.5"/>
<line x1="31.38" y1="92.44" x2="31.38" y2="96.92" stroke="#c8c8d0" stroke-width="0.5"/>
<line x1="30.77" y1="85.72" x2="28.75" y2="85.72" stroke="#c8c8d0" stroke-width="0.5"/>
<line x1="31.38" y1="94.68" x2="28.75" y2="94.68" stroke="#c8c8d0" stroke-width="0.5"/>
<line x1="28.75" y1="85.72" x2="28.75" y2="94.68" stroke="#c8c8d0" stroke-width="0.5"/>
<line x1="29.05" y1="75.64" x2="27.68" y2="75.64" stroke="#c8c8d0" stroke-width="0.5"/>
<line x1="28.75" y1="90.20" x2="27.68" y2="90.20" stroke="#c8c8d0" stroke-width="0.5"/>
<line x1="27.68" y1="75.64" x2="27.68" y2="90.20" stroke="#c8c8d0" stroke-width="0.5"/>
<line x1="32.50" y1="101.40" x2="30.66" y2="101.40" stroke="#c8c8d0" stroke-width="0.5"/>
<line x1="32.50" y1="105.88" x2="30.66" y2="105.88" stroke="#c8c8d0" stroke-width="0.5"/>
<line x1="30.66" y1="101.40" x2="30.66" y2="105.88" stroke="#c8c8d0" stroke-width="0.5"/>
<line x1="32.50" y1="110.36" x2="31.32" y2="110.36" stroke="#c8c8d0" stroke-width="0.5"/>
<line x1="32.50" y1="114.84" x2="31.32" y2="114.84" stroke="#c8c8d0" stroke-width="0.5"/>
<line x1="31.32" y1="110.36" x2="31.32" y2="114.84" stroke="#c8c8d0" stroke-width="0.5"/>
<line x1="32.50" y1="119.32" x2="30.65" y2="119.32" stroke="#c8c8d0" stroke-width="0.5"/>
<line x1="32.50" y1="123.80" x2="30.65" y2="123.80" stroke="#c8c8d0" stroke-width="0.5"/>
<line x1="30.65" y1="119.32" x2="30.65" y2="123.80" stroke="#c8c8d0" stroke-width="0.5"/>
<line x1="31.32" y1="112.60" x2="28.00" y2="112.60" stroke="#c8c8d0" stroke-width="0.5"/>
<line x1="30.65" y1="121.56" x2="28.00" y2="121.56" stroke="#c8c8d0" stroke-width="0.5"/>
<line x1="28.00" y1="112.60" x2="28.00" y2="121.56" stroke="#c8c8d0" stroke-width="0.5"/>
<line x1="30.66" y1="103.64" x2="26.75" y2="103.64" stroke="#c8c8d0" stroke-width="0.5"/>
<line x1="28.00" y1="117.08" x2="26.75" y2="117.08" stroke="#c8c8d0" stroke-width="0.5"/>
<line x1="26.75" y1="103.64" x2="26.75" y2="117.08" stroke="#c8c8d0" stroke-width="0.5"/>
<line x1="27.68" y1="82.92" x2="25.30" y2="82.92" stroke="#c8c8d0" stroke-width="0.5"/>
<line x1="26.75" y1="110.36" x2="25.30" y2="110.36" stroke="#c8c8d0" stroke-width="0.5"/>
<line x1="25.30" y1="82.92" x2="25.30" y2="110.36" stroke="#c8c8d0" stroke-width="0.5"/>
<line x1="32.50" y1="128.28" x2="31.40" y2="128.28" stroke="#c8c8d0" stroke-width="0.5"/>
<line x1="32.50" y1="132.76" x2="31.40" y2="132.76" stroke="#c8c8d0" stroke-width="0.5"/>
<line x1="31.40" y1="128.28" x2="31.40" y2="132.76" stroke="#c8c8d0" stroke-width="0.5"/>
<line x1="32.50" y1="137.24" x2="31.41" y2="137.24" stroke="#c8c8d0" stroke-width="0.5"/>
<line x1="32.50" y1="141.72" x2="31.41" y2="141.72" stroke="#c8c8d0" stroke-width="0.5"/>
<line x1="31.41" y1="137.24" x2="31.41" y2="141.72" stroke="#c8c8d0" stroke-width="0.5"/>
<line x1="32.50" y1="146.20" x2="29.78" y2="146.20" stroke="#c8c8d0" stroke-width="0.5"/>
<line x1="32.50" y1="150.68" x2="29.78" y2="150.68" stroke="#c8c8d0" stroke-width="0.5"/>
<line x1="29.78" y1="146.20" x2="29.78" y2="150.68" stroke="#c8c8d0" stroke-width="0.5"/>
<line x1="31.41" y1="139.48" x2="28.20" y2="139.48" stroke="#c8c8d0" stroke-width="0.5"/>
<line x1="29.78" y1="148.44" x2="28.20" y2="148.44" stroke="#c8c8d0" stroke-width="0.5"/>
<line x1="28.20" y1="139.48" x2="28.20" y2="148.44" stroke="#c8c8d0" stroke-width="0.5"/>
<line x1="31.40" y1="130.52" x2="26.92" y2="130.52" stroke="#c8c8d0" stroke-width="0.5"/>
<line x1="28.20" y1="143.96" x2="26.92" y2="143.96" stroke="#c8c8d0" stroke-width="0.5"/>
<line x1="26.92" y1="130.52" x2="26.92" y2="143.96" stroke="#c8c8d0" stroke-width="0.5"/>
<line x1="32.50" y1="155.16" x2="30.36" y2="155.16" stroke="#c8c8d0" stroke-width="0.5"/>
<line x1="32.50" y1="159.64" x2="30.36" y2="159.64" stroke="#c8c8d0" stroke-width="0.5"/>
<line x1="30.36" y1="155.16" x2="30.36" y2="159.64" stroke="#c8c8d0" stroke-width="0.5"/>
<line x1="30.36" y1="157.40" x2="28.24" y2="157.40" stroke="#c8c8d0" stroke-width="0.5"/>
<line x1="32.50" y1="164.12" x2="28.24" y2="164.12" stroke="#c8c8d0" stroke-width="0.5"/>
<line x1="28.24" y1="157.40" x2="28.24" y2="164.12" stroke="#c8c8d0" stroke-width="0.5"/>
<line x1="32.50" y1="168.60" x2="30.14" y2="168.60" stroke="#c8c8d0" stroke-width="0.5"/>
<line x1="32.50" y1="173.08" x2="30.14" y2="173.08" stroke="#c8c8d0" stroke-width="0.5"/>
<line x1="30.14" y1="168.60" x2="30.14" y2="173.08" stroke="#c8c8d0" stroke-width="0.5"/>
<line x1="28.24" y1="160.76" x2="27.03" y2="160.76" stroke="#c8c8d0" stroke-width="0.5"/>
<line x1="30.14" y1="170.84" x2="27.03" y2="170.84" stroke="#c8c8d0" stroke-width="0.5"/>
<line x1="27.03" y1="160.76" x2="27.03" y2="170.84" stroke="#c8c8d0" stroke-width="0.5"/>
<line x1="26.92" y1="137.24" x2="24.77" y2="137.24" stroke="#c8c8d0" stroke-width="0.5"/>
<line x1="27.03" y1="165.80" x2="24.77" y2="165.80" stroke="#c8c8d0" stroke-width="0.5"/>
<line x1="24.77" y1="137.24" x2="24.77" y2="165.80" stroke="#c8c8d0" stroke-width="0.5"/>
<line x1="25.30" y1="96.64" x2="23.40" y2="96.64" stroke="#c8c8d0" stroke-width="0.5"/>
<line x1="24.77" y1="151.52" x2="23.40" y2="151.52" stroke="#c8c8d0" stroke-width="0.5"/>
<line x1="23.40" y1="96.64" x2="23.40" y2="151.52" stroke="#c8c8d0" stroke-width="0.5"/>
<line x1="32.50" y1="177.56" x2="30.26" y2="177.56" stroke="#c8c8d0" stroke-width="0.5"/>
<line x1="32.50" y1="182.04" x2="30.26" y2="182.04" stroke="#c8c8d0" stroke-width="0.5"/>
<line x1="30.26" y1="177.56" x2="30.26" y2="182.04" stroke="#c8c8d0" stroke-width="0.5"/>
<line x1="30.26" y1="179.80" x2="28.27" y2="179.80" stroke="#c8c8d0" stroke-width="0.5"/>
<line x1="32.50" y1="186.52" x2="28.27" y2="186.52" stroke="#c8c8d0" stroke-width="0.5"/>
<line x1="28.27" y1="179.80" x2="28.27" y2="186.52" stroke="#c8c8d0" stroke-width="0.5"/>
<line x1="32.50" y1="191.00" x2="30.44" y2="191.00" stroke="#c8c8d0" stroke-width="0.5"/>
<line x1="32.50" y1="195.48" x2="30.44" y2="195.48" stroke="#c8c8d0" stroke-width="0.5"/>
<line x1="30.44" y1="191.00" x2="30.44" y2="195.48" stroke="#c8c8d0" stroke-width="0.5"/>
<line x1="30.44" y1="193.24" x2="27.88" y2="193.24" stroke="#c8c8d0" stroke-width="0.5"/>
<line x1="32.50" y1="199.96" x2="27.88" y2="199.96" stroke="#c8c8d0" stroke-width="0.5"/>
<line x1="27.88" y1="193.24" x2="27.88" y2="199.96" stroke="#c8c8d0" stroke-width="0.5"/>
<line x1="28.27" y1="183.16" x2="25.95" y2="183.16" stroke="#c8c8d0" stroke-width="0.5"/>
<line x1="27.88" y1="196.60" x2="25.95" y2="196.60" stroke="#c8c8d0" stroke-width="0.5"/>
<line x1="25.95" y1="183.16" x2="25.95" y2="196.60" stroke="#c8c8d0" stroke-width="0.5"/>
<line x1="32.50" y1="204.44" x2="30.78" y2="204.44" stroke="#c8c8d0" stroke-width="0.5"/>
<line x1="32.50" y1="208.92" x2="30.78" y2="208.92" stroke="#c8c8d0" stroke-width="0.5"/>
<line x1="30.78" y1="204.44" x2="30.78" y2="208.92" stroke="#c8c8d0" stroke-width="0.5"/>
<line x1="32.50" y1="213.40" x2="29.91" y2="213.40" stroke="#c8c8d0" stroke-width="0.5"/>
<line x1="32.50" y1="217.88" x2="29.91" y2="217.88" stroke="#c8c8d0" stroke-width="0.5"/>
<line x1="29.91" y1="213.40" x2="29.91" y2="217.88" stroke="#c8c8d0" stroke-width="0.5"/>
<line x1="32.50" y1="222.36" x2="30.10" y2="222.36" stroke="#c8c8d0" stroke-width="0.5"/>
<line x1="32.50" y1="226.84" x2="30.10" y2="226.84" stroke="#c8c8d0" stroke-width="0.5"/>
<line x1="30.10" y1="222.36" x2="30.10" y2="226.84" stroke="#c8c8d0" stroke-width="0.5"/>
<line x1="29.91" y1="215.64" x2="28.42" y2="215.64" stroke="#c8c8d0" stroke-width="0.5"/>
<line x1="30.10" y1="224.60" x2="28.42" y2="224.60" stroke="#c8c8d0" stroke-width="0.5"/>
<line x1="28.42" y1="215.64" x2="28.42" y2="224.60" stroke="#c8c8d0" stroke-width="0.5"/>
<line x1="30.78" y1="206.68" x2="26.27" y2="206.68" stroke="#c8c8d0" stroke-width="0.5"/>
<line x1="28.42" y1="220.12" x2="26.27" y2="220.12" stroke="#c8c8d0" stroke-width="0.5"/>
<line x1="26.27" y1="206.68" x2="26.27" y2="220.12" stroke="#c8c8d0" stroke-width="0.5"/>
<line x1="25.95" y1="189.88" x2="23.90" y2="189.88" stroke="#c8c8d0" stroke-width="0.5"/>
<line x1="26.27" y1="213.40" x2="23.90" y2="213.40" stroke="#c8c8d0" stroke-width="0.5"/>
<line x1="23.90" y1="189.88" x2="23.90" y2="213.40" stroke="#c8c8d0" stroke-width="0.5"/>
<line x1="32.50" y1="231.32" x2="30.92" y2="231.32" stroke="#c8c8d0" stroke-width="0.5"/>
<line x1="32.50" y1="235.80" x2="30.92" y2="235.80" stroke="#c8c8d0" stroke-width="0.5"/>
<line x1="30.92" y1="231.32" x2="30.92" y2="235.80" stroke="#c8c8d0" stroke-width="0.5"/>
<line x1="30.92" y1="233.56" x2="27.96" y2="233.56" stroke="#c8c8d0" stroke-width="0.5"/>
<line x1="32.50" y1="240.28" x2="27.96" y2="240.28" stroke="#c8c8d0" stroke-width="0.5"/>
<line x1="27.96" y1="233.56" x2="27.96" y2="240.28" stroke="#c8c8d0" stroke-width="0.5"/>
<line x1="32.50" y1="244.76" x2="30.48" y2="244.76" stroke="#c8c8d0" stroke-width="0.5"/>
<line x1="32.50" y1="249.24" x2="30.48" y2="249.24" stroke="#c8c8d0" stroke-width="0.5"/>
<line x1="30.48" y1="244.76" x2="30.48" y2="249.24" stroke="#c8c8d0" stroke-width="0.5"/>
<line x1="32.50" y1="253.72" x2="31.17" y2="253.72" stroke="#c8c8d0" stroke-width="0.5"/>
<line x1="32.50" y1="258.20" x2="31.17" y2="258.20" stroke="#c8c8d0" stroke-width="0.5"/>
<line x1="31.17" y1="253.72" x2="31.17" y2="258.20" stroke="#c8c8d0" stroke-width="0.5"/>
<line x1="30.48" y1="247.00" x2="28.79" y2="247.00" stroke="#c8c8d0" stroke-width="0.5"/>
<line x1="31.17" y1="255.96" x2="28.79" y2="255.96" stroke="#c8c8d0" stroke-width="0.5"/>
<line x1="28.79" y1="247.00" x2="28.79" y2="255.96" stroke="#c8c8d0" stroke-width="0.5"/>
<line x1="27.96" y1="236.92" x2="25.10" y2="236.92" stroke="#c8c8d0" stroke-width="0.5"/>
<line x1="28.79" y1="251.48" x2="25.10" y2="251.48" stroke="#c8c8d0" stroke-width="0.5"/>
<line x1="25.10" y1="236.92" x2="25.10" y2="251.48" stroke="#c8c8d0" stroke-width="0.5"/>
<line x1="32.50" y1="262.68" x2="31.42" y2="262.68" stroke="#c8c8d0" stroke-width="0.5"/>
<line x1="32.50" y1="267.16" x2="31.42" y2="267.16" stroke="#c8c8d0" stroke-width="0.5"/>
<line x1="31.42" y1="262.68" x2="31.42" y2="267.16" stroke="#c8c8d0" stroke-width="0.5"/>
<line x1="32.50" y1="271.64" x2="30.16" y2="271.64" stroke="#c8c8d0" stroke-width="0.5"/>
<line x1="32.50" y1="276.12" x2="30.16" y2="276.12" stroke="#c8c8d0" stroke-width="0.5"/>
<line x1="30.16" y1="271.64" x2="30.16" y2="276.12" stroke="#c8c8d0" stroke-width="0.5"/>
<line x1="30.16" y1="273.88" x2="27.63" y2="273.88" stroke="#c8c8d0" stroke-width="0.5"/>
<line x1="32.50" y1="280.60" x2="27.63" y2="280.60" stroke="#c8c8d0" stroke-width="0.5"/>
<line x1="27.63" y1="273.88" x2="27.63" y2="280.60" stroke="#c8c8d0" stroke-width="0.5"/>
<line x1="31.42" y1="264.92" x2="25.49" y2="264.92" stroke="#c8c8d0" stroke-width="0.5"/>
<line x1="27.63" y1="277.24" x2="25.49" y2="277.24" stroke="#c8c8d0" stroke-width="0.5"/>
<line x1="25.49" y1="264.92" x2="25.49" y2="277.24" stroke="#c8c8d0" stroke-width="0.5"/>
<line x1="25.10" y1="244.20" x2="22.35" y2="244.20" stroke="#c8c8d0" stroke-width="0.5"/>
<line x1="25.49" y1="271.08" x2="22.35" y2="271.08" stroke="#c8c8d0" stroke-width="0.5"/>
<line x1="22.35" y1="244.20" x2="22.35" y2="271.08" stroke="#c8c8d0" stroke-width="0.5"/>
<line x1="23.90" y1="201.64" x2="20.72" y2="201.64" stroke="#c8c8d0" stroke-width="0.5"/>
<line x1="22.35" y1="257.64" x2="20.72" y2="257.64" stroke="#c8c8d0" stroke-width="0.5"/>
<line x1="20.72" y1="201.64" x2="20.72" y2="257.64" stroke="#c8c8d0" stroke-width="0.5"/>
<line x1="23.40" y1="124.08" x2="15.60" y2="124.08" stroke="#c8c8d0" stroke-width="0.5"/>
<line x1="20.72" y1="229.64" x2="15.60" y2="229.64" stroke="#c8c8d0" stroke-width="0.5"/>
<line x1="15.60" y1="124.08" x2="15.60" y2="229.64" stroke="#c8c8d0" stroke-width="0.5"/>
<text transform="matrix(0.1,0.0001,0,0.1,209.00,45.95)" font-size="40.30" text-anchor="start" fill="#1a1a1a" font-weight="normal" stroke="#1a1a1a" stroke-width="1.20" >OAS1</text>
<text transform="matrix(0.1,0.0001,0,0.1,209.00,50.50)" font-size="40.30" text-anchor="start" fill="#1a1a1a" font-weight="normal" stroke="#1a1a1a" stroke-width="1.20" >FGD2</text>
<text transform="matrix(0.1,0.0001,0,0.1,209.00,55.04)" font-size="40.30" text-anchor="start" fill="#1a1a1a" font-weight="normal" stroke="#1a1a1a" stroke-width="1.20" >PLTP</text>
<text transform="matrix(0.1,0.0001,0,0.1,209.00,59.59)" font-size="40.30" text-anchor="start" fill="#1a1a1a" font-weight="normal" stroke="#1a1a1a" stroke-width="1.20" >TXNDC5</text>
<text transform="matrix(0.1,0.0001,0,0.1,209.00,64.13)" font-size="40.30" text-anchor="start" fill="#1a1a1a" font-weight="normal" stroke="#1a1a1a" stroke-width="1.20" >LAMC1</text>
<text transform="matrix(0.1,0.0001,0,0.1,209.00,68.68)" font-size="40.30" text-anchor="start" fill="#1a1a1a" font-weight="normal" stroke="#1a1a1a" stroke-width="1.20" >CDKN1A</text>
<text transform="matrix(0.1,0.0001,0,0.1,209.00,73.23)" font-size="40.30" text-anchor="start" fill="#1a1a1a" font-weight="normal" stroke="#1a1a1a" stroke-width="1.20" >ACSL4</text>
<text transform="matrix(0.1,0.0001,0,0.1,209.00,77.77)" font-size="40.30" text-anchor="start" fill="#1a1a1a" font-weight="normal" stroke="#1a1a1a" stroke-width="1.20" >FCAR</text>
<text transform="matrix(0.1,0.0001,0,0.1,209.00,82.32)" font-size="40.30" text-anchor="start" fill="#1a1a1a" font-weight="normal" stroke="#1a1a1a" stroke-width="1.20" >MECP2</text>
<text transform="matrix(0.1,0.0001,0,0.1,209.00,86.86)" font-size="40.30" text-anchor="start" fill="#1a1a1a" font-weight="normal" stroke="#1a1a1a" stroke-width="1.20" >GPR3</text>
<text transform="matrix(0.1,0.0001,0,0.1,209.00,91.41)" font-size="40.30" text-anchor="start" fill="#1a1a1a" font-weight="normal" stroke="#1a1a1a" stroke-width="1.20" >SRC</text>
<text transform="matrix(0.1,0.0001,0,0.1,209.00,95.96)" font-size="40.30" text-anchor="start" fill="#1a1a1a" font-weight="normal" stroke="#1a1a1a" stroke-width="1.20" >PPARD</text>
<text transform="matrix(0.1,0.0001,0,0.1,209.00,100.50)" font-size="40.30" text-anchor="start" fill="#1a1a1a" font-weight="normal" stroke="#1a1a1a" stroke-width="1.20" >PTPN1</text>
<text transform="matrix(0.1,0.0001,0,0.1,209.00,105.05)" font-size="40.30" text-anchor="start" fill="#1a1a1a" font-weight="normal" stroke="#1a1a1a" stroke-width="1.20" >UBE4B</text>
<text transform="matrix(0.1,0.0001,0,0.1,209.00,109.59)" font-size="40.30" text-anchor="start" fill="#1a1a1a" font-weight="normal" stroke="#1a1a1a" stroke-width="1.20" >CSAD</text>
<text transform="matrix(0.1,0.0001,0,0.1,209.00,114.14)" font-size="40.30" text-anchor="start" fill="#1a1a1a" font-weight="normal" stroke="#1a1a1a" stroke-width="1.20" >MEFV</text>
<text transform="matrix(0.1,0.0001,0,0.1,209.00,118.69)" font-size="40.30" text-anchor="start" fill="#1a1a1a" font-weight="normal" stroke="#1a1a1a" stroke-width="1.20" >SKI</text>
<text transform="matrix(0.1,0.0001,0,0.1,209.00,123.23)" font-size="40.30" text-anchor="start" fill="#1a1a1a" font-weight="normal" stroke="#1a1a1a" stroke-width="1.20" >PF4</text>
<text transform="matrix(0.1,0.0001,0,0.1,209.00,127.78)" font-size="40.30" text-anchor="start" fill="#1a1a1a" font-weight="normal" stroke="#1a1a1a" stroke-width="1.20" >ILK</text>
<text transform="matrix(0.1,0.0001,0,0.1,209.00,132.32)" font-size="40.30" text-anchor="start" fill="#1a1a1a" font-weight="normal" stroke="#1a1a1a" stroke-width="1.20" >MAML3</text>
<text transform="matrix(0.1,0.0001,0,0.1,209.00,136.87)" font-size="40.30" text-anchor="start" fill="#1a1a1a" font-weight="normal" stroke="#1a1a1a" stroke-width="1.20" >F11R</text>
<text transform="matrix(0.1,0.0001,0,0.1,209.00,141.42)" font-size="40.30" text-anchor="start" fill="#1a1a1a" font-weight="normal" stroke="#1a1a1a" stroke-width="1.20" >ITGA2B</text>
<text transform="matrix(0.1,0.0001,0,0.1,209.00,145.96)" font-size="40.30" text-anchor="start" fill="#1a1a1a" font-weight="normal" stroke="#1a1a1a" stroke-width="1.20" >ITGB3</text>
<text transform="matrix(0.1,0.0001,0,0.1,209.00,150.51)" font-size="40.30" text-anchor="start" fill="#1a1a1a" font-weight="normal" stroke="#1a1a1a" stroke-width="1.20" >HLA-B</text>
<text transform="matrix(0.1,0.0001,0,0.1,209.00,155.05)" font-size="40.30" text-anchor="start" fill="#1a1a1a" font-weight="normal" stroke="#1a1a1a" stroke-width="1.20" >CXCR4</text>
<text transform="matrix(0.1,0.0001,0,0.1,209.00,159.60)" font-size="40.30" text-anchor="start" fill="#1a1a1a" font-weight="normal" stroke="#1a1a1a" stroke-width="1.20" >JUN</text>
<text transform="matrix(0.1,0.0001,0,0.1,209.00,164.15)" font-size="40.30" text-anchor="start" fill="#1a1a1a" font-weight="normal" stroke="#1a1a1a" stroke-width="1.20" >HSP90AA1</text>
<text transform="matrix(0.1,0.0001,0,0.1,209.00,168.69)" font-size="40.30" text-anchor="start" fill="#1a1a1a" font-weight="normal" stroke="#1a1a1a" stroke-width="1.20" >VEGFA</text>
<text transform="matrix(0.1,0.0001,0,0.1,209.00,173.24)" font-size="40.30" text-anchor="start" fill="#1a1a1a" font-weight="normal" stroke="#1a1a1a" stroke-width="1.20" >RAPGEF1</text>
<text transform="matrix(0.1,0.0001,0,0.1,209.00,177.78)" font-size="40.30" text-anchor="start" fill="#1a1a1a" font-weight="normal" stroke="#1a1a1a" stroke-width="1.20" >ITGA5</text>
<text transform="matrix(0.1,0.0001,0,0.1,209.00,182.33)" font-size="40.30" text-anchor="start" fill="#1a1a1a" font-weight="normal" stroke="#1a1a1a" stroke-width="1.20" >CSNK1D</text>
<text transform="matrix(0.1,0.0001,0,0.1,209.00,186.88)" font-size="40.30" text-anchor="start" fill="#1a1a1a" font-weight="normal" stroke="#1a1a1a" stroke-width="1.20" >AP1G1</text>
<text transform="matrix(0.1,0.0001,0,0.1,209.00,191.42)" font-size="40.30" text-anchor="start" fill="#1a1a1a" font-weight="normal" stroke="#1a1a1a" stroke-width="1.20" >MTMR4</text>
<text transform="matrix(0.1,0.0001,0,0.1,209.00,195.97)" font-size="40.30" text-anchor="start" fill="#1a1a1a" font-weight="normal" stroke="#1a1a1a" stroke-width="1.20" >HLA-F</text>
<text transform="matrix(0.1,0.0001,0,0.1,209.00,200.51)" font-size="40.30" text-anchor="start" fill="#1a1a1a" font-weight="normal" stroke="#1a1a1a" stroke-width="1.20" >STK4</text>
<text transform="matrix(0.1,0.0001,0,0.1,209.00,205.06)" font-size="40.30" text-anchor="start" fill="#1a1a1a" font-weight="normal" stroke="#1a1a1a" stroke-width="1.20" >DAPK1</text>
<text transform="matrix(0.1,0.0001,0,0.1,209.00,209.61)" font-size="40.30" text-anchor="start" fill="#1a1a1a" font-weight="normal" stroke="#1a1a1a" stroke-width="1.20" >PLCG2</text>
<text transform="matrix(0.1,0.0001,0,0.1,209.00,214.15)" font-size="40.30" text-anchor="start" fill="#1a1a1a" font-weight="normal" stroke="#1a1a1a" stroke-width="1.20" >SP3</text>
<text transform="matrix(0.1,0.0001,0,0.1,209.00,218.70)" font-size="40.30" text-anchor="start" fill="#1a1a1a" font-weight="normal" stroke="#1a1a1a" stroke-width="1.20" >PECAM1</text>
<text transform="matrix(0.1,0.0001,0,0.1,209.00,223.24)" font-size="40.30" text-anchor="start" fill="#1a1a1a" font-weight="normal" stroke="#1a1a1a" stroke-width="1.20" >ICAM1</text>
<text transform="matrix(0.1,0.0001,0,0.1,209.00,227.79)" font-size="40.30" text-anchor="start" fill="#1a1a1a" font-weight="normal" stroke="#1a1a1a" stroke-width="1.20" >PTGS2</text>
<text transform="matrix(0.1,0.0001,0,0.1,209.00,232.34)" font-size="40.30" text-anchor="start" fill="#1a1a1a" font-weight="normal" stroke="#1a1a1a" stroke-width="1.20" >PELI1</text>
<text transform="matrix(0.1,0.0001,0,0.1,209.00,236.88)" font-size="40.30" text-anchor="start" fill="#1a1a1a" font-weight="normal" stroke="#1a1a1a" stroke-width="1.20" >ERN1</text>
<text transform="matrix(0.1,0.0001,0,0.1,209.00,241.43)" font-size="40.30" text-anchor="start" fill="#1a1a1a" font-weight="normal" stroke="#1a1a1a" stroke-width="1.20" >CHMP4B</text>
<text transform="matrix(0.1,0.0001,0,0.1,209.00,245.97)" font-size="40.30" text-anchor="start" fill="#1a1a1a" font-weight="normal" stroke="#1a1a1a" stroke-width="1.20" >CXCR1</text>
<text transform="matrix(0.1,0.0001,0,0.1,209.00,250.52)" font-size="40.30" text-anchor="start" fill="#1a1a1a" font-weight="normal" stroke="#1a1a1a" stroke-width="1.20" >ISG20</text>
<text transform="matrix(0.1,0.0001,0,0.1,209.00,255.07)" font-size="40.30" text-anchor="start" fill="#1a1a1a" font-weight="normal" stroke="#1a1a1a" stroke-width="1.20" >IL1RAP</text>
<text transform="matrix(0.1,0.0001,0,0.1,209.00,259.61)" font-size="40.30" text-anchor="start" fill="#1a1a1a" font-weight="normal" stroke="#1a1a1a" stroke-width="1.20" >LPCAT1</text>
<text transform="matrix(0.1,0.0001,0,0.1,209.00,264.16)" font-size="40.30" text-anchor="start" fill="#1a1a1a" font-weight="normal" stroke="#1a1a1a" stroke-width="1.20" >CD69</text>
<text transform="matrix(0.1,0.0001,0,0.1,209.00,268.70)" font-size="40.30" text-anchor="start" fill="#1a1a1a" font-weight="normal" stroke="#1a1a1a" stroke-width="1.20" >INPP5D</text>
<text transform="matrix(0.1,0.0001,0,0.1,209.00,273.25)" font-size="40.30" text-anchor="start" fill="#1a1a1a" font-weight="normal" stroke="#1a1a1a" stroke-width="1.20" >STAT5B</text>
<text transform="matrix(0.1,0.0001,0,0.1,209.00,277.80)" font-size="40.30" text-anchor="start" fill="#1a1a1a" font-weight="normal" stroke="#1a1a1a" stroke-width="1.20" >PREX1</text>
<text transform="matrix(0.1,0.0001,0,0.1,209.00,282.34)" font-size="40.30" text-anchor="start" fill="#1a1a1a" font-weight="normal" stroke="#1a1a1a" stroke-width="1.20" >FPR1</text>
<defs><linearGradient id="hmcb" x1="0" x2="1" y1="0" y2="0"><stop offset="0" stop-color="#2a6cb3"/><stop offset="0.5" stop-color="#f7f7f7"/><stop offset="1" stop-color="#f0a42c"/></linearGradient><linearGradient id="cgrad" x1="0" x2="0" y1="0" y2="1"><stop offset="0" stop-color="#40289a"/><stop offset="0.35" stop-color="#861a98"/><stop offset="0.6" stop-color="#d01082"/><stop offset="0.8" stop-color="#f40a4a"/><stop offset="1" stop-color="#e8102a"/></linearGradient><linearGradient id="dgrad" x1="0" x2="0" y1="0" y2="1"><stop offset="0" stop-color="#ee1030"/><stop offset="0.45" stop-color="#cc1088"/><stop offset="1" stop-color="#33288e"/></linearGradient></defs>
<rect x="37.9" y="285.6" width="167.6" height="1.5" fill="url(#hmcb)"/>
<text transform="matrix(0.1,0.0001,0,0.1,31.30,288.00)" font-size="48.00" text-anchor="middle" fill="#2a2a2a" font-weight="normal" stroke="#2a2a2a" stroke-width="0.80" >−5</text>
<text transform="matrix(0.1,0.0001,0,0.1,212.00,288.00)" font-size="48.00" text-anchor="middle" fill="#2a2a2a" font-weight="normal" stroke="#2a2a2a" stroke-width="0.80" >5</text>
<text x="6.8" y="337.2" font-size="11.5" font-weight="bold" fill="#111">B</text>
<circle cx="58.3" cy="350.75" r="1.9" fill="none" stroke="#777" stroke-width="0.7"/>
<text transform="matrix(0.1,0.0001,0,0.1,63.60,352.95)" font-size="62.00" text-anchor="start" fill="#333" font-weight="normal" >NS</text>
<path d="M80.6 348.85 L84.4 352.65 M84.4 348.85 L80.6 352.65" stroke="#5ea86a" stroke-width="0.7"/>
<text transform="matrix(0.1,0.0001,0,0.1,87.40,352.85)" font-size="61.00" text-anchor="start" fill="#333" font-weight="normal" >Log<tspan font-size="40" dy="13">2</tspan><tspan dy="-13"> FC</tspan></text>
<path d="M122.5 348.55 L124.7 350.75 L122.5 352.95 L120.3 350.75 Z" fill="none" stroke="#6b6fc4" stroke-width="0.7"/>
<text transform="matrix(0.1,0.0001,0,0.1,128.60,352.85)" font-size="61.00" text-anchor="start" fill="#333" font-weight="normal" ><tspan font-style="italic">P</tspan>-value</text>
<path d="M158.9 348.95 L163.6 348.95 L161.25 352.95 Z" fill="none" stroke="#d03a3a" stroke-width="0.7"/>
<text transform="matrix(0.1,0.0001,0,0.1,167.40,352.85)" font-size="61.00" text-anchor="start" fill="#333" font-weight="normal" ><tspan font-style="italic">P</tspan>-value and log<tspan font-size="40" dy="13">2</tspan><tspan dy="-13"> FC</tspan></text>
<line x1="69.35" y1="360.30" x2="69.35" y2="477.80" stroke="#f5f5f5" stroke-width="0.5"/>
<line x1="108.25" y1="360.30" x2="108.25" y2="477.80" stroke="#f5f5f5" stroke-width="0.5"/>
<line x1="147.15" y1="360.30" x2="147.15" y2="477.80" stroke="#f5f5f5" stroke-width="0.5"/>
<line x1="186.05" y1="360.30" x2="186.05" y2="477.80" stroke="#f5f5f5" stroke-width="0.5"/>
<line x1="224.95" y1="360.30" x2="224.95" y2="477.80" stroke="#f5f5f5" stroke-width="0.5"/>
<line x1="46.80" y1="459.23" x2="239.00" y2="459.23" stroke="#f5f5f5" stroke-width="0.5"/>
<line x1="46.80" y1="431.48" x2="239.00" y2="431.48" stroke="#f5f5f5" stroke-width="0.5"/>
<line x1="46.80" y1="403.73" x2="239.00" y2="403.73" stroke="#f5f5f5" stroke-width="0.5"/>
<line x1="46.80" y1="375.98" x2="239.00" y2="375.98" stroke="#f5f5f5" stroke-width="0.5"/>
<line x1="49.90" y1="360.30" x2="49.90" y2="477.80" stroke="#ebebeb" stroke-width="0.7"/>
<line x1="88.80" y1="360.30" x2="88.80" y2="477.80" stroke="#ebebeb" stroke-width="0.7"/>
<line x1="127.70" y1="360.30" x2="127.70" y2="477.80" stroke="#ebebeb" stroke-width="0.7"/>
<line x1="166.60" y1="360.30" x2="166.60" y2="477.80" stroke="#ebebeb" stroke-width="0.7"/>
<line x1="205.50" y1="360.30" x2="205.50" y2="477.80" stroke="#ebebeb" stroke-width="0.7"/>
<line x1="46.80" y1="473.10" x2="239.00" y2="473.10" stroke="#ebebeb" stroke-width="0.7"/>
<line x1="46.80" y1="445.35" x2="239.00" y2="445.35" stroke="#ebebeb" stroke-width="0.7"/>
<line x1="46.80" y1="417.60" x2="239.00" y2="417.60" stroke="#ebebeb" stroke-width="0.7"/>
<line x1="46.80" y1="389.85" x2="239.00" y2="389.85" stroke="#ebebeb" stroke-width="0.7"/>
<line x1="46.80" y1="362.10" x2="239.00" y2="362.10" stroke="#ebebeb" stroke-width="0.7"/>
<circle cx="163.37" cy="471.29" r="1.2" fill="#404040" fill-opacity="0.12"/>
<circle cx="155.26" cy="465.80" r="1.2" fill="#404040" fill-opacity="0.12"/>
<circle cx="185.20" cy="463.42" r="1.2" fill="#404040" fill-opacity="0.12"/>
<circle cx="169.58" cy="471.25" r="1.2" fill="#404040" fill-opacity="0.12"/>
<circle cx="176.03" cy="466.91" r="1.2" fill="#404040" fill-opacity="0.12"/>
<circle cx="164.86" cy="471.82" r="1.2" fill="#404040" fill-opacity="0.12"/>
<circle cx="157.26" cy="466.86" r="1.2" fill="#404040" fill-opacity="0.12"/>
<circle cx="166.05" cy="472.81" r="1.2" fill="#404040" fill-opacity="0.12"/>
<circle cx="166.79" cy="472.98" r="1.2" fill="#404040" fill-opacity="0.12"/>
<circle cx="180.15" cy="463.85" r="1.2" fill="#404040" fill-opacity="0.12"/>
<circle cx="185.54" cy="460.07" r="1.2" fill="#404040" fill-opacity="0.12"/>
<circle cx="155.94" cy="465.19" r="1.2" fill="#404040" fill-opacity="0.12"/>
<circle cx="165.63" cy="472.52" r="1.2" fill="#404040" fill-opacity="0.12"/>
<circle cx="170.00" cy="470.70" r="1.2" fill="#404040" fill-opacity="0.12"/>
<circle cx="183.73" cy="462.67" r="1.2" fill="#404040" fill-opacity="0.12"/>
<circle cx="172.45" cy="469.48" r="1.2" fill="#404040" fill-opacity="0.12"/>
<circle cx="159.93" cy="468.09" r="1.2" fill="#404040" fill-opacity="0.12"/>
<circle cx="153.24" cy="463.30" r="1.2" fill="#404040" fill-opacity="0.12"/>
<circle cx="161.66" cy="469.73" r="1.2" fill="#404040" fill-opacity="0.12"/>
<circle cx="169.19" cy="471.73" r="1.2" fill="#404040" fill-opacity="0.12"/>
<circle cx="167.11" cy="472.86" r="1.2" fill="#404040" fill-opacity="0.12"/>
<circle cx="182.27" cy="461.38" r="1.2" fill="#404040" fill-opacity="0.12"/>
<circle cx="166.71" cy="473.02" r="1.2" fill="#404040" fill-opacity="0.12"/>
<circle cx="147.95" cy="461.10" r="1.2" fill="#404040" fill-opacity="0.12"/>
<circle cx="181.25" cy="463.07" r="1.2" fill="#404040" fill-opacity="0.12"/>
<circle cx="171.36" cy="470.21" r="1.2" fill="#404040" fill-opacity="0.12"/>
<circle cx="187.72" cy="464.01" r="1.2" fill="#404040" fill-opacity="0.12"/>
<circle cx="165.49" cy="472.25" r="1.2" fill="#404040" fill-opacity="0.12"/>
<circle cx="186.95" cy="459.96" r="1.2" fill="#404040" fill-opacity="0.12"/>
<circle cx="164.77" cy="471.68" r="1.2" fill="#404040" fill-opacity="0.12"/>
<circle cx="171.53" cy="469.31" r="1.2" fill="#404040" fill-opacity="0.12"/>
<circle cx="184.86" cy="462.83" r="1.2" fill="#404040" fill-opacity="0.12"/>
<circle cx="184.13" cy="461.57" r="1.2" fill="#404040" fill-opacity="0.12"/>
<circle cx="155.47" cy="465.87" r="1.2" fill="#404040" fill-opacity="0.12"/>
<circle cx="186.08" cy="461.76" r="1.2" fill="#404040" fill-opacity="0.12"/>
<circle cx="152.21" cy="462.14" r="1.2" fill="#404040" fill-opacity="0.12"/>
<circle cx="173.53" cy="468.85" r="1.2" fill="#404040" fill-opacity="0.12"/>
<circle cx="156.64" cy="466.04" r="1.2" fill="#404040" fill-opacity="0.12"/>
<circle cx="187.40" cy="464.05" r="1.2" fill="#404040" fill-opacity="0.12"/>
<circle cx="154.96" cy="467.87" r="1.2" fill="#404040" fill-opacity="0.12"/>
<circle cx="177.88" cy="466.85" r="1.2" fill="#404040" fill-opacity="0.12"/>
<circle cx="185.43" cy="460.08" r="1.2" fill="#404040" fill-opacity="0.12"/>
<circle cx="166.47" cy="473.00" r="1.2" fill="#404040" fill-opacity="0.12"/>
<circle cx="166.72" cy="473.04" r="1.2" fill="#404040" fill-opacity="0.12"/>
<circle cx="173.94" cy="469.50" r="1.2" fill="#404040" fill-opacity="0.12"/>
<circle cx="168.77" cy="471.52" r="1.2" fill="#404040" fill-opacity="0.12"/>
<circle cx="170.11" cy="471.47" r="1.2" fill="#404040" fill-opacity="0.12"/>
<circle cx="149.66" cy="463.97" r="1.2" fill="#404040" fill-opacity="0.12"/>
<circle cx="169.38" cy="471.67" r="1.2" fill="#404040" fill-opacity="0.12"/>
<circle cx="168.81" cy="471.64" r="1.2" fill="#404040" fill-opacity="0.12"/>
<circle cx="167.51" cy="472.40" r="1.2" fill="#404040" fill-opacity="0.12"/>
<circle cx="153.42" cy="465.40" r="1.2" fill="#404040" fill-opacity="0.12"/>
<circle cx="148.45" cy="464.81" r="1.2" fill="#404040" fill-opacity="0.12"/>
<circle cx="151.62" cy="461.96" r="1.2" fill="#404040" fill-opacity="0.12"/>
<circle cx="158.95" cy="467.68" r="1.2" fill="#404040" fill-opacity="0.12"/>
<circle cx="166.37" cy="472.97" r="1.2" fill="#404040" fill-opacity="0.12"/>
<circle cx="149.00" cy="460.15" r="1.2" fill="#404040" fill-opacity="0.12"/>
<circle cx="161.38" cy="469.36" r="1.2" fill="#404040" fill-opacity="0.12"/>
<circle cx="161.27" cy="470.02" r="1.2" fill="#404040" fill-opacity="0.12"/>
<circle cx="175.32" cy="467.92" r="1.2" fill="#404040" fill-opacity="0.12"/>
<circle cx="178.04" cy="466.49" r="1.2" fill="#404040" fill-opacity="0.12"/>
<circle cx="172.94" cy="470.03" r="1.2" fill="#404040" fill-opacity="0.12"/>
<circle cx="166.62" cy="473.09" r="1.2" fill="#404040" fill-opacity="0.12"/>
<circle cx="144.62" cy="463.44" r="1.2" fill="#404040" fill-opacity="0.12"/>
<circle cx="173.95" cy="468.53" r="1.2" fill="#404040" fill-opacity="0.12"/>
<circle cx="147.46" cy="459.05" r="1.2" fill="#404040" fill-opacity="0.12"/>
<circle cx="166.26" cy="472.84" r="1.2" fill="#404040" fill-opacity="0.12"/>
<circle cx="147.17" cy="464.69" r="1.2" fill="#404040" fill-opacity="0.12"/>
<circle cx="151.53" cy="463.95" r="1.2" fill="#404040" fill-opacity="0.12"/>
<circle cx="163.35" cy="471.10" r="1.2" fill="#404040" fill-opacity="0.12"/>
<circle cx="159.79" cy="469.36" r="1.2" fill="#404040" fill-opacity="0.12"/>
<circle cx="169.90" cy="470.73" r="1.2" fill="#404040" fill-opacity="0.12"/>
<circle cx="166.08" cy="472.84" r="1.2" fill="#404040" fill-opacity="0.12"/>
<circle cx="156.98" cy="468.39" r="1.2" fill="#404040" fill-opacity="0.12"/>
<circle cx="150.25" cy="461.30" r="1.2" fill="#404040" fill-opacity="0.12"/>
<circle cx="166.63" cy="473.09" r="1.2" fill="#404040" fill-opacity="0.12"/>
<circle cx="170.24" cy="470.74" r="1.2" fill="#404040" fill-opacity="0.12"/>
<circle cx="157.34" cy="467.57" r="1.2" fill="#404040" fill-opacity="0.12"/>
<circle cx="150.68" cy="461.42" r="1.2" fill="#404040" fill-opacity="0.12"/>
<circle cx="150.71" cy="465.59" r="1.2" fill="#404040" fill-opacity="0.12"/>
<circle cx="166.00" cy="472.66" r="1.2" fill="#404040" fill-opacity="0.12"/>
<circle cx="167.37" cy="472.68" r="1.2" fill="#404040" fill-opacity="0.12"/>
<circle cx="171.04" cy="470.59" r="1.2" fill="#404040" fill-opacity="0.12"/>
<circle cx="172.53" cy="469.80" r="1.2" fill="#404040" fill-opacity="0.12"/>
<circle cx="168.87" cy="471.78" r="1.2" fill="#404040" fill-opacity="0.12"/>
<circle cx="165.21" cy="472.15" r="1.2" fill="#404040" fill-opacity="0.12"/>
<circle cx="160.53" cy="469.27" r="1.2" fill="#404040" fill-opacity="0.12"/>
<circle cx="166.90" cy="472.91" r="1.2" fill="#404040" fill-opacity="0.12"/>
<circle cx="181.80" cy="463.14" r="1.2" fill="#404040" fill-opacity="0.12"/>
<circle cx="166.91" cy="472.96" r="1.2" fill="#404040" fill-opacity="0.12"/>
<circle cx="177.88" cy="466.58" r="1.2" fill="#404040" fill-opacity="0.12"/>
<circle cx="179.53" cy="467.48" r="1.2" fill="#404040" fill-opacity="0.12"/>
<circle cx="169.32" cy="471.26" r="1.2" fill="#404040" fill-opacity="0.12"/>
<circle cx="167.20" cy="472.79" r="1.2" fill="#404040" fill-opacity="0.12"/>
<circle cx="165.17" cy="472.01" r="1.2" fill="#404040" fill-opacity="0.12"/>
<circle cx="172.21" cy="470.45" r="1.2" fill="#404040" fill-opacity="0.12"/>
<circle cx="179.44" cy="464.55" r="1.2" fill="#404040" fill-opacity="0.12"/>
<circle cx="151.85" cy="462.52" r="1.2" fill="#404040" fill-opacity="0.12"/>
<circle cx="180.09" cy="466.63" r="1.2" fill="#404040" fill-opacity="0.12"/>
<circle cx="150.74" cy="463.33" r="1.2" fill="#404040" fill-opacity="0.12"/>
<circle cx="176.37" cy="468.29" r="1.2" fill="#404040" fill-opacity="0.12"/>
<circle cx="166.46" cy="473.04" r="1.2" fill="#404040" fill-opacity="0.12"/>
<circle cx="167.74" cy="472.27" r="1.2" fill="#404040" fill-opacity="0.12"/>
<circle cx="186.41" cy="458.97" r="1.2" fill="#404040" fill-opacity="0.12"/>
<circle cx="166.35" cy="472.98" r="1.2" fill="#404040" fill-opacity="0.12"/>
<circle cx="151.43" cy="463.63" r="1.2" fill="#404040" fill-opacity="0.12"/>
<circle cx="148.05" cy="459.68" r="1.2" fill="#404040" fill-opacity="0.12"/>
<circle cx="163.30" cy="470.93" r="1.2" fill="#404040" fill-opacity="0.12"/>
<circle cx="173.89" cy="469.32" r="1.2" fill="#404040" fill-opacity="0.12"/>
<circle cx="177.21" cy="466.46" r="1.2" fill="#404040" fill-opacity="0.12"/>
<circle cx="186.80" cy="460.85" r="1.2" fill="#404040" fill-opacity="0.12"/>
<circle cx="187.00" cy="458.23" r="1.2" fill="#404040" fill-opacity="0.12"/>
<circle cx="186.83" cy="459.46" r="1.2" fill="#404040" fill-opacity="0.12"/>
<circle cx="181.11" cy="466.08" r="1.2" fill="#404040" fill-opacity="0.12"/>
<circle cx="160.07" cy="469.93" r="1.2" fill="#404040" fill-opacity="0.12"/>
<circle cx="174.86" cy="466.87" r="1.2" fill="#404040" fill-opacity="0.12"/>
<circle cx="175.29" cy="467.56" r="1.2" fill="#404040" fill-opacity="0.12"/>
<circle cx="148.38" cy="463.56" r="1.2" fill="#404040" fill-opacity="0.12"/>
<circle cx="169.00" cy="471.28" r="1.2" fill="#404040" fill-opacity="0.12"/>
<circle cx="183.63" cy="461.73" r="1.2" fill="#404040" fill-opacity="0.12"/>
<circle cx="183.74" cy="460.33" r="1.2" fill="#404040" fill-opacity="0.12"/>
<circle cx="170.90" cy="470.52" r="1.2" fill="#404040" fill-opacity="0.12"/>
<circle cx="160.47" cy="469.23" r="1.2" fill="#404040" fill-opacity="0.12"/>
<circle cx="169.66" cy="470.94" r="1.2" fill="#404040" fill-opacity="0.12"/>
<circle cx="168.14" cy="472.05" r="1.2" fill="#404040" fill-opacity="0.12"/>
<circle cx="163.95" cy="471.51" r="1.2" fill="#404040" fill-opacity="0.12"/>
<circle cx="180.20" cy="463.48" r="1.2" fill="#404040" fill-opacity="0.12"/>
<circle cx="147.69" cy="461.85" r="1.2" fill="#404040" fill-opacity="0.12"/>
<circle cx="163.53" cy="471.07" r="1.2" fill="#404040" fill-opacity="0.12"/>
<circle cx="150.65" cy="460.82" r="1.2" fill="#404040" fill-opacity="0.12"/>
<circle cx="148.50" cy="459.60" r="1.2" fill="#404040" fill-opacity="0.12"/>
<circle cx="150.69" cy="465.23" r="1.2" fill="#404040" fill-opacity="0.12"/>
<circle cx="152.63" cy="462.64" r="1.2" fill="#404040" fill-opacity="0.12"/>
<circle cx="163.06" cy="471.19" r="1.2" fill="#404040" fill-opacity="0.12"/>
<circle cx="159.58" cy="469.80" r="1.2" fill="#404040" fill-opacity="0.12"/>
<circle cx="170.11" cy="471.55" r="1.2" fill="#404040" fill-opacity="0.12"/>
<circle cx="173.85" cy="469.98" r="1.2" fill="#404040" fill-opacity="0.12"/>
<circle cx="171.43" cy="470.38" r="1.2" fill="#404040" fill-opacity="0.12"/>
<circle cx="167.28" cy="472.72" r="1.2" fill="#404040" fill-opacity="0.12"/>
<circle cx="156.74" cy="465.77" r="1.2" fill="#404040" fill-opacity="0.12"/>
<circle cx="167.26" cy="472.79" r="1.2" fill="#404040" fill-opacity="0.12"/>
<circle cx="184.60" cy="464.77" r="1.2" fill="#404040" fill-opacity="0.12"/>
<circle cx="186.10" cy="460.03" r="1.2" fill="#404040" fill-opacity="0.12"/>
<circle cx="172.10" cy="470.17" r="1.2" fill="#404040" fill-opacity="0.12"/>
<circle cx="179.07" cy="467.29" r="1.2" fill="#404040" fill-opacity="0.12"/>
<circle cx="186.19" cy="460.01" r="1.2" fill="#404040" fill-opacity="0.12"/>
<circle cx="156.94" cy="466.67" r="1.2" fill="#404040" fill-opacity="0.12"/>
<circle cx="157.60" cy="466.94" r="1.2" fill="#404040" fill-opacity="0.12"/>
<circle cx="153.33" cy="464.36" r="1.2" fill="#404040" fill-opacity="0.12"/>
<circle cx="151.94" cy="465.89" r="1.2" fill="#404040" fill-opacity="0.12"/>
<circle cx="184.68" cy="464.57" r="1.2" fill="#404040" fill-opacity="0.12"/>
<circle cx="178.31" cy="465.77" r="1.2" fill="#404040" fill-opacity="0.12"/>
<circle cx="178.37" cy="466.04" r="1.2" fill="#404040" fill-opacity="0.12"/>
<circle cx="150.52" cy="465.60" r="1.2" fill="#404040" fill-opacity="0.12"/>
<circle cx="168.71" cy="471.93" r="1.2" fill="#404040" fill-opacity="0.12"/>
<circle cx="170.14" cy="471.52" r="1.2" fill="#404040" fill-opacity="0.12"/>
<circle cx="168.04" cy="472.22" r="1.2" fill="#404040" fill-opacity="0.12"/>
<circle cx="169.81" cy="470.73" r="1.2" fill="#404040" fill-opacity="0.12"/>
<circle cx="186.21" cy="460.92" r="1.2" fill="#404040" fill-opacity="0.12"/>
<circle cx="181.51" cy="464.07" r="1.2" fill="#404040" fill-opacity="0.12"/>
<circle cx="144.33" cy="461.42" r="1.2" fill="#404040" fill-opacity="0.12"/>
<circle cx="165.60" cy="472.47" r="1.2" fill="#404040" fill-opacity="0.12"/>
<circle cx="146.87" cy="463.36" r="1.2" fill="#404040" fill-opacity="0.12"/>
<circle cx="168.84" cy="471.61" r="1.2" fill="#404040" fill-opacity="0.12"/>
<circle cx="160.29" cy="469.07" r="1.2" fill="#404040" fill-opacity="0.12"/>
<circle cx="168.18" cy="471.97" r="1.2" fill="#404040" fill-opacity="0.12"/>
<circle cx="156.73" cy="466.88" r="1.2" fill="#404040" fill-opacity="0.12"/>
<circle cx="169.04" cy="471.73" r="1.2" fill="#404040" fill-opacity="0.12"/>
<circle cx="170.64" cy="470.09" r="1.2" fill="#404040" fill-opacity="0.12"/>
<circle cx="186.33" cy="462.43" r="1.2" fill="#404040" fill-opacity="0.12"/>
<circle cx="185.13" cy="460.98" r="1.2" fill="#404040" fill-opacity="0.12"/>
<circle cx="153.61" cy="464.76" r="1.2" fill="#404040" fill-opacity="0.12"/>
<circle cx="152.04" cy="466.31" r="1.2" fill="#404040" fill-opacity="0.12"/>
<circle cx="151.24" cy="463.83" r="1.2" fill="#404040" fill-opacity="0.12"/>
<circle cx="175.44" cy="468.69" r="1.2" fill="#404040" fill-opacity="0.12"/>
<circle cx="150.52" cy="466.00" r="1.2" fill="#404040" fill-opacity="0.12"/>
<circle cx="174.91" cy="469.21" r="1.2" fill="#404040" fill-opacity="0.12"/>
<circle cx="162.52" cy="471.16" r="1.2" fill="#404040" fill-opacity="0.12"/>
<circle cx="150.23" cy="465.95" r="1.2" fill="#404040" fill-opacity="0.12"/>
<circle cx="154.89" cy="466.01" r="1.2" fill="#404040" fill-opacity="0.12"/>
<circle cx="166.70" cy="473.05" r="1.2" fill="#404040" fill-opacity="0.12"/>
<circle cx="148.02" cy="464.61" r="1.2" fill="#404040" fill-opacity="0.12"/>
<circle cx="148.92" cy="461.02" r="1.2" fill="#404040" fill-opacity="0.12"/>
<circle cx="180.69" cy="462.06" r="1.2" fill="#404040" fill-opacity="0.12"/>
<circle cx="163.96" cy="471.16" r="1.2" fill="#404040" fill-opacity="0.12"/>
<circle cx="159.27" cy="468.70" r="1.2" fill="#404040" fill-opacity="0.12"/>
<circle cx="165.47" cy="472.45" r="1.2" fill="#404040" fill-opacity="0.12"/>
<circle cx="148.74" cy="462.96" r="1.2" fill="#404040" fill-opacity="0.12"/>
<circle cx="158.44" cy="468.04" r="1.2" fill="#404040" fill-opacity="0.12"/>
<circle cx="173.21" cy="469.56" r="1.2" fill="#404040" fill-opacity="0.12"/>
<circle cx="174.11" cy="468.71" r="1.2" fill="#404040" fill-opacity="0.12"/>
<circle cx="158.85" cy="467.79" r="1.2" fill="#404040" fill-opacity="0.12"/>
<circle cx="172.07" cy="469.89" r="1.2" fill="#404040" fill-opacity="0.12"/>
<circle cx="171.96" cy="470.38" r="1.2" fill="#404040" fill-opacity="0.12"/>
<circle cx="166.59" cy="473.10" r="1.2" fill="#404040" fill-opacity="0.12"/>
<circle cx="172.12" cy="469.69" r="1.2" fill="#404040" fill-opacity="0.12"/>
<circle cx="164.73" cy="472.18" r="1.2" fill="#404040" fill-opacity="0.12"/>
<circle cx="160.01" cy="468.79" r="1.2" fill="#404040" fill-opacity="0.12"/>
<circle cx="165.03" cy="472.18" r="1.2" fill="#404040" fill-opacity="0.12"/>
<circle cx="164.31" cy="471.79" r="1.2" fill="#404040" fill-opacity="0.12"/>
<circle cx="161.83" cy="469.86" r="1.2" fill="#404040" fill-opacity="0.12"/>
<circle cx="166.98" cy="472.93" r="1.2" fill="#404040" fill-opacity="0.12"/>
<circle cx="157.97" cy="468.66" r="1.2" fill="#404040" fill-opacity="0.12"/>
<circle cx="160.33" cy="470.05" r="1.2" fill="#404040" fill-opacity="0.12"/>
<circle cx="177.76" cy="464.69" r="1.2" fill="#404040" fill-opacity="0.12"/>
<circle cx="177.09" cy="467.58" r="1.2" fill="#404040" fill-opacity="0.12"/>
<circle cx="181.94" cy="462.22" r="1.2" fill="#404040" fill-opacity="0.12"/>
<circle cx="186.67" cy="462.72" r="1.2" fill="#404040" fill-opacity="0.12"/>
<circle cx="170.14" cy="470.79" r="1.2" fill="#404040" fill-opacity="0.12"/>
<circle cx="161.28" cy="470.71" r="1.2" fill="#404040" fill-opacity="0.12"/>
<circle cx="159.31" cy="468.44" r="1.2" fill="#404040" fill-opacity="0.12"/>
<circle cx="166.59" cy="473.09" r="1.2" fill="#404040" fill-opacity="0.12"/>
<circle cx="166.49" cy="473.04" r="1.2" fill="#404040" fill-opacity="0.12"/>
<circle cx="168.83" cy="471.98" r="1.2" fill="#404040" fill-opacity="0.12"/>
<circle cx="187.02" cy="461.88" r="1.2" fill="#404040" fill-opacity="0.12"/>
<circle cx="174.43" cy="467.13" r="1.2" fill="#404040" fill-opacity="0.12"/>
<circle cx="166.82" cy="472.95" r="1.2" fill="#404040" fill-opacity="0.12"/>
<circle cx="177.98" cy="467.87" r="1.2" fill="#404040" fill-opacity="0.12"/>
<circle cx="170.64" cy="471.20" r="1.2" fill="#404040" fill-opacity="0.12"/>
<circle cx="172.53" cy="469.43" r="1.2" fill="#404040" fill-opacity="0.12"/>
<circle cx="181.69" cy="465.70" r="1.2" fill="#404040" fill-opacity="0.12"/>
<circle cx="180.69" cy="462.87" r="1.2" fill="#404040" fill-opacity="0.12"/>
<circle cx="156.52" cy="467.48" r="1.2" fill="#404040" fill-opacity="0.12"/>
<circle cx="159.77" cy="469.09" r="1.2" fill="#404040" fill-opacity="0.12"/>
<circle cx="179.74" cy="466.21" r="1.2" fill="#404040" fill-opacity="0.12"/>
<circle cx="168.53" cy="471.62" r="1.2" fill="#404040" fill-opacity="0.12"/>
<circle cx="166.28" cy="472.88" r="1.2" fill="#404040" fill-opacity="0.12"/>
<circle cx="166.73" cy="473.04" r="1.2" fill="#404040" fill-opacity="0.12"/>
<circle cx="152.97" cy="465.71" r="1.2" fill="#404040" fill-opacity="0.12"/>
<circle cx="155.34" cy="464.75" r="1.2" fill="#404040" fill-opacity="0.12"/>
<circle cx="184.20" cy="462.64" r="1.2" fill="#404040" fill-opacity="0.12"/>
<circle cx="184.10" cy="459.39" r="1.2" fill="#404040" fill-opacity="0.12"/>
<circle cx="166.60" cy="473.10" r="1.2" fill="#404040" fill-opacity="0.12"/>
<circle cx="145.52" cy="461.53" r="1.2" fill="#404040" fill-opacity="0.12"/>
<circle cx="170.98" cy="471.10" r="1.2" fill="#404040" fill-opacity="0.12"/>
<circle cx="154.10" cy="464.68" r="1.2" fill="#404040" fill-opacity="0.12"/>
<circle cx="144.87" cy="459.26" r="1.2" fill="#404040" fill-opacity="0.12"/>
<circle cx="166.55" cy="473.07" r="1.2" fill="#404040" fill-opacity="0.12"/>
<circle cx="169.15" cy="471.55" r="1.2" fill="#404040" fill-opacity="0.12"/>
<circle cx="185.15" cy="459.94" r="1.2" fill="#404040" fill-opacity="0.12"/>
<circle cx="156.96" cy="467.37" r="1.2" fill="#404040" fill-opacity="0.12"/>
<circle cx="154.79" cy="464.57" r="1.2" fill="#404040" fill-opacity="0.12"/>
<circle cx="165.43" cy="472.24" r="1.2" fill="#404040" fill-opacity="0.12"/>
<circle cx="167.56" cy="472.66" r="1.2" fill="#404040" fill-opacity="0.12"/>
<circle cx="158.63" cy="467.34" r="1.2" fill="#404040" fill-opacity="0.12"/>
<circle cx="153.27" cy="464.34" r="1.2" fill="#404040" fill-opacity="0.12"/>
<circle cx="181.25" cy="464.73" r="1.2" fill="#404040" fill-opacity="0.12"/>
<circle cx="153.79" cy="466.28" r="1.2" fill="#404040" fill-opacity="0.12"/>
<circle cx="186.21" cy="459.01" r="1.2" fill="#404040" fill-opacity="0.12"/>
<circle cx="163.95" cy="471.52" r="1.2" fill="#404040" fill-opacity="0.12"/>
<circle cx="152.00" cy="465.07" r="1.2" fill="#404040" fill-opacity="0.12"/>
<circle cx="164.19" cy="471.27" r="1.2" fill="#404040" fill-opacity="0.12"/>
<circle cx="179.33" cy="465.73" r="1.2" fill="#404040" fill-opacity="0.12"/>
<circle cx="154.12" cy="466.64" r="1.2" fill="#404040" fill-opacity="0.12"/>
<circle cx="148.95" cy="463.44" r="1.2" fill="#404040" fill-opacity="0.12"/>
<circle cx="159.41" cy="469.38" r="1.2" fill="#404040" fill-opacity="0.12"/>
<circle cx="161.72" cy="469.75" r="1.2" fill="#404040" fill-opacity="0.12"/>
<circle cx="184.26" cy="459.67" r="1.2" fill="#404040" fill-opacity="0.12"/>
<circle cx="175.71" cy="468.00" r="1.2" fill="#404040" fill-opacity="0.12"/>
<circle cx="168.87" cy="471.74" r="1.2" fill="#404040" fill-opacity="0.12"/>
<circle cx="181.56" cy="464.19" r="1.2" fill="#404040" fill-opacity="0.12"/>
<circle cx="155.67" cy="467.28" r="1.2" fill="#404040" fill-opacity="0.12"/>
<circle cx="166.42" cy="473.00" r="1.2" fill="#404040" fill-opacity="0.12"/>
<circle cx="175.34" cy="469.23" r="1.2" fill="#404040" fill-opacity="0.12"/>
<circle cx="180.83" cy="464.52" r="1.2" fill="#404040" fill-opacity="0.12"/>
<circle cx="166.85" cy="472.93" r="1.2" fill="#404040" fill-opacity="0.12"/>
<circle cx="180.87" cy="466.27" r="1.2" fill="#404040" fill-opacity="0.12"/>
<circle cx="173.67" cy="468.95" r="1.2" fill="#404040" fill-opacity="0.12"/>
<circle cx="169.10" cy="471.35" r="1.2" fill="#404040" fill-opacity="0.12"/>
<circle cx="179.69" cy="462.93" r="1.2" fill="#404040" fill-opacity="0.12"/>
<circle cx="184.30" cy="459.57" r="1.2" fill="#404040" fill-opacity="0.12"/>
<circle cx="173.40" cy="469.04" r="1.2" fill="#404040" fill-opacity="0.12"/>
<circle cx="144.24" cy="460.66" r="1.2" fill="#404040" fill-opacity="0.12"/>
<circle cx="183.67" cy="465.62" r="1.2" fill="#404040" fill-opacity="0.12"/>
<circle cx="172.20" cy="469.09" r="1.2" fill="#404040" fill-opacity="0.12"/>
<circle cx="162.24" cy="469.79" r="1.2" fill="#404040" fill-opacity="0.12"/>
<circle cx="157.34" cy="468.70" r="1.2" fill="#404040" fill-opacity="0.12"/>
<circle cx="157.07" cy="468.46" r="1.2" fill="#404040" fill-opacity="0.12"/>
<circle cx="166.20" cy="472.79" r="1.2" fill="#404040" fill-opacity="0.12"/>
<circle cx="182.08" cy="461.07" r="1.2" fill="#404040" fill-opacity="0.12"/>
<circle cx="150.42" cy="463.35" r="1.2" fill="#404040" fill-opacity="0.12"/>
<circle cx="169.66" cy="471.32" r="1.2" fill="#404040" fill-opacity="0.12"/>
<circle cx="161.41" cy="469.76" r="1.2" fill="#404040" fill-opacity="0.12"/>
<circle cx="182.55" cy="464.50" r="1.2" fill="#404040" fill-opacity="0.12"/>
<circle cx="169.81" cy="471.25" r="1.2" fill="#404040" fill-opacity="0.12"/>
<circle cx="162.96" cy="471.50" r="1.2" fill="#404040" fill-opacity="0.12"/>
<circle cx="166.34" cy="472.90" r="1.2" fill="#404040" fill-opacity="0.12"/>
<circle cx="149.78" cy="460.18" r="1.2" fill="#404040" fill-opacity="0.12"/>
<circle cx="180.79" cy="464.45" r="1.2" fill="#404040" fill-opacity="0.12"/>
<circle cx="149.15" cy="463.89" r="1.2" fill="#404040" fill-opacity="0.12"/>
<circle cx="164.57" cy="471.88" r="1.2" fill="#404040" fill-opacity="0.12"/>
<circle cx="167.08" cy="472.82" r="1.2" fill="#404040" fill-opacity="0.12"/>
<circle cx="178.81" cy="466.26" r="1.2" fill="#404040" fill-opacity="0.12"/>
<circle cx="177.99" cy="467.48" r="1.2" fill="#404040" fill-opacity="0.12"/>
<circle cx="153.19" cy="465.41" r="1.2" fill="#404040" fill-opacity="0.12"/>
<circle cx="171.77" cy="470.38" r="1.2" fill="#404040" fill-opacity="0.12"/>
<circle cx="169.96" cy="470.52" r="1.2" fill="#404040" fill-opacity="0.12"/>
<circle cx="168.31" cy="472.28" r="1.2" fill="#404040" fill-opacity="0.12"/>
<circle cx="166.85" cy="472.91" r="1.2" fill="#404040" fill-opacity="0.12"/>
<circle cx="182.99" cy="465.91" r="1.2" fill="#404040" fill-opacity="0.12"/>
<circle cx="156.00" cy="466.72" r="1.2" fill="#404040" fill-opacity="0.12"/>
<circle cx="170.39" cy="471.34" r="1.2" fill="#404040" fill-opacity="0.12"/>
<circle cx="178.89" cy="467.69" r="1.2" fill="#404040" fill-opacity="0.12"/>
<circle cx="174.61" cy="469.11" r="1.2" fill="#404040" fill-opacity="0.12"/>
<circle cx="146.56" cy="459.85" r="1.2" fill="#404040" fill-opacity="0.12"/>
<circle cx="186.11" cy="462.55" r="1.2" fill="#404040" fill-opacity="0.12"/>
<circle cx="162.76" cy="470.16" r="1.2" fill="#404040" fill-opacity="0.12"/>
<circle cx="171.09" cy="470.29" r="1.2" fill="#404040" fill-opacity="0.12"/>
<circle cx="166.83" cy="472.98" r="1.2" fill="#404040" fill-opacity="0.12"/>
<circle cx="144.79" cy="459.91" r="1.2" fill="#404040" fill-opacity="0.12"/>
<circle cx="145.49" cy="458.81" r="1.2" fill="#404040" fill-opacity="0.12"/>
<circle cx="165.39" cy="472.31" r="1.2" fill="#404040" fill-opacity="0.12"/>
<circle cx="149.52" cy="460.05" r="1.2" fill="#404040" fill-opacity="0.12"/>
<circle cx="144.97" cy="460.51" r="1.2" fill="#404040" fill-opacity="0.12"/>
<circle cx="187.31" cy="462.26" r="1.2" fill="#404040" fill-opacity="0.12"/>
<circle cx="156.70" cy="468.24" r="1.2" fill="#404040" fill-opacity="0.12"/>
<circle cx="158.13" cy="469.04" r="1.2" fill="#404040" fill-opacity="0.12"/>
<circle cx="147.00" cy="459.89" r="1.2" fill="#404040" fill-opacity="0.12"/>
<circle cx="174.18" cy="468.11" r="1.2" fill="#404040" fill-opacity="0.12"/>
<circle cx="164.99" cy="472.31" r="1.2" fill="#404040" fill-opacity="0.12"/>
<circle cx="177.86" cy="467.52" r="1.2" fill="#404040" fill-opacity="0.12"/>
<circle cx="149.38" cy="465.43" r="1.2" fill="#404040" fill-opacity="0.12"/>
<circle cx="145.37" cy="461.12" r="1.2" fill="#404040" fill-opacity="0.12"/>
<circle cx="167.64" cy="472.59" r="1.2" fill="#404040" fill-opacity="0.12"/>
<circle cx="166.44" cy="473.02" r="1.2" fill="#404040" fill-opacity="0.12"/>
<circle cx="164.94" cy="472.16" r="1.2" fill="#404040" fill-opacity="0.12"/>
<circle cx="166.63" cy="473.08" r="1.2" fill="#404040" fill-opacity="0.12"/>
<circle cx="144.80" cy="463.27" r="1.2" fill="#404040" fill-opacity="0.12"/>
<circle cx="175.95" cy="468.75" r="1.2" fill="#404040" fill-opacity="0.12"/>
<circle cx="183.51" cy="465.73" r="1.2" fill="#404040" fill-opacity="0.12"/>
<circle cx="171.64" cy="469.92" r="1.2" fill="#404040" fill-opacity="0.12"/>
<circle cx="174.11" cy="468.70" r="1.2" fill="#404040" fill-opacity="0.12"/>
<circle cx="175.68" cy="468.56" r="1.2" fill="#404040" fill-opacity="0.12"/>
<circle cx="155.50" cy="467.16" r="1.2" fill="#404040" fill-opacity="0.12"/>
<circle cx="148.36" cy="463.23" r="1.2" fill="#404040" fill-opacity="0.12"/>
<circle cx="148.89" cy="465.19" r="1.2" fill="#404040" fill-opacity="0.12"/>
<circle cx="187.15" cy="459.80" r="1.2" fill="#404040" fill-opacity="0.12"/>
<circle cx="164.42" cy="472.05" r="1.2" fill="#404040" fill-opacity="0.12"/>
<circle cx="167.84" cy="472.13" r="1.2" fill="#404040" fill-opacity="0.12"/>
<circle cx="179.31" cy="467.24" r="1.2" fill="#404040" fill-opacity="0.12"/>
<circle cx="175.82" cy="468.08" r="1.2" fill="#404040" fill-opacity="0.12"/>
<circle cx="155.60" cy="467.12" r="1.2" fill="#404040" fill-opacity="0.12"/>
<circle cx="175.05" cy="467.57" r="1.2" fill="#404040" fill-opacity="0.12"/>
<circle cx="177.01" cy="465.45" r="1.2" fill="#404040" fill-opacity="0.12"/>
<circle cx="183.20" cy="460.22" r="1.2" fill="#404040" fill-opacity="0.12"/>
<circle cx="162.24" cy="471.04" r="1.2" fill="#404040" fill-opacity="0.12"/>
<circle cx="174.92" cy="467.38" r="1.2" fill="#404040" fill-opacity="0.12"/>
<circle cx="169.83" cy="470.60" r="1.2" fill="#404040" fill-opacity="0.12"/>
<circle cx="173.86" cy="469.12" r="1.2" fill="#404040" fill-opacity="0.12"/>
<circle cx="150.34" cy="460.42" r="1.2" fill="#404040" fill-opacity="0.12"/>
<circle cx="175.55" cy="466.10" r="1.2" fill="#404040" fill-opacity="0.12"/>
<circle cx="166.99" cy="472.88" r="1.2" fill="#404040" fill-opacity="0.12"/>
<circle cx="183.52" cy="465.50" r="1.2" fill="#404040" fill-opacity="0.12"/>
<circle cx="183.71" cy="464.49" r="1.2" fill="#404040" fill-opacity="0.12"/>
<circle cx="165.92" cy="472.80" r="1.2" fill="#404040" fill-opacity="0.12"/>
<circle cx="157.95" cy="468.07" r="1.2" fill="#404040" fill-opacity="0.12"/>
<circle cx="184.07" cy="465.55" r="1.2" fill="#404040" fill-opacity="0.12"/>
<circle cx="172.17" cy="469.92" r="1.2" fill="#404040" fill-opacity="0.12"/>
<circle cx="160.69" cy="469.34" r="1.2" fill="#404040" fill-opacity="0.12"/>
<circle cx="164.93" cy="472.38" r="1.2" fill="#404040" fill-opacity="0.12"/>
<circle cx="166.05" cy="472.84" r="1.2" fill="#404040" fill-opacity="0.12"/>
<circle cx="167.32" cy="472.68" r="1.2" fill="#404040" fill-opacity="0.12"/>
<circle cx="164.10" cy="471.55" r="1.2" fill="#404040" fill-opacity="0.12"/>
<circle cx="185.55" cy="460.01" r="1.2" fill="#404040" fill-opacity="0.12"/>
<circle cx="149.22" cy="462.93" r="1.2" fill="#404040" fill-opacity="0.12"/>
<circle cx="153.22" cy="464.94" r="1.2" fill="#404040" fill-opacity="0.12"/>
<circle cx="146.35" cy="461.00" r="1.2" fill="#404040" fill-opacity="0.12"/>
<circle cx="184.69" cy="461.79" r="1.2" fill="#404040" fill-opacity="0.12"/>
<circle cx="165.36" cy="472.30" r="1.2" fill="#404040" fill-opacity="0.12"/>
<circle cx="165.80" cy="472.53" r="1.2" fill="#404040" fill-opacity="0.12"/>
<circle cx="172.39" cy="468.90" r="1.2" fill="#404040" fill-opacity="0.12"/>
<circle cx="168.75" cy="472.07" r="1.2" fill="#404040" fill-opacity="0.12"/>
<circle cx="169.07" cy="471.53" r="1.2" fill="#404040" fill-opacity="0.12"/>
<circle cx="186.34" cy="461.58" r="1.2" fill="#404040" fill-opacity="0.12"/>
<circle cx="165.64" cy="472.67" r="1.2" fill="#404040" fill-opacity="0.12"/>
<circle cx="184.33" cy="465.09" r="1.2" fill="#404040" fill-opacity="0.12"/>
<circle cx="166.64" cy="473.07" r="1.2" fill="#404040" fill-opacity="0.12"/>
<circle cx="154.56" cy="464.39" r="1.2" fill="#404040" fill-opacity="0.12"/>
<circle cx="171.37" cy="469.56" r="1.2" fill="#404040" fill-opacity="0.12"/>
<circle cx="169.44" cy="471.68" r="1.2" fill="#404040" fill-opacity="0.12"/>
<circle cx="160.27" cy="470.28" r="1.2" fill="#404040" fill-opacity="0.12"/>
<circle cx="157.38" cy="467.27" r="1.2" fill="#404040" fill-opacity="0.12"/>
<circle cx="165.79" cy="472.52" r="1.2" fill="#404040" fill-opacity="0.12"/>
<circle cx="182.90" cy="464.47" r="1.2" fill="#404040" fill-opacity="0.12"/>
<circle cx="144.73" cy="462.16" r="1.2" fill="#404040" fill-opacity="0.12"/>
<circle cx="162.22" cy="470.31" r="1.2" fill="#404040" fill-opacity="0.12"/>
<circle cx="172.02" cy="470.17" r="1.2" fill="#404040" fill-opacity="0.12"/>
<circle cx="148.32" cy="462.36" r="1.2" fill="#404040" fill-opacity="0.12"/>
<circle cx="180.22" cy="464.21" r="1.2" fill="#404040" fill-opacity="0.12"/>
<circle cx="157.96" cy="468.84" r="1.2" fill="#404040" fill-opacity="0.12"/>
<circle cx="167.59" cy="472.63" r="1.2" fill="#404040" fill-opacity="0.12"/>
<circle cx="185.33" cy="459.46" r="1.2" fill="#404040" fill-opacity="0.12"/>
<circle cx="161.88" cy="470.53" r="1.2" fill="#404040" fill-opacity="0.12"/>
<circle cx="163.21" cy="471.36" r="1.2" fill="#404040" fill-opacity="0.12"/>
<circle cx="160.81" cy="470.26" r="1.2" fill="#404040" fill-opacity="0.12"/>
<circle cx="169.87" cy="471.64" r="1.2" fill="#404040" fill-opacity="0.12"/>
<circle cx="145.22" cy="462.37" r="1.2" fill="#404040" fill-opacity="0.12"/>
<circle cx="162.11" cy="470.28" r="1.2" fill="#404040" fill-opacity="0.12"/>
<circle cx="163.24" cy="471.40" r="1.2" fill="#404040" fill-opacity="0.12"/>
<circle cx="153.53" cy="466.69" r="1.2" fill="#404040" fill-opacity="0.12"/>
<circle cx="180.98" cy="463.88" r="1.2" fill="#404040" fill-opacity="0.12"/>
<circle cx="159.55" cy="468.50" r="1.2" fill="#404040" fill-opacity="0.12"/>
<circle cx="159.15" cy="469.70" r="1.2" fill="#404040" fill-opacity="0.12"/>
<circle cx="175.73" cy="467.60" r="1.2" fill="#404040" fill-opacity="0.12"/>
<circle cx="176.72" cy="466.89" r="1.2" fill="#404040" fill-opacity="0.12"/>
<circle cx="173.15" cy="469.78" r="1.2" fill="#404040" fill-opacity="0.12"/>
<circle cx="182.72" cy="464.21" r="1.2" fill="#404040" fill-opacity="0.12"/>
<circle cx="187.63" cy="458.41" r="1.2" fill="#404040" fill-opacity="0.12"/>
<circle cx="167.74" cy="472.47" r="1.2" fill="#404040" fill-opacity="0.12"/>
<circle cx="180.50" cy="466.62" r="1.2" fill="#404040" fill-opacity="0.12"/>
<circle cx="175.54" cy="467.75" r="1.2" fill="#404040" fill-opacity="0.12"/>
<circle cx="175.79" cy="467.94" r="1.2" fill="#404040" fill-opacity="0.12"/>
<circle cx="166.89" cy="472.89" r="1.2" fill="#404040" fill-opacity="0.12"/>
<circle cx="163.99" cy="471.33" r="1.2" fill="#404040" fill-opacity="0.12"/>
<circle cx="187.06" cy="460.08" r="1.2" fill="#404040" fill-opacity="0.12"/>
<circle cx="179.12" cy="465.32" r="1.2" fill="#404040" fill-opacity="0.12"/>
<circle cx="173.22" cy="469.27" r="1.2" fill="#404040" fill-opacity="0.12"/>
<circle cx="160.75" cy="470.07" r="1.2" fill="#404040" fill-opacity="0.12"/>
<circle cx="179.61" cy="464.22" r="1.2" fill="#404040" fill-opacity="0.12"/>
<circle cx="161.71" cy="470.45" r="1.2" fill="#404040" fill-opacity="0.12"/>
<circle cx="152.09" cy="464.09" r="1.2" fill="#404040" fill-opacity="0.12"/>
<circle cx="174.14" cy="468.39" r="1.2" fill="#404040" fill-opacity="0.12"/>
<circle cx="160.84" cy="469.39" r="1.2" fill="#404040" fill-opacity="0.12"/>
<circle cx="152.71" cy="464.65" r="1.2" fill="#404040" fill-opacity="0.12"/>
<circle cx="164.60" cy="471.85" r="1.2" fill="#404040" fill-opacity="0.12"/>
<circle cx="167.77" cy="472.24" r="1.2" fill="#404040" fill-opacity="0.12"/>
<circle cx="175.25" cy="468.55" r="1.2" fill="#404040" fill-opacity="0.12"/>
<circle cx="174.45" cy="469.10" r="1.2" fill="#404040" fill-opacity="0.12"/>
<circle cx="162.95" cy="470.30" r="1.2" fill="#404040" fill-opacity="0.12"/>
<circle cx="174.38" cy="469.36" r="1.2" fill="#404040" fill-opacity="0.12"/>
<circle cx="160.76" cy="470.05" r="1.2" fill="#404040" fill-opacity="0.12"/>
<circle cx="150.57" cy="462.43" r="1.2" fill="#404040" fill-opacity="0.12"/>
<circle cx="169.80" cy="470.83" r="1.2" fill="#404040" fill-opacity="0.12"/>
<circle cx="151.86" cy="466.27" r="1.2" fill="#404040" fill-opacity="0.12"/>
<circle cx="152.66" cy="466.01" r="1.2" fill="#404040" fill-opacity="0.12"/>
<circle cx="158.81" cy="468.86" r="1.2" fill="#404040" fill-opacity="0.12"/>
<circle cx="151.07" cy="466.22" r="1.2" fill="#404040" fill-opacity="0.12"/>
<circle cx="158.03" cy="468.29" r="1.2" fill="#404040" fill-opacity="0.12"/>
<circle cx="184.14" cy="462.44" r="1.2" fill="#404040" fill-opacity="0.12"/>
<circle cx="179.35" cy="463.19" r="1.2" fill="#404040" fill-opacity="0.12"/>
<circle cx="173.37" cy="468.89" r="1.2" fill="#404040" fill-opacity="0.12"/>
<circle cx="176.88" cy="468.14" r="1.2" fill="#404040" fill-opacity="0.12"/>
<circle cx="166.80" cy="472.97" r="1.2" fill="#404040" fill-opacity="0.12"/>
<circle cx="163.85" cy="471.43" r="1.2" fill="#404040" fill-opacity="0.12"/>
<circle cx="186.43" cy="462.79" r="1.2" fill="#404040" fill-opacity="0.12"/>
<circle cx="177.90" cy="467.45" r="1.2" fill="#404040" fill-opacity="0.12"/>
<circle cx="164.74" cy="471.98" r="1.2" fill="#404040" fill-opacity="0.12"/>
<circle cx="151.72" cy="466.11" r="1.2" fill="#404040" fill-opacity="0.12"/>
<circle cx="161.44" cy="470.42" r="1.2" fill="#404040" fill-opacity="0.12"/>
<circle cx="165.77" cy="472.49" r="1.2" fill="#404040" fill-opacity="0.12"/>
<circle cx="165.05" cy="472.05" r="1.2" fill="#404040" fill-opacity="0.12"/>
<circle cx="177.92" cy="465.40" r="1.2" fill="#404040" fill-opacity="0.12"/>
<circle cx="176.11" cy="468.14" r="1.2" fill="#404040" fill-opacity="0.12"/>
<circle cx="152.73" cy="466.82" r="1.2" fill="#404040" fill-opacity="0.12"/>
<circle cx="179.23" cy="466.92" r="1.2" fill="#404040" fill-opacity="0.12"/>
<circle cx="166.81" cy="472.95" r="1.2" fill="#404040" fill-opacity="0.12"/>
<circle cx="160.92" cy="469.04" r="1.2" fill="#404040" fill-opacity="0.12"/>
<circle cx="172.50" cy="468.60" r="1.2" fill="#404040" fill-opacity="0.12"/>
<circle cx="152.18" cy="464.66" r="1.2" fill="#404040" fill-opacity="0.12"/>
<circle cx="163.40" cy="471.34" r="1.2" fill="#404040" fill-opacity="0.12"/>
<circle cx="169.51" cy="471.45" r="1.2" fill="#404040" fill-opacity="0.12"/>
<circle cx="160.20" cy="469.11" r="1.2" fill="#404040" fill-opacity="0.12"/>
<circle cx="177.16" cy="468.22" r="1.2" fill="#404040" fill-opacity="0.12"/>
<circle cx="172.87" cy="469.92" r="1.2" fill="#404040" fill-opacity="0.12"/>
<circle cx="173.89" cy="468.32" r="1.2" fill="#404040" fill-opacity="0.12"/>
<circle cx="187.36" cy="459.31" r="1.2" fill="#404040" fill-opacity="0.12"/>
<circle cx="180.58" cy="463.94" r="1.2" fill="#404040" fill-opacity="0.12"/>
<circle cx="150.02" cy="461.31" r="1.2" fill="#404040" fill-opacity="0.12"/>
<circle cx="157.81" cy="468.45" r="1.2" fill="#404040" fill-opacity="0.12"/>
<circle cx="146.01" cy="461.07" r="1.2" fill="#404040" fill-opacity="0.12"/>
<circle cx="165.23" cy="472.40" r="1.2" fill="#404040" fill-opacity="0.12"/>
<circle cx="175.49" cy="468.91" r="1.2" fill="#404040" fill-opacity="0.12"/>
<circle cx="174.89" cy="467.18" r="1.2" fill="#404040" fill-opacity="0.12"/>
<circle cx="180.70" cy="466.96" r="1.2" fill="#404040" fill-opacity="0.12"/>
<circle cx="166.46" cy="473.04" r="1.2" fill="#404040" fill-opacity="0.12"/>
<circle cx="175.09" cy="466.73" r="1.2" fill="#404040" fill-opacity="0.12"/>
<circle cx="166.95" cy="472.91" r="1.2" fill="#404040" fill-opacity="0.12"/>
<circle cx="174.29" cy="467.67" r="1.2" fill="#404040" fill-opacity="0.12"/>
<circle cx="182.30" cy="462.87" r="1.2" fill="#404040" fill-opacity="0.12"/>
<circle cx="165.75" cy="472.70" r="1.2" fill="#404040" fill-opacity="0.12"/>
<circle cx="153.26" cy="466.99" r="1.2" fill="#404040" fill-opacity="0.12"/>
<circle cx="151.55" cy="463.27" r="1.2" fill="#404040" fill-opacity="0.12"/>
<circle cx="167.33" cy="472.65" r="1.2" fill="#404040" fill-opacity="0.12"/>
<circle cx="145.33" cy="460.23" r="1.2" fill="#404040" fill-opacity="0.12"/>
<circle cx="171.97" cy="469.02" r="1.2" fill="#404040" fill-opacity="0.12"/>
<circle cx="173.20" cy="468.96" r="1.2" fill="#404040" fill-opacity="0.12"/>
<circle cx="172.55" cy="469.82" r="1.2" fill="#404040" fill-opacity="0.12"/>
<circle cx="186.01" cy="462.68" r="1.2" fill="#404040" fill-opacity="0.12"/>
<circle cx="180.64" cy="463.15" r="1.2" fill="#404040" fill-opacity="0.12"/>
<circle cx="151.47" cy="464.69" r="1.2" fill="#404040" fill-opacity="0.12"/>
<circle cx="178.44" cy="463.99" r="1.2" fill="#404040" fill-opacity="0.12"/>
<circle cx="158.36" cy="467.45" r="1.2" fill="#404040" fill-opacity="0.12"/>
<circle cx="155.36" cy="464.29" r="1.2" fill="#404040" fill-opacity="0.12"/>
<circle cx="166.96" cy="472.92" r="1.2" fill="#404040" fill-opacity="0.12"/>
<circle cx="164.36" cy="471.62" r="1.2" fill="#404040" fill-opacity="0.12"/>
<circle cx="185.33" cy="463.38" r="1.2" fill="#404040" fill-opacity="0.12"/>
<circle cx="184.51" cy="463.03" r="1.2" fill="#404040" fill-opacity="0.12"/>
<circle cx="182.76" cy="461.96" r="1.2" fill="#404040" fill-opacity="0.12"/>
<circle cx="180.98" cy="462.31" r="1.2" fill="#404040" fill-opacity="0.12"/>
<circle cx="160.28" cy="470.09" r="1.2" fill="#404040" fill-opacity="0.12"/>
<circle cx="147.77" cy="460.73" r="1.2" fill="#404040" fill-opacity="0.12"/>
<circle cx="152.01" cy="463.71" r="1.2" fill="#404040" fill-opacity="0.12"/>
<circle cx="172.76" cy="469.63" r="1.2" fill="#404040" fill-opacity="0.12"/>
<circle cx="174.97" cy="467.69" r="1.2" fill="#404040" fill-opacity="0.12"/>
<circle cx="158.41" cy="467.71" r="1.2" fill="#404040" fill-opacity="0.12"/>
<circle cx="152.35" cy="466.01" r="1.2" fill="#404040" fill-opacity="0.12"/>
<circle cx="147.43" cy="458.19" r="1.2" fill="#404040" fill-opacity="0.12"/>
<circle cx="165.06" cy="472.37" r="1.2" fill="#404040" fill-opacity="0.12"/>
<circle cx="177.09" cy="466.55" r="1.2" fill="#404040" fill-opacity="0.12"/>
<circle cx="167.93" cy="472.33" r="1.2" fill="#404040" fill-opacity="0.12"/>
<circle cx="164.94" cy="471.98" r="1.2" fill="#404040" fill-opacity="0.12"/>
<circle cx="177.86" cy="467.01" r="1.2" fill="#404040" fill-opacity="0.12"/>
<circle cx="159.14" cy="469.23" r="1.2" fill="#404040" fill-opacity="0.12"/>
<circle cx="166.70" cy="473.05" r="1.2" fill="#404040" fill-opacity="0.12"/>
<circle cx="160.41" cy="469.83" r="1.2" fill="#404040" fill-opacity="0.12"/>
<circle cx="167.37" cy="472.70" r="1.2" fill="#404040" fill-opacity="0.12"/>
<circle cx="169.37" cy="471.69" r="1.2" fill="#404040" fill-opacity="0.12"/>
<circle cx="184.99" cy="461.57" r="1.2" fill="#404040" fill-opacity="0.12"/>
<circle cx="150.75" cy="463.15" r="1.2" fill="#404040" fill-opacity="0.12"/>
<circle cx="172.71" cy="468.71" r="1.2" fill="#404040" fill-opacity="0.12"/>
<circle cx="163.34" cy="470.83" r="1.2" fill="#404040" fill-opacity="0.12"/>
<circle cx="149.47" cy="460.93" r="1.2" fill="#404040" fill-opacity="0.12"/>
<circle cx="171.61" cy="470.68" r="1.2" fill="#404040" fill-opacity="0.12"/>
<circle cx="156.41" cy="467.09" r="1.2" fill="#404040" fill-opacity="0.12"/>
<circle cx="169.88" cy="471.39" r="1.2" fill="#404040" fill-opacity="0.12"/>
<circle cx="162.42" cy="470.64" r="1.2" fill="#404040" fill-opacity="0.12"/>
<circle cx="169.08" cy="471.45" r="1.2" fill="#404040" fill-opacity="0.12"/>
<circle cx="167.63" cy="472.40" r="1.2" fill="#404040" fill-opacity="0.12"/>
<circle cx="150.16" cy="464.59" r="1.2" fill="#404040" fill-opacity="0.12"/>
<circle cx="165.26" cy="472.51" r="1.2" fill="#404040" fill-opacity="0.12"/>
<circle cx="184.17" cy="461.81" r="1.2" fill="#404040" fill-opacity="0.12"/>
<circle cx="163.63" cy="471.71" r="1.2" fill="#404040" fill-opacity="0.12"/>
<circle cx="161.86" cy="470.38" r="1.2" fill="#404040" fill-opacity="0.12"/>
<circle cx="171.42" cy="471.00" r="1.2" fill="#404040" fill-opacity="0.12"/>
<circle cx="173.64" cy="467.58" r="1.2" fill="#404040" fill-opacity="0.12"/>
<circle cx="164.58" cy="472.15" r="1.2" fill="#404040" fill-opacity="0.12"/>
<circle cx="168.54" cy="472.08" r="1.2" fill="#404040" fill-opacity="0.12"/>
<circle cx="148.68" cy="460.02" r="1.2" fill="#404040" fill-opacity="0.12"/>
<circle cx="172.24" cy="469.29" r="1.2" fill="#404040" fill-opacity="0.12"/>
<circle cx="180.48" cy="464.79" r="1.2" fill="#404040" fill-opacity="0.12"/>
<circle cx="174.81" cy="469.56" r="1.2" fill="#404040" fill-opacity="0.12"/>
<circle cx="167.23" cy="472.79" r="1.2" fill="#404040" fill-opacity="0.12"/>
<circle cx="144.75" cy="458.61" r="1.2" fill="#404040" fill-opacity="0.12"/>
<circle cx="168.59" cy="472.03" r="1.2" fill="#404040" fill-opacity="0.12"/>
<circle cx="160.90" cy="468.96" r="1.2" fill="#404040" fill-opacity="0.12"/>
<circle cx="148.74" cy="459.21" r="1.2" fill="#404040" fill-opacity="0.12"/>
<circle cx="167.00" cy="472.90" r="1.2" fill="#404040" fill-opacity="0.12"/>
<circle cx="178.20" cy="466.69" r="1.2" fill="#404040" fill-opacity="0.12"/>
<circle cx="158.17" cy="466.49" r="1.2" fill="#404040" fill-opacity="0.12"/>
<circle cx="153.37" cy="466.92" r="1.2" fill="#404040" fill-opacity="0.12"/>
<circle cx="151.04" cy="465.32" r="1.2" fill="#404040" fill-opacity="0.12"/>
<circle cx="165.54" cy="472.40" r="1.2" fill="#404040" fill-opacity="0.12"/>
<circle cx="166.42" cy="473.02" r="1.2" fill="#404040" fill-opacity="0.12"/>
<circle cx="159.20" cy="468.58" r="1.2" fill="#404040" fill-opacity="0.12"/>
<circle cx="146.06" cy="461.92" r="1.2" fill="#404040" fill-opacity="0.12"/>
<circle cx="173.69" cy="468.12" r="1.2" fill="#404040" fill-opacity="0.12"/>
<circle cx="152.80" cy="462.96" r="1.2" fill="#404040" fill-opacity="0.12"/>
<circle cx="152.70" cy="466.08" r="1.2" fill="#404040" fill-opacity="0.12"/>
<circle cx="155.69" cy="465.70" r="1.2" fill="#404040" fill-opacity="0.12"/>
<circle cx="171.70" cy="469.70" r="1.2" fill="#404040" fill-opacity="0.12"/>
<circle cx="168.04" cy="472.04" r="1.2" fill="#404040" fill-opacity="0.12"/>
<circle cx="162.55" cy="470.27" r="1.2" fill="#404040" fill-opacity="0.12"/>
<circle cx="175.92" cy="467.65" r="1.2" fill="#404040" fill-opacity="0.12"/>
<circle cx="172.53" cy="469.94" r="1.2" fill="#404040" fill-opacity="0.12"/>
<circle cx="161.28" cy="470.26" r="1.2" fill="#404040" fill-opacity="0.12"/>
<circle cx="167.23" cy="472.67" r="1.2" fill="#404040" fill-opacity="0.12"/>
<circle cx="177.08" cy="465.00" r="1.2" fill="#404040" fill-opacity="0.12"/>
<circle cx="157.57" cy="466.26" r="1.2" fill="#404040" fill-opacity="0.12"/>
<circle cx="154.70" cy="465.46" r="1.2" fill="#404040" fill-opacity="0.12"/>
<circle cx="160.86" cy="469.31" r="1.2" fill="#404040" fill-opacity="0.12"/>
<circle cx="173.98" cy="468.32" r="1.2" fill="#404040" fill-opacity="0.12"/>
<circle cx="174.79" cy="467.32" r="1.2" fill="#404040" fill-opacity="0.12"/>
<circle cx="180.75" cy="466.60" r="1.2" fill="#404040" fill-opacity="0.12"/>
<circle cx="179.45" cy="464.01" r="1.2" fill="#404040" fill-opacity="0.12"/>
<circle cx="160.19" cy="469.89" r="1.2" fill="#404040" fill-opacity="0.12"/>
<circle cx="162.92" cy="470.26" r="1.2" fill="#404040" fill-opacity="0.12"/>
<circle cx="185.15" cy="465.16" r="1.2" fill="#404040" fill-opacity="0.12"/>
<circle cx="164.42" cy="471.68" r="1.2" fill="#404040" fill-opacity="0.12"/>
<circle cx="163.38" cy="471.39" r="1.2" fill="#404040" fill-opacity="0.12"/>
<circle cx="153.82" cy="467.62" r="1.2" fill="#404040" fill-opacity="0.12"/>
<circle cx="173.58" cy="468.62" r="1.2" fill="#404040" fill-opacity="0.12"/>
<circle cx="185.30" cy="459.88" r="1.2" fill="#404040" fill-opacity="0.12"/>
<circle cx="168.67" cy="471.78" r="1.2" fill="#404040" fill-opacity="0.12"/>
<circle cx="174.82" cy="468.57" r="1.2" fill="#404040" fill-opacity="0.12"/>
<circle cx="166.05" cy="472.79" r="1.2" fill="#404040" fill-opacity="0.12"/>
<circle cx="175.73" cy="466.51" r="1.2" fill="#404040" fill-opacity="0.12"/>
<circle cx="168.68" cy="472.09" r="1.2" fill="#404040" fill-opacity="0.12"/>
<circle cx="167.47" cy="472.55" r="1.2" fill="#404040" fill-opacity="0.12"/>
<circle cx="163.36" cy="471.70" r="1.2" fill="#404040" fill-opacity="0.12"/>
<circle cx="175.93" cy="468.63" r="1.2" fill="#404040" fill-opacity="0.12"/>
<circle cx="162.47" cy="470.82" r="1.2" fill="#404040" fill-opacity="0.12"/>
<circle cx="181.85" cy="463.42" r="1.2" fill="#404040" fill-opacity="0.12"/>
<circle cx="168.22" cy="472.02" r="1.2" fill="#404040" fill-opacity="0.12"/>
<circle cx="172.85" cy="468.37" r="1.2" fill="#404040" fill-opacity="0.12"/>
<circle cx="148.85" cy="459.33" r="1.2" fill="#404040" fill-opacity="0.12"/>
<circle cx="170.16" cy="471.11" r="1.2" fill="#404040" fill-opacity="0.12"/>
<circle cx="166.57" cy="473.08" r="1.2" fill="#404040" fill-opacity="0.12"/>
<circle cx="166.91" cy="472.88" r="1.2" fill="#404040" fill-opacity="0.12"/>
<circle cx="179.34" cy="467.45" r="1.2" fill="#404040" fill-opacity="0.12"/>
<circle cx="170.13" cy="471.36" r="1.2" fill="#404040" fill-opacity="0.12"/>
<circle cx="185.16" cy="459.33" r="1.2" fill="#404040" fill-opacity="0.12"/>
<circle cx="151.68" cy="463.01" r="1.2" fill="#404040" fill-opacity="0.12"/>
<circle cx="161.03" cy="469.23" r="1.2" fill="#404040" fill-opacity="0.12"/>
<circle cx="182.65" cy="462.26" r="1.2" fill="#404040" fill-opacity="0.12"/>
<circle cx="162.43" cy="470.97" r="1.2" fill="#404040" fill-opacity="0.12"/>
<circle cx="147.66" cy="463.34" r="1.2" fill="#404040" fill-opacity="0.12"/>
<circle cx="168.34" cy="472.23" r="1.2" fill="#404040" fill-opacity="0.12"/>
<circle cx="176.51" cy="465.39" r="1.2" fill="#404040" fill-opacity="0.12"/>
<circle cx="181.19" cy="462.26" r="1.2" fill="#404040" fill-opacity="0.12"/>
<circle cx="168.46" cy="471.75" r="1.2" fill="#404040" fill-opacity="0.12"/>
<circle cx="187.50" cy="463.47" r="1.2" fill="#404040" fill-opacity="0.12"/>
<circle cx="160.58" cy="470.07" r="1.2" fill="#404040" fill-opacity="0.12"/>
<circle cx="181.14" cy="462.59" r="1.2" fill="#404040" fill-opacity="0.12"/>
<circle cx="171.86" cy="469.27" r="1.2" fill="#404040" fill-opacity="0.12"/>
<circle cx="179.65" cy="464.51" r="1.2" fill="#404040" fill-opacity="0.12"/>
<circle cx="150.76" cy="462.69" r="1.2" fill="#404040" fill-opacity="0.12"/>
<circle cx="175.28" cy="466.33" r="1.2" fill="#404040" fill-opacity="0.12"/>
<circle cx="171.19" cy="469.95" r="1.2" fill="#404040" fill-opacity="0.12"/>
<circle cx="168.90" cy="471.58" r="1.2" fill="#404040" fill-opacity="0.12"/>
<circle cx="163.81" cy="471.39" r="1.2" fill="#404040" fill-opacity="0.12"/>
<circle cx="172.20" cy="469.81" r="1.2" fill="#404040" fill-opacity="0.12"/>
<circle cx="154.11" cy="463.37" r="1.2" fill="#404040" fill-opacity="0.12"/>
<circle cx="165.45" cy="472.34" r="1.2" fill="#404040" fill-opacity="0.12"/>
<circle cx="155.87" cy="464.85" r="1.2" fill="#404040" fill-opacity="0.12"/>
<circle cx="183.00" cy="464.26" r="1.2" fill="#404040" fill-opacity="0.12"/>
<circle cx="161.03" cy="470.20" r="1.2" fill="#404040" fill-opacity="0.12"/>
<circle cx="185.83" cy="459.59" r="1.2" fill="#404040" fill-opacity="0.12"/>
<circle cx="178.99" cy="465.48" r="1.2" fill="#404040" fill-opacity="0.12"/>
<circle cx="168.41" cy="472.27" r="1.2" fill="#404040" fill-opacity="0.12"/>
<circle cx="149.48" cy="459.73" r="1.2" fill="#404040" fill-opacity="0.12"/>
<circle cx="153.49" cy="464.88" r="1.2" fill="#404040" fill-opacity="0.12"/>
<circle cx="159.37" cy="468.39" r="1.2" fill="#404040" fill-opacity="0.12"/>
<circle cx="171.04" cy="470.64" r="1.2" fill="#404040" fill-opacity="0.12"/>
<circle cx="184.88" cy="459.70" r="1.2" fill="#404040" fill-opacity="0.12"/>
<circle cx="158.65" cy="469.50" r="1.2" fill="#404040" fill-opacity="0.12"/>
<circle cx="163.09" cy="471.27" r="1.2" fill="#404040" fill-opacity="0.12"/>
<circle cx="166.00" cy="472.72" r="1.2" fill="#404040" fill-opacity="0.12"/>
<circle cx="161.21" cy="469.68" r="1.2" fill="#404040" fill-opacity="0.12"/>
<circle cx="177.87" cy="464.80" r="1.2" fill="#404040" fill-opacity="0.12"/>
<circle cx="166.22" cy="472.80" r="1.2" fill="#404040" fill-opacity="0.12"/>
<circle cx="166.60" cy="473.10" r="1.2" fill="#404040" fill-opacity="0.12"/>
<circle cx="153.96" cy="466.79" r="1.2" fill="#404040" fill-opacity="0.12"/>
<circle cx="164.56" cy="472.10" r="1.2" fill="#404040" fill-opacity="0.12"/>
<circle cx="187.12" cy="464.15" r="1.2" fill="#404040" fill-opacity="0.12"/>
<circle cx="167.60" cy="472.60" r="1.2" fill="#404040" fill-opacity="0.12"/>
<circle cx="181.88" cy="462.31" r="1.2" fill="#404040" fill-opacity="0.12"/>
<circle cx="165.48" cy="472.34" r="1.2" fill="#404040" fill-opacity="0.12"/>
<circle cx="176.30" cy="466.62" r="1.2" fill="#404040" fill-opacity="0.12"/>
<circle cx="148.67" cy="462.58" r="1.2" fill="#404040" fill-opacity="0.12"/>
<circle cx="167.39" cy="472.74" r="1.2" fill="#404040" fill-opacity="0.12"/>
<circle cx="158.14" cy="469.05" r="1.2" fill="#404040" fill-opacity="0.12"/>
<circle cx="169.43" cy="471.61" r="1.2" fill="#404040" fill-opacity="0.12"/>
<circle cx="147.54" cy="458.93" r="1.2" fill="#404040" fill-opacity="0.12"/>
<circle cx="169.52" cy="470.99" r="1.2" fill="#404040" fill-opacity="0.12"/>
<circle cx="161.08" cy="469.48" r="1.2" fill="#404040" fill-opacity="0.12"/>
<circle cx="164.72" cy="471.99" r="1.2" fill="#404040" fill-opacity="0.12"/>
<circle cx="150.86" cy="461.43" r="1.2" fill="#404040" fill-opacity="0.12"/>
<circle cx="148.43" cy="461.73" r="1.2" fill="#404040" fill-opacity="0.12"/>
<circle cx="147.88" cy="461.37" r="1.2" fill="#404040" fill-opacity="0.12"/>
<circle cx="159.53" cy="469.33" r="1.2" fill="#404040" fill-opacity="0.12"/>
<circle cx="173.54" cy="469.54" r="1.2" fill="#404040" fill-opacity="0.12"/>
<circle cx="159.97" cy="469.73" r="1.2" fill="#404040" fill-opacity="0.12"/>
<circle cx="184.58" cy="464.78" r="1.2" fill="#404040" fill-opacity="0.12"/>
<circle cx="174.20" cy="469.77" r="1.2" fill="#404040" fill-opacity="0.12"/>
<circle cx="160.40" cy="469.25" r="1.2" fill="#404040" fill-opacity="0.12"/>
<circle cx="148.13" cy="464.61" r="1.2" fill="#404040" fill-opacity="0.12"/>
<circle cx="146.34" cy="458.56" r="1.2" fill="#404040" fill-opacity="0.12"/>
<circle cx="168.62" cy="471.64" r="1.2" fill="#404040" fill-opacity="0.12"/>
<circle cx="182.74" cy="463.49" r="1.2" fill="#404040" fill-opacity="0.12"/>
<circle cx="179.64" cy="467.16" r="1.2" fill="#404040" fill-opacity="0.12"/>
<circle cx="185.14" cy="461.25" r="1.2" fill="#404040" fill-opacity="0.12"/>
<circle cx="167.09" cy="472.83" r="1.2" fill="#404040" fill-opacity="0.12"/>
<circle cx="167.16" cy="472.83" r="1.2" fill="#404040" fill-opacity="0.12"/>
<circle cx="183.91" cy="461.79" r="1.2" fill="#404040" fill-opacity="0.12"/>
<circle cx="183.70" cy="461.42" r="1.2" fill="#404040" fill-opacity="0.12"/>
<circle cx="172.42" cy="469.90" r="1.2" fill="#404040" fill-opacity="0.12"/>
<circle cx="183.43" cy="464.67" r="1.2" fill="#404040" fill-opacity="0.12"/>
<circle cx="180.69" cy="463.14" r="1.2" fill="#404040" fill-opacity="0.12"/>
<circle cx="170.76" cy="471.09" r="1.2" fill="#404040" fill-opacity="0.12"/>
<circle cx="163.03" cy="470.95" r="1.2" fill="#404040" fill-opacity="0.12"/>
<circle cx="157.59" cy="468.00" r="1.2" fill="#404040" fill-opacity="0.12"/>
<circle cx="186.67" cy="459.62" r="1.2" fill="#404040" fill-opacity="0.12"/>
<circle cx="168.93" cy="471.72" r="1.2" fill="#404040" fill-opacity="0.12"/>
<circle cx="178.68" cy="464.51" r="1.2" fill="#404040" fill-opacity="0.12"/>
<circle cx="149.68" cy="464.93" r="1.2" fill="#404040" fill-opacity="0.12"/>
<circle cx="153.16" cy="466.19" r="1.2" fill="#404040" fill-opacity="0.12"/>
<circle cx="175.04" cy="468.37" r="1.2" fill="#404040" fill-opacity="0.12"/>
<circle cx="179.82" cy="463.94" r="1.2" fill="#404040" fill-opacity="0.12"/>
<circle cx="175.20" cy="466.40" r="1.2" fill="#404040" fill-opacity="0.12"/>
<circle cx="175.66" cy="468.97" r="1.2" fill="#404040" fill-opacity="0.12"/>
<circle cx="182.87" cy="461.03" r="1.2" fill="#404040" fill-opacity="0.12"/>
<circle cx="167.30" cy="472.65" r="1.2" fill="#404040" fill-opacity="0.12"/>
<circle cx="170.03" cy="471.27" r="1.2" fill="#404040" fill-opacity="0.12"/>
<circle cx="179.96" cy="466.61" r="1.2" fill="#404040" fill-opacity="0.12"/>
<circle cx="167.65" cy="472.38" r="1.2" fill="#404040" fill-opacity="0.12"/>
<circle cx="169.20" cy="471.71" r="1.2" fill="#404040" fill-opacity="0.12"/>
<circle cx="180.62" cy="463.70" r="1.2" fill="#404040" fill-opacity="0.12"/>
<circle cx="162.35" cy="470.38" r="1.2" fill="#404040" fill-opacity="0.12"/>
<circle cx="164.26" cy="472.06" r="1.2" fill="#404040" fill-opacity="0.12"/>
<circle cx="172.98" cy="468.98" r="1.2" fill="#404040" fill-opacity="0.12"/>
<circle cx="172.23" cy="469.11" r="1.2" fill="#404040" fill-opacity="0.12"/>
<circle cx="164.81" cy="472.09" r="1.2" fill="#404040" fill-opacity="0.12"/>
<circle cx="184.09" cy="464.96" r="1.2" fill="#404040" fill-opacity="0.12"/>
<circle cx="164.42" cy="471.67" r="1.2" fill="#404040" fill-opacity="0.12"/>
<circle cx="167.71" cy="472.26" r="1.2" fill="#404040" fill-opacity="0.12"/>
<circle cx="185.24" cy="460.96" r="1.2" fill="#404040" fill-opacity="0.12"/>
<circle cx="162.00" cy="470.07" r="1.2" fill="#404040" fill-opacity="0.12"/>
<circle cx="176.91" cy="467.48" r="1.2" fill="#404040" fill-opacity="0.12"/>
<circle cx="166.61" cy="473.09" r="1.2" fill="#404040" fill-opacity="0.12"/>
<circle cx="145.93" cy="463.64" r="1.2" fill="#404040" fill-opacity="0.12"/>
<circle cx="182.73" cy="465.80" r="1.2" fill="#404040" fill-opacity="0.12"/>
<circle cx="154.60" cy="466.35" r="1.2" fill="#404040" fill-opacity="0.12"/>
<circle cx="166.70" cy="473.02" r="1.2" fill="#404040" fill-opacity="0.12"/>
<circle cx="147.23" cy="460.21" r="1.2" fill="#404040" fill-opacity="0.12"/>
<circle cx="169.81" cy="470.86" r="1.2" fill="#404040" fill-opacity="0.12"/>
<circle cx="165.66" cy="472.41" r="1.2" fill="#404040" fill-opacity="0.12"/>
<circle cx="163.20" cy="471.35" r="1.2" fill="#404040" fill-opacity="0.12"/>
<circle cx="171.20" cy="469.83" r="1.2" fill="#404040" fill-opacity="0.12"/>
<circle cx="166.24" cy="472.83" r="1.2" fill="#404040" fill-opacity="0.12"/>
<circle cx="171.54" cy="469.83" r="1.2" fill="#404040" fill-opacity="0.12"/>
<circle cx="179.74" cy="466.66" r="1.2" fill="#404040" fill-opacity="0.12"/>
<circle cx="183.22" cy="464.97" r="1.2" fill="#404040" fill-opacity="0.12"/>
<circle cx="186.32" cy="462.03" r="1.2" fill="#404040" fill-opacity="0.12"/>
<circle cx="161.52" cy="469.29" r="1.2" fill="#404040" fill-opacity="0.12"/>
<circle cx="164.41" cy="471.89" r="1.2" fill="#404040" fill-opacity="0.12"/>
<circle cx="164.44" cy="472.11" r="1.2" fill="#404040" fill-opacity="0.12"/>
<circle cx="186.57" cy="460.60" r="1.2" fill="#404040" fill-opacity="0.12"/>
<circle cx="177.81" cy="466.29" r="1.2" fill="#404040" fill-opacity="0.12"/>
<circle cx="160.15" cy="470.10" r="1.2" fill="#404040" fill-opacity="0.12"/>
<circle cx="165.94" cy="472.76" r="1.2" fill="#404040" fill-opacity="0.12"/>
<circle cx="146.81" cy="463.40" r="1.2" fill="#404040" fill-opacity="0.12"/>
<circle cx="144.93" cy="458.39" r="1.2" fill="#404040" fill-opacity="0.12"/>
<circle cx="148.23" cy="462.99" r="1.2" fill="#404040" fill-opacity="0.12"/>
<circle cx="144.55" cy="463.07" r="1.2" fill="#404040" fill-opacity="0.12"/>
<circle cx="183.64" cy="461.44" r="1.2" fill="#404040" fill-opacity="0.12"/>
<circle cx="169.78" cy="470.68" r="1.2" fill="#404040" fill-opacity="0.12"/>
<circle cx="166.95" cy="472.83" r="1.2" fill="#404040" fill-opacity="0.12"/>
<circle cx="172.14" cy="470.07" r="1.2" fill="#404040" fill-opacity="0.12"/>
<circle cx="155.99" cy="465.31" r="1.2" fill="#404040" fill-opacity="0.12"/>
<circle cx="152.57" cy="463.60" r="1.2" fill="#404040" fill-opacity="0.12"/>
<circle cx="170.04" cy="471.35" r="1.2" fill="#404040" fill-opacity="0.12"/>
<circle cx="159.05" cy="468.00" r="1.2" fill="#404040" fill-opacity="0.12"/>
<circle cx="145.14" cy="460.27" r="1.2" fill="#404040" fill-opacity="0.12"/>
<circle cx="167.77" cy="472.32" r="1.2" fill="#404040" fill-opacity="0.12"/>
<circle cx="161.39" cy="470.78" r="1.2" fill="#404040" fill-opacity="0.12"/>
<circle cx="167.09" cy="472.89" r="1.2" fill="#404040" fill-opacity="0.12"/>
<circle cx="169.60" cy="470.86" r="1.2" fill="#404040" fill-opacity="0.12"/>
<circle cx="168.67" cy="471.71" r="1.2" fill="#404040" fill-opacity="0.12"/>
<circle cx="187.53" cy="460.24" r="1.2" fill="#404040" fill-opacity="0.12"/>
<circle cx="160.85" cy="469.21" r="1.2" fill="#404040" fill-opacity="0.12"/>
<circle cx="184.30" cy="459.85" r="1.2" fill="#404040" fill-opacity="0.12"/>
<circle cx="167.31" cy="472.74" r="1.2" fill="#404040" fill-opacity="0.12"/>
<circle cx="144.82" cy="461.79" r="1.2" fill="#404040" fill-opacity="0.12"/>
<circle cx="175.24" cy="468.05" r="1.2" fill="#404040" fill-opacity="0.12"/>
<circle cx="183.83" cy="464.44" r="1.2" fill="#404040" fill-opacity="0.12"/>
<circle cx="160.11" cy="468.24" r="1.2" fill="#404040" fill-opacity="0.12"/>
<circle cx="167.79" cy="472.55" r="1.2" fill="#404040" fill-opacity="0.12"/>
<circle cx="157.16" cy="466.62" r="1.2" fill="#404040" fill-opacity="0.12"/>
<circle cx="168.39" cy="472.18" r="1.2" fill="#404040" fill-opacity="0.12"/>
<circle cx="171.32" cy="469.90" r="1.2" fill="#404040" fill-opacity="0.12"/>
<circle cx="166.13" cy="472.90" r="1.2" fill="#404040" fill-opacity="0.12"/>
<circle cx="183.09" cy="464.38" r="1.2" fill="#404040" fill-opacity="0.12"/>
<circle cx="161.13" cy="469.32" r="1.2" fill="#404040" fill-opacity="0.12"/>
<circle cx="164.50" cy="471.75" r="1.2" fill="#404040" fill-opacity="0.12"/>
<circle cx="165.92" cy="472.70" r="1.2" fill="#404040" fill-opacity="0.12"/>
<circle cx="186.62" cy="462.82" r="1.2" fill="#404040" fill-opacity="0.12"/>
<circle cx="171.29" cy="470.23" r="1.2" fill="#404040" fill-opacity="0.12"/>
<circle cx="166.44" cy="473.00" r="1.2" fill="#404040" fill-opacity="0.12"/>
<circle cx="182.61" cy="462.82" r="1.2" fill="#404040" fill-opacity="0.12"/>
<circle cx="154.16" cy="464.47" r="1.2" fill="#404040" fill-opacity="0.12"/>
<circle cx="174.86" cy="469.07" r="1.2" fill="#404040" fill-opacity="0.12"/>
<circle cx="161.43" cy="470.24" r="1.2" fill="#404040" fill-opacity="0.12"/>
<circle cx="166.74" cy="473.01" r="1.2" fill="#404040" fill-opacity="0.12"/>
<circle cx="161.93" cy="471.05" r="1.2" fill="#404040" fill-opacity="0.12"/>
<circle cx="156.61" cy="466.11" r="1.2" fill="#404040" fill-opacity="0.12"/>
<circle cx="175.55" cy="467.85" r="1.2" fill="#404040" fill-opacity="0.12"/>
<circle cx="170.65" cy="471.24" r="1.2" fill="#404040" fill-opacity="0.12"/>
<circle cx="162.58" cy="470.87" r="1.2" fill="#404040" fill-opacity="0.12"/>
<circle cx="162.64" cy="470.08" r="1.2" fill="#404040" fill-opacity="0.12"/>
<circle cx="154.02" cy="463.78" r="1.2" fill="#404040" fill-opacity="0.12"/>
<circle cx="174.37" cy="469.60" r="1.2" fill="#404040" fill-opacity="0.12"/>
<circle cx="166.67" cy="473.05" r="1.2" fill="#404040" fill-opacity="0.12"/>
<circle cx="170.43" cy="470.51" r="1.2" fill="#404040" fill-opacity="0.12"/>
<circle cx="172.26" cy="469.76" r="1.2" fill="#404040" fill-opacity="0.12"/>
<circle cx="154.46" cy="464.28" r="1.2" fill="#404040" fill-opacity="0.12"/>
<circle cx="159.56" cy="469.63" r="1.2" fill="#404040" fill-opacity="0.12"/>
<circle cx="169.83" cy="471.31" r="1.2" fill="#404040" fill-opacity="0.12"/>
<circle cx="168.89" cy="471.71" r="1.2" fill="#404040" fill-opacity="0.12"/>
<circle cx="181.35" cy="464.94" r="1.2" fill="#404040" fill-opacity="0.12"/>
<circle cx="161.74" cy="471.01" r="1.2" fill="#404040" fill-opacity="0.12"/>
<circle cx="166.70" cy="473.06" r="1.2" fill="#404040" fill-opacity="0.12"/>
<circle cx="176.99" cy="465.57" r="1.2" fill="#404040" fill-opacity="0.12"/>
<circle cx="159.37" cy="469.67" r="1.2" fill="#404040" fill-opacity="0.12"/>
<circle cx="179.58" cy="463.73" r="1.2" fill="#404040" fill-opacity="0.12"/>
<circle cx="164.46" cy="471.49" r="1.2" fill="#404040" fill-opacity="0.12"/>
<circle cx="150.39" cy="462.95" r="1.2" fill="#404040" fill-opacity="0.12"/>
<circle cx="179.07" cy="466.41" r="1.2" fill="#404040" fill-opacity="0.12"/>
<circle cx="169.14" cy="471.48" r="1.2" fill="#404040" fill-opacity="0.12"/>
<circle cx="171.79" cy="469.61" r="1.2" fill="#404040" fill-opacity="0.12"/>
<circle cx="156.96" cy="467.69" r="1.2" fill="#404040" fill-opacity="0.12"/>
<circle cx="171.98" cy="469.07" r="1.2" fill="#404040" fill-opacity="0.12"/>
<circle cx="177.83" cy="465.36" r="1.2" fill="#404040" fill-opacity="0.12"/>
<circle cx="173.13" cy="469.22" r="1.2" fill="#404040" fill-opacity="0.12"/>
<circle cx="152.85" cy="466.81" r="1.2" fill="#404040" fill-opacity="0.12"/>
<circle cx="166.67" cy="473.06" r="1.2" fill="#404040" fill-opacity="0.12"/>
<circle cx="183.61" cy="463.66" r="1.2" fill="#404040" fill-opacity="0.12"/>
<circle cx="185.64" cy="464.74" r="1.2" fill="#404040" fill-opacity="0.12"/>
<circle cx="163.04" cy="471.51" r="1.2" fill="#404040" fill-opacity="0.12"/>
<circle cx="166.95" cy="472.91" r="1.2" fill="#404040" fill-opacity="0.12"/>
<circle cx="175.58" cy="469.24" r="1.2" fill="#404040" fill-opacity="0.12"/>
<circle cx="149.00" cy="463.62" r="1.2" fill="#404040" fill-opacity="0.12"/>
<circle cx="177.83" cy="464.62" r="1.2" fill="#404040" fill-opacity="0.12"/>
<circle cx="156.28" cy="466.46" r="1.2" fill="#404040" fill-opacity="0.12"/>
<circle cx="171.16" cy="469.89" r="1.2" fill="#404040" fill-opacity="0.12"/>
<circle cx="169.03" cy="471.24" r="1.2" fill="#404040" fill-opacity="0.12"/>
<circle cx="163.39" cy="471.15" r="1.2" fill="#404040" fill-opacity="0.12"/>
<circle cx="150.33" cy="465.38" r="1.2" fill="#404040" fill-opacity="0.12"/>
<circle cx="181.61" cy="462.75" r="1.2" fill="#404040" fill-opacity="0.12"/>
<circle cx="158.82" cy="468.36" r="1.2" fill="#404040" fill-opacity="0.12"/>
<circle cx="158.46" cy="468.39" r="1.2" fill="#404040" fill-opacity="0.12"/>
<circle cx="172.29" cy="470.07" r="1.2" fill="#404040" fill-opacity="0.12"/>
<circle cx="166.26" cy="472.85" r="1.2" fill="#404040" fill-opacity="0.12"/>
<circle cx="165.92" cy="472.63" r="1.2" fill="#404040" fill-opacity="0.12"/>
<circle cx="184.85" cy="464.42" r="1.2" fill="#404040" fill-opacity="0.12"/>
<circle cx="160.40" cy="468.64" r="1.2" fill="#404040" fill-opacity="0.12"/>
<circle cx="179.95" cy="463.03" r="1.2" fill="#404040" fill-opacity="0.12"/>
<circle cx="159.45" cy="468.51" r="1.2" fill="#404040" fill-opacity="0.12"/>
<circle cx="167.82" cy="472.30" r="1.2" fill="#404040" fill-opacity="0.12"/>
<circle cx="161.00" cy="469.35" r="1.2" fill="#404040" fill-opacity="0.12"/>
<circle cx="156.36" cy="466.98" r="1.2" fill="#404040" fill-opacity="0.12"/>
<circle cx="176.13" cy="465.86" r="1.2" fill="#404040" fill-opacity="0.12"/>
<circle cx="154.54" cy="464.44" r="1.2" fill="#404040" fill-opacity="0.12"/>
<circle cx="166.61" cy="473.10" r="1.2" fill="#404040" fill-opacity="0.12"/>
<circle cx="177.91" cy="465.85" r="1.2" fill="#404040" fill-opacity="0.12"/>
<circle cx="168.06" cy="472.33" r="1.2" fill="#404040" fill-opacity="0.12"/>
<circle cx="169.85" cy="471.58" r="1.2" fill="#404040" fill-opacity="0.12"/>
<circle cx="157.56" cy="468.03" r="1.2" fill="#404040" fill-opacity="0.12"/>
<circle cx="177.04" cy="465.65" r="1.2" fill="#404040" fill-opacity="0.12"/>
<circle cx="162.12" cy="470.34" r="1.2" fill="#404040" fill-opacity="0.12"/>
<circle cx="166.46" cy="473.00" r="1.2" fill="#404040" fill-opacity="0.12"/>
<circle cx="175.50" cy="467.57" r="1.2" fill="#404040" fill-opacity="0.12"/>
<circle cx="165.38" cy="472.14" r="1.2" fill="#404040" fill-opacity="0.12"/>
<circle cx="169.10" cy="471.27" r="1.2" fill="#404040" fill-opacity="0.12"/>
<circle cx="178.43" cy="466.50" r="1.2" fill="#404040" fill-opacity="0.12"/>
<circle cx="180.52" cy="466.77" r="1.2" fill="#404040" fill-opacity="0.12"/>
<circle cx="186.48" cy="461.93" r="1.2" fill="#404040" fill-opacity="0.12"/>
<circle cx="181.09" cy="464.44" r="1.2" fill="#404040" fill-opacity="0.12"/>
<circle cx="181.17" cy="463.10" r="1.2" fill="#404040" fill-opacity="0.12"/>
<circle cx="151.34" cy="462.32" r="1.2" fill="#404040" fill-opacity="0.12"/>
<circle cx="161.34" cy="470.46" r="1.2" fill="#404040" fill-opacity="0.12"/>
<circle cx="151.90" cy="465.40" r="1.2" fill="#404040" fill-opacity="0.12"/>
<circle cx="171.19" cy="470.56" r="1.2" fill="#404040" fill-opacity="0.12"/>
<circle cx="183.72" cy="461.72" r="1.2" fill="#404040" fill-opacity="0.12"/>
<circle cx="185.12" cy="458.81" r="1.2" fill="#404040" fill-opacity="0.12"/>
<circle cx="172.24" cy="469.17" r="1.2" fill="#404040" fill-opacity="0.12"/>
<circle cx="175.94" cy="466.78" r="1.2" fill="#404040" fill-opacity="0.12"/>
<circle cx="146.85" cy="464.14" r="1.2" fill="#404040" fill-opacity="0.12"/>
<circle cx="156.72" cy="468.53" r="1.2" fill="#404040" fill-opacity="0.12"/>
<circle cx="187.22" cy="460.67" r="1.2" fill="#404040" fill-opacity="0.12"/>
<circle cx="169.98" cy="470.68" r="1.2" fill="#404040" fill-opacity="0.12"/>
<circle cx="156.26" cy="465.06" r="1.2" fill="#404040" fill-opacity="0.12"/>
<circle cx="182.39" cy="463.28" r="1.2" fill="#404040" fill-opacity="0.12"/>
<circle cx="181.79" cy="462.72" r="1.2" fill="#404040" fill-opacity="0.12"/>
<circle cx="157.99" cy="469.39" r="1.2" fill="#404040" fill-opacity="0.12"/>
<circle cx="168.82" cy="471.86" r="1.2" fill="#404040" fill-opacity="0.12"/>
<circle cx="177.85" cy="465.48" r="1.2" fill="#404040" fill-opacity="0.12"/>
<circle cx="168.26" cy="471.97" r="1.2" fill="#404040" fill-opacity="0.12"/>
<circle cx="146.68" cy="462.70" r="1.2" fill="#404040" fill-opacity="0.12"/>
<circle cx="157.77" cy="466.69" r="1.2" fill="#404040" fill-opacity="0.12"/>
<circle cx="177.39" cy="465.67" r="1.2" fill="#404040" fill-opacity="0.12"/>
<circle cx="171.24" cy="469.77" r="1.2" fill="#404040" fill-opacity="0.12"/>
<circle cx="166.31" cy="472.90" r="1.2" fill="#404040" fill-opacity="0.12"/>
<circle cx="148.21" cy="461.20" r="1.2" fill="#404040" fill-opacity="0.12"/>
<circle cx="148.15" cy="464.71" r="1.2" fill="#404040" fill-opacity="0.12"/>
<circle cx="177.37" cy="467.67" r="1.2" fill="#404040" fill-opacity="0.12"/>
<circle cx="158.51" cy="467.21" r="1.2" fill="#404040" fill-opacity="0.12"/>
<circle cx="166.31" cy="472.92" r="1.2" fill="#404040" fill-opacity="0.12"/>
<circle cx="157.18" cy="465.74" r="1.2" fill="#404040" fill-opacity="0.12"/>
<circle cx="154.29" cy="466.14" r="1.2" fill="#404040" fill-opacity="0.12"/>
<circle cx="166.76" cy="473.02" r="1.2" fill="#404040" fill-opacity="0.12"/>
<circle cx="178.13" cy="465.43" r="1.2" fill="#404040" fill-opacity="0.12"/>
<circle cx="183.29" cy="463.24" r="1.2" fill="#404040" fill-opacity="0.12"/>
<circle cx="180.48" cy="462.24" r="1.2" fill="#404040" fill-opacity="0.12"/>
<circle cx="152.66" cy="465.14" r="1.2" fill="#404040" fill-opacity="0.12"/>
<circle cx="156.11" cy="465.42" r="1.2" fill="#404040" fill-opacity="0.12"/>
<circle cx="160.77" cy="470.56" r="1.2" fill="#404040" fill-opacity="0.12"/>
<circle cx="149.63" cy="464.74" r="1.2" fill="#404040" fill-opacity="0.12"/>
<path d="M147.21 454.96 L148.61 456.36 L147.21 457.76 L145.81 456.36 Z" fill="#e4e9f7" fill-opacity="0.55" stroke="#b0bce2" stroke-width="0.35" stroke-opacity="0.65"/>
<path d="M187.45 454.72 L188.85 456.12 L187.45 457.52 L186.05 456.12 Z" fill="#e4e9f7" fill-opacity="0.55" stroke="#b0bce2" stroke-width="0.35" stroke-opacity="0.65"/>
<path d="M147.59 454.79 L148.99 456.19 L147.59 457.59 L146.19 456.19 Z" fill="#e4e9f7" fill-opacity="0.55" stroke="#b0bce2" stroke-width="0.35" stroke-opacity="0.65"/>
<path d="M181.35 454.42 L182.75 455.82 L181.35 457.22 L179.95 455.82 Z" fill="#e4e9f7" fill-opacity="0.55" stroke="#b0bce2" stroke-width="0.35" stroke-opacity="0.65"/>
<path d="M148.45 453.54 L149.85 454.94 L148.45 456.34 L147.05 454.94 Z" fill="#e4e9f7" fill-opacity="0.55" stroke="#b0bce2" stroke-width="0.35" stroke-opacity="0.65"/>
<path d="M180.60 455.80 L182.00 457.20 L180.60 458.60 L179.20 457.20 Z" fill="#e4e9f7" fill-opacity="0.55" stroke="#b0bce2" stroke-width="0.35" stroke-opacity="0.65"/>
<path d="M144.67 453.44 L146.07 454.84 L144.67 456.24 L143.27 454.84 Z" fill="#e4e9f7" fill-opacity="0.55" stroke="#b0bce2" stroke-width="0.35" stroke-opacity="0.65"/>
<path d="M185.54 457.55 L186.94 458.95 L185.54 460.35 L184.14 458.95 Z" fill="#e4e9f7" fill-opacity="0.55" stroke="#b0bce2" stroke-width="0.35" stroke-opacity="0.65"/>
<path d="M150.92 452.49 L152.32 453.89 L150.92 455.29 L149.52 453.89 Z" fill="#e4e9f7" fill-opacity="0.55" stroke="#b0bce2" stroke-width="0.35" stroke-opacity="0.65"/>
<path d="M185.22 453.73 L186.62 455.13 L185.22 456.53 L183.82 455.13 Z" fill="#e4e9f7" fill-opacity="0.55" stroke="#b0bce2" stroke-width="0.35" stroke-opacity="0.65"/>
<path d="M145.14 458.29 L146.54 459.69 L145.14 461.09 L143.74 459.69 Z" fill="#e4e9f7" fill-opacity="0.55" stroke="#b0bce2" stroke-width="0.35" stroke-opacity="0.65"/>
<path d="M184.18 457.43 L185.58 458.83 L184.18 460.23 L182.78 458.83 Z" fill="#e4e9f7" fill-opacity="0.55" stroke="#b0bce2" stroke-width="0.35" stroke-opacity="0.65"/>
<path d="M145.37 456.90 L146.77 458.30 L145.37 459.70 L143.97 458.30 Z" fill="#e4e9f7" fill-opacity="0.55" stroke="#b0bce2" stroke-width="0.35" stroke-opacity="0.65"/>
<path d="M180.07 454.74 L181.47 456.14 L180.07 457.54 L178.67 456.14 Z" fill="#e4e9f7" fill-opacity="0.55" stroke="#b0bce2" stroke-width="0.35" stroke-opacity="0.65"/>
<path d="M147.12 453.24 L148.52 454.64 L147.12 456.04 L145.72 454.64 Z" fill="#e4e9f7" fill-opacity="0.55" stroke="#b0bce2" stroke-width="0.35" stroke-opacity="0.65"/>
<path d="M184.11 453.56 L185.51 454.96 L184.11 456.36 L182.71 454.96 Z" fill="#e4e9f7" fill-opacity="0.55" stroke="#b0bce2" stroke-width="0.35" stroke-opacity="0.65"/>
<path d="M147.54 454.34 L148.94 455.74 L147.54 457.14 L146.14 455.74 Z" fill="#e4e9f7" fill-opacity="0.55" stroke="#b0bce2" stroke-width="0.35" stroke-opacity="0.65"/>
<path d="M183.60 455.97 L185.00 457.37 L183.60 458.77 L182.20 457.37 Z" fill="#e4e9f7" fill-opacity="0.55" stroke="#b0bce2" stroke-width="0.35" stroke-opacity="0.65"/>
<path d="M151.02 452.30 L152.42 453.70 L151.02 455.10 L149.62 453.70 Z" fill="#e4e9f7" fill-opacity="0.55" stroke="#b0bce2" stroke-width="0.35" stroke-opacity="0.65"/>
<path d="M186.76 453.11 L188.16 454.51 L186.76 455.91 L185.36 454.51 Z" fill="#e4e9f7" fill-opacity="0.55" stroke="#b0bce2" stroke-width="0.35" stroke-opacity="0.65"/>
<path d="M146.25 456.98 L147.65 458.38 L146.25 459.78 L144.85 458.38 Z" fill="#e4e9f7" fill-opacity="0.55" stroke="#b0bce2" stroke-width="0.35" stroke-opacity="0.65"/>
<path d="M182.21 457.36 L183.61 458.76 L182.21 460.16 L180.81 458.76 Z" fill="#e4e9f7" fill-opacity="0.55" stroke="#b0bce2" stroke-width="0.35" stroke-opacity="0.65"/>
<path d="M149.40 455.94 L150.80 457.34 L149.40 458.74 L148.00 457.34 Z" fill="#e4e9f7" fill-opacity="0.55" stroke="#b0bce2" stroke-width="0.35" stroke-opacity="0.65"/>
<path d="M186.81 455.25 L188.21 456.65 L186.81 458.05 L185.41 456.65 Z" fill="#e4e9f7" fill-opacity="0.55" stroke="#b0bce2" stroke-width="0.35" stroke-opacity="0.65"/>
<path d="M150.75 453.21 L152.15 454.61 L150.75 456.01 L149.35 454.61 Z" fill="#e4e9f7" fill-opacity="0.55" stroke="#b0bce2" stroke-width="0.35" stroke-opacity="0.65"/>
<path d="M179.83 456.43 L181.23 457.83 L179.83 459.23 L178.43 457.83 Z" fill="#e4e9f7" fill-opacity="0.55" stroke="#b0bce2" stroke-width="0.35" stroke-opacity="0.65"/>
<path d="M150.41 455.51 L151.81 456.91 L150.41 458.31 L149.01 456.91 Z" fill="#e4e9f7" fill-opacity="0.55" stroke="#b0bce2" stroke-width="0.35" stroke-opacity="0.65"/>
<path d="M187.91 455.18 L189.31 456.58 L187.91 457.98 L186.51 456.58 Z" fill="#e4e9f7" fill-opacity="0.55" stroke="#b0bce2" stroke-width="0.35" stroke-opacity="0.65"/>
<path d="M144.55 454.54 L145.95 455.94 L144.55 457.34 L143.15 455.94 Z" fill="#e4e9f7" fill-opacity="0.55" stroke="#b0bce2" stroke-width="0.35" stroke-opacity="0.65"/>
<path d="M186.25 456.03 L187.65 457.43 L186.25 458.83 L184.85 457.43 Z" fill="#e4e9f7" fill-opacity="0.55" stroke="#b0bce2" stroke-width="0.35" stroke-opacity="0.65"/>
<rect x="74.60" y="418.60" width="6.40" height="3.0" rx="1.3" fill="#f0a0b0" fill-opacity="0.4"/>
<rect x="75.20" y="419.45" width="5.20" height="1.3" rx="0.6" fill="#8a4a5c" fill-opacity="0.75"/>
<rect x="92.90" y="435.30" width="6.20" height="3.0" rx="1.3" fill="#f0a0b0" fill-opacity="0.4"/>
<rect x="93.50" y="436.15" width="5.00" height="1.3" rx="0.6" fill="#8a4a5c" fill-opacity="0.75"/>
<rect x="104.10" y="436.70" width="6.20" height="3.0" rx="1.3" fill="#f0a0b0" fill-opacity="0.4"/>
<rect x="104.70" y="437.55" width="5.00" height="1.3" rx="0.6" fill="#8a4a5c" fill-opacity="0.75"/>
<rect x="108.90" y="444.80" width="6.20" height="3.0" rx="1.3" fill="#f0a0b0" fill-opacity="0.4"/>
<rect x="109.50" y="445.65" width="5.00" height="1.3" rx="0.6" fill="#8a4a5c" fill-opacity="0.75"/>
<rect x="128.15" y="442.20" width="4.70" height="3.0" rx="1.3" fill="#f0a0b0" fill-opacity="0.4"/>
<rect x="128.75" y="443.05" width="3.50" height="1.3" rx="0.6" fill="#8a4a5c" fill-opacity="0.75"/>
<rect x="128.85" y="444.60" width="4.70" height="3.0" rx="1.3" fill="#f0a0b0" fill-opacity="0.4"/>
<rect x="129.45" y="445.45" width="3.50" height="1.3" rx="0.6" fill="#8a4a5c" fill-opacity="0.75"/>
<rect x="136.30" y="445.60" width="5.20" height="3.0" rx="1.3" fill="#f0a0b0" fill-opacity="0.4"/>
<rect x="136.90" y="446.45" width="4.00" height="1.3" rx="0.6" fill="#8a4a5c" fill-opacity="0.75"/>
<rect x="119.50" y="448.30" width="5.20" height="3.0" rx="1.3" fill="#f0a0b0" fill-opacity="0.4"/>
<rect x="120.10" y="449.15" width="4.00" height="1.3" rx="0.6" fill="#8a4a5c" fill-opacity="0.75"/>
<rect x="130.15" y="448.00" width="4.70" height="3.0" rx="1.3" fill="#f0a0b0" fill-opacity="0.4"/>
<rect x="130.75" y="448.85" width="3.50" height="1.3" rx="0.6" fill="#8a4a5c" fill-opacity="0.75"/>
<rect x="122.50" y="450.70" width="5.20" height="3.0" rx="1.3" fill="#f0a0b0" fill-opacity="0.4"/>
<rect x="123.10" y="451.55" width="4.00" height="1.3" rx="0.6" fill="#8a4a5c" fill-opacity="0.75"/>
<rect x="139.25" y="449.00" width="4.70" height="3.0" rx="1.3" fill="#f0a0b0" fill-opacity="0.4"/>
<rect x="139.85" y="449.85" width="3.50" height="1.3" rx="0.6" fill="#8a4a5c" fill-opacity="0.75"/>
<rect x="124.75" y="453.30" width="4.70" height="3.0" rx="1.3" fill="#f0a0b0" fill-opacity="0.4"/>
<rect x="125.35" y="454.15" width="3.50" height="1.3" rx="0.6" fill="#8a4a5c" fill-opacity="0.75"/>
<rect x="136.55" y="452.00" width="4.70" height="3.0" rx="1.3" fill="#f0a0b0" fill-opacity="0.4"/>
<rect x="137.15" y="452.85" width="3.50" height="1.3" rx="0.6" fill="#8a4a5c" fill-opacity="0.75"/>
<rect x="133.55" y="453.00" width="4.70" height="3.0" rx="1.3" fill="#f0a0b0" fill-opacity="0.4"/>
<rect x="134.15" y="453.85" width="3.50" height="1.3" rx="0.6" fill="#8a4a5c" fill-opacity="0.75"/>
<rect x="126.15" y="455.90" width="4.70" height="3.0" rx="1.3" fill="#f0a0b0" fill-opacity="0.4"/>
<rect x="126.75" y="456.75" width="3.50" height="1.3" rx="0.6" fill="#8a4a5c" fill-opacity="0.75"/>
<rect x="136.55" y="454.70" width="4.70" height="3.0" rx="1.3" fill="#f0a0b0" fill-opacity="0.4"/>
<rect x="137.15" y="455.55" width="3.50" height="1.3" rx="0.6" fill="#8a4a5c" fill-opacity="0.75"/>
<rect x="203.80" y="443.00" width="5.40" height="3.0" rx="1.3" fill="#f0a0b0" fill-opacity="0.4"/>
<rect x="204.40" y="443.85" width="4.20" height="1.3" rx="0.6" fill="#8a4a5c" fill-opacity="0.75"/>
<rect x="192.00" y="445.30" width="4.40" height="3.0" rx="1.3" fill="#f0a0b0" fill-opacity="0.4"/>
<rect x="192.60" y="446.15" width="3.20" height="1.3" rx="0.6" fill="#8a4a5c" fill-opacity="0.75"/>
<rect x="199.40" y="447.00" width="6.20" height="3.0" rx="1.3" fill="#f0a0b0" fill-opacity="0.4"/>
<rect x="200.00" y="447.85" width="5.00" height="1.3" rx="0.6" fill="#8a4a5c" fill-opacity="0.75"/>
<rect x="192.60" y="448.90" width="6.40" height="3.0" rx="1.3" fill="#f0a0b0" fill-opacity="0.4"/>
<rect x="193.20" y="449.75" width="5.20" height="1.3" rx="0.6" fill="#8a4a5c" fill-opacity="0.75"/>
<rect x="188.40" y="452.00" width="6.20" height="3.0" rx="1.3" fill="#f0a0b0" fill-opacity="0.4"/>
<rect x="189.00" y="452.85" width="5.00" height="1.3" rx="0.6" fill="#8a4a5c" fill-opacity="0.75"/>
<line x1="143.26" y1="360.3" x2="143.26" y2="477.8" stroke="#a0a0a0" stroke-width="0.75" stroke-dasharray="3,0.6"/>
<line x1="189.94" y1="360.3" x2="189.94" y2="477.8" stroke="#a0a0a0" stroke-width="0.75" stroke-dasharray="3,0.6"/>
<line x1="46.8" y1="458.66" x2="239.0" y2="458.66" stroke="#888" stroke-width="0.5" stroke-dasharray="1.2,0.8"/>
<line x1="46.80" y1="360.30" x2="46.80" y2="478.20" stroke="#111" stroke-width="0.9"/>
<line x1="46.80" y1="477.80" x2="239.00" y2="477.80" stroke="#111" stroke-width="0.9"/>
<line x1="44.40" y1="473.10" x2="46.80" y2="473.10" stroke="#111" stroke-width="0.7"/>
<text transform="matrix(0.1,0.0001,0,0.1,40.70,475.20)" font-size="59.00" text-anchor="end" fill="#2a2a2a" font-weight="normal" stroke="#2a2a2a" stroke-width="0.80" >0.0</text>
<line x1="44.40" y1="445.35" x2="46.80" y2="445.35" stroke="#111" stroke-width="0.7"/>
<text transform="matrix(0.1,0.0001,0,0.1,40.70,447.45)" font-size="59.00" text-anchor="end" fill="#2a2a2a" font-weight="normal" stroke="#2a2a2a" stroke-width="0.80" >2.5</text>
<line x1="44.40" y1="417.60" x2="46.80" y2="417.60" stroke="#111" stroke-width="0.7"/>
<text transform="matrix(0.1,0.0001,0,0.1,40.70,419.70)" font-size="59.00" text-anchor="end" fill="#2a2a2a" font-weight="normal" stroke="#2a2a2a" stroke-width="0.80" >5.0</text>
<line x1="44.40" y1="389.85" x2="46.80" y2="389.85" stroke="#111" stroke-width="0.7"/>
<text transform="matrix(0.1,0.0001,0,0.1,40.70,391.95)" font-size="59.00" text-anchor="end" fill="#2a2a2a" font-weight="normal" stroke="#2a2a2a" stroke-width="0.80" >7.5</text>
<line x1="44.40" y1="362.10" x2="46.80" y2="362.10" stroke="#111" stroke-width="0.7"/>
<text transform="matrix(0.1,0.0001,0,0.1,40.70,364.20)" font-size="59.00" text-anchor="end" fill="#2a2a2a" font-weight="normal" stroke="#2a2a2a" stroke-width="0.80" >10.0</text>
<line x1="49.90" y1="477.80" x2="49.90" y2="480.20" stroke="#111" stroke-width="0.7"/>
<text transform="matrix(0.1,0.0001,0,0.1,49.90,489.30)" font-size="60.00" text-anchor="middle" fill="#2a2a2a" font-weight="normal" stroke="#2a2a2a" stroke-width="0.80" >−7.5</text>
<line x1="88.80" y1="477.80" x2="88.80" y2="480.20" stroke="#111" stroke-width="0.7"/>
<text transform="matrix(0.1,0.0001,0,0.1,88.80,489.30)" font-size="60.00" text-anchor="middle" fill="#2a2a2a" font-weight="normal" stroke="#2a2a2a" stroke-width="0.80" >−5.0</text>
<line x1="127.70" y1="477.80" x2="127.70" y2="480.20" stroke="#111" stroke-width="0.7"/>
<text transform="matrix(0.1,0.0001,0,0.1,127.70,489.30)" font-size="60.00" text-anchor="middle" fill="#2a2a2a" font-weight="normal" stroke="#2a2a2a" stroke-width="0.80" >−2.5</text>
<line x1="166.60" y1="477.80" x2="166.60" y2="480.20" stroke="#111" stroke-width="0.7"/>
<text transform="matrix(0.1,0.0001,0,0.1,166.60,489.30)" font-size="60.00" text-anchor="middle" fill="#2a2a2a" font-weight="normal" stroke="#2a2a2a" stroke-width="0.80" >0.0</text>
<line x1="205.50" y1="477.80" x2="205.50" y2="480.20" stroke="#111" stroke-width="0.7"/>
<text transform="matrix(0.1,0.0001,0,0.1,205.50,489.30)" font-size="60.00" text-anchor="middle" fill="#2a2a2a" font-weight="normal" stroke="#2a2a2a" stroke-width="0.80" >2.5</text>
<text transform="matrix(0.1,0.0001,0,0.1,61.60,370.20)" font-size="59.60" text-anchor="start" fill="#222" font-weight="normal" >total = 772 variables</text>
<text transform="translate(21.8,419.0) rotate(-90)" font-size="6.3" text-anchor="middle" fill="#222">-Log<tspan font-size="4.0" dy="1.5">10</tspan><tspan dy="-1.5" font-style="italic"> P</tspan></text>
<text x="121.6" y="500.6" font-size="7.6" font-weight="bold" fill="#2a2a2a" textLength="42" lengthAdjust="spacingAndGlyphs">Log<tspan font-size="5.0" dy="1.8">2</tspan><tspan dy="-1.8"> fold change</tspan></text>
<text x="244.8" y="16.3" font-size="11.5" font-weight="bold" fill="#111">C</text>
<line x1="309" y1="37.5" x2="402.6" y2="37.5" stroke="#2f9a52" stroke-width="1.1"/>
<path d="M306.3 37.5 L311.2 35.2 L311.2 39.8 Z" fill="#2f9a52"/>
<line x1="404.8" y1="37.5" x2="499" y2="37.5" stroke="#c3202e" stroke-width="1.1"/>
<path d="M501.6 37.5 L496.7 35.2 L496.7 39.8 Z" fill="#c3202e"/>
<line x1="317.6" y1="26.8" x2="317.6" y2="33.0" stroke="#2f9a52" stroke-width="0.8"/>
<path d="M317.6 25.6 L316.0 28.0 L319.2 28.0 Z" fill="#2f9a52"/>
<line x1="407.4" y1="26.4" x2="407.4" y2="32.6" stroke="#c3202e" stroke-width="0.8"/>
<path d="M407.4 34.0 L405.8 31.6 L409.0 31.6 Z" fill="#c3202e"/>
<text transform="matrix(0.1,0.0001,0,0.1,323.00,32.80)" font-size="79.00" text-anchor="start" fill="#3a9a58" font-weight="normal" >in Arterial Thrombus</text>
<text transform="matrix(0.1,0.0001,0,0.1,413.80,32.80)" font-size="78.00" text-anchor="start" fill="#c02a36" font-weight="normal" >in Arterial Thrombus</text>
<line x1="316.50" y1="46.30" x2="316.50" y2="288.40" stroke="#111" stroke-width="0.9"/>
<line x1="316.50" y1="288.00" x2="402.70" y2="288.00" stroke="#111" stroke-width="0.9"/>
<line x1="404.30" y1="288.00" x2="491.20" y2="288.00" stroke="#111" stroke-width="0.9"/>
<line x1="313.50" y1="53.20" x2="316.50" y2="53.20" stroke="#111" stroke-width="0.9"/>
<text transform="matrix(0.1,0.0001,0,0.1,310.40,54.40)" font-size="39.50" text-anchor="end" fill="#1a1a1a" font-weight="normal" stroke="#1a1a1a" stroke-width="1.20" >protein localization to cell surface</text>
<line x1="313.50" y1="65.19" x2="316.50" y2="65.19" stroke="#111" stroke-width="0.9"/>
<text transform="matrix(0.1,0.0001,0,0.1,310.40,66.39)" font-size="39.50" text-anchor="end" fill="#1a1a1a" font-weight="normal" stroke="#1a1a1a" stroke-width="1.20" >leukocyte mediated cytotoxicity</text>
<line x1="313.50" y1="77.17" x2="316.50" y2="77.17" stroke="#111" stroke-width="0.9"/>
<text transform="matrix(0.1,0.0001,0,0.1,310.40,78.37)" font-size="39.50" text-anchor="end" fill="#1a1a1a" font-weight="normal" stroke="#1a1a1a" stroke-width="1.20" >basement membrane</text>
<line x1="313.50" y1="89.16" x2="316.50" y2="89.16" stroke="#111" stroke-width="0.9"/>
<text transform="matrix(0.1,0.0001,0,0.1,310.40,90.36)" font-size="39.50" text-anchor="end" fill="#1a1a1a" font-weight="normal" stroke="#1a1a1a" stroke-width="1.20" >collagen trimer</text>
<line x1="313.50" y1="101.14" x2="316.50" y2="101.14" stroke="#111" stroke-width="0.9"/>
<text transform="matrix(0.1,0.0001,0,0.1,310.40,99.89)" font-size="39.50" text-anchor="end" fill="#1a1a1a" font-weight="normal" stroke="#1a1a1a" stroke-width="1.20" >positive regulation of</text>
<text transform="matrix(0.1,0.0001,0,0.1,310.40,104.79)" font-size="39.50" text-anchor="end" fill="#1a1a1a" font-weight="normal" stroke="#1a1a1a" stroke-width="1.20" >cellular protein catabolic process</text>
<line x1="313.50" y1="113.12" x2="316.50" y2="113.12" stroke="#111" stroke-width="0.9"/>
<text transform="matrix(0.1,0.0001,0,0.1,310.40,114.33)" font-size="39.50" text-anchor="end" fill="#1a1a1a" font-weight="normal" stroke="#1a1a1a" stroke-width="1.20" >recycling endosome</text>
<line x1="313.50" y1="125.11" x2="316.50" y2="125.11" stroke="#111" stroke-width="0.9"/>
<text transform="matrix(0.1,0.0001,0,0.1,310.40,123.86)" font-size="39.50" text-anchor="end" fill="#1a1a1a" font-weight="normal" stroke="#1a1a1a" stroke-width="1.20" >extracellular matrix</text>
<text transform="matrix(0.1,0.0001,0,0.1,310.40,128.76)" font-size="39.50" text-anchor="end" fill="#1a1a1a" font-weight="normal" stroke="#1a1a1a" stroke-width="1.20" >structural constituent</text>
<line x1="313.50" y1="137.09" x2="316.50" y2="137.09" stroke="#111" stroke-width="0.9"/>
<text transform="matrix(0.1,0.0001,0,0.1,310.40,135.84)" font-size="39.50" text-anchor="end" fill="#1a1a1a" font-weight="normal" stroke="#1a1a1a" stroke-width="1.20" >response to external biotic</text>
<text transform="matrix(0.1,0.0001,0,0.1,310.40,140.74)" font-size="39.50" text-anchor="end" fill="#1a1a1a" font-weight="normal" stroke="#1a1a1a" stroke-width="1.20" >stimulus</text>
<line x1="313.50" y1="149.08" x2="316.50" y2="149.08" stroke="#111" stroke-width="0.9"/>
<text transform="matrix(0.1,0.0001,0,0.1,310.40,150.28)" font-size="39.50" text-anchor="end" fill="#1a1a1a" font-weight="normal" stroke="#1a1a1a" stroke-width="1.20" >response to other organism</text>
<line x1="313.50" y1="161.06" x2="316.50" y2="161.06" stroke="#111" stroke-width="0.9"/>
<text transform="matrix(0.1,0.0001,0,0.1,310.40,162.26)" font-size="39.50" text-anchor="end" fill="#1a1a1a" font-weight="normal" stroke="#1a1a1a" stroke-width="1.20" >structural molecule activity</text>
<line x1="313.50" y1="173.05" x2="316.50" y2="173.05" stroke="#111" stroke-width="0.9"/>
<text transform="matrix(0.1,0.0001,0,0.1,310.40,174.25)" font-size="39.50" text-anchor="end" fill="#1a1a1a" font-weight="normal" stroke="#1a1a1a" stroke-width="1.20" >response to biotic stimulus</text>
<line x1="313.50" y1="185.03" x2="316.50" y2="185.03" stroke="#111" stroke-width="0.9"/>
<text transform="matrix(0.1,0.0001,0,0.1,310.40,186.23)" font-size="39.50" text-anchor="end" fill="#1a1a1a" font-weight="normal" stroke="#1a1a1a" stroke-width="1.20" >defense response</text>
<line x1="313.50" y1="197.02" x2="316.50" y2="197.02" stroke="#111" stroke-width="0.9"/>
<text transform="matrix(0.1,0.0001,0,0.1,310.40,195.77)" font-size="39.50" text-anchor="end" fill="#1a1a1a" font-weight="normal" stroke="#1a1a1a" stroke-width="1.20" >collagen-containing</text>
<text transform="matrix(0.1,0.0001,0,0.1,310.40,200.67)" font-size="39.50" text-anchor="end" fill="#1a1a1a" font-weight="normal" stroke="#1a1a1a" stroke-width="1.20" >extracellular matrix</text>
<line x1="313.50" y1="209.00" x2="316.50" y2="209.00" stroke="#111" stroke-width="0.9"/>
<text transform="matrix(0.1,0.0001,0,0.1,310.40,210.20)" font-size="39.50" text-anchor="end" fill="#1a1a1a" font-weight="normal" stroke="#1a1a1a" stroke-width="1.20" >extracellular matrix organization</text>
<line x1="313.50" y1="220.99" x2="316.50" y2="220.99" stroke="#111" stroke-width="0.9"/>
<text transform="matrix(0.1,0.0001,0,0.1,310.40,219.74)" font-size="39.50" text-anchor="end" fill="#1a1a1a" font-weight="normal" stroke="#1a1a1a" stroke-width="1.20" >extracellular structure</text>
<text transform="matrix(0.1,0.0001,0,0.1,310.40,224.64)" font-size="39.50" text-anchor="end" fill="#1a1a1a" font-weight="normal" stroke="#1a1a1a" stroke-width="1.20" >organization</text>
<line x1="313.50" y1="232.97" x2="316.50" y2="232.97" stroke="#111" stroke-width="0.9"/>
<text transform="matrix(0.1,0.0001,0,0.1,310.40,231.72)" font-size="39.50" text-anchor="end" fill="#1a1a1a" font-weight="normal" stroke="#1a1a1a" stroke-width="1.20" >external encapsulating</text>
<text transform="matrix(0.1,0.0001,0,0.1,310.40,236.62)" font-size="39.50" text-anchor="end" fill="#1a1a1a" font-weight="normal" stroke="#1a1a1a" stroke-width="1.20" >structure organization</text>
<line x1="313.50" y1="244.96" x2="316.50" y2="244.96" stroke="#111" stroke-width="0.9"/>
<text transform="matrix(0.1,0.0001,0,0.1,310.40,246.16)" font-size="39.50" text-anchor="end" fill="#1a1a1a" font-weight="normal" stroke="#1a1a1a" stroke-width="1.20" >immune system process</text>
<line x1="313.50" y1="256.94" x2="316.50" y2="256.94" stroke="#111" stroke-width="0.9"/>
<text transform="matrix(0.1,0.0001,0,0.1,310.40,255.69)" font-size="39.50" text-anchor="end" fill="#1a1a1a" font-weight="normal" stroke="#1a1a1a" stroke-width="1.20" >external encapsulating</text>
<text transform="matrix(0.1,0.0001,0,0.1,310.40,260.59)" font-size="39.50" text-anchor="end" fill="#1a1a1a" font-weight="normal" stroke="#1a1a1a" stroke-width="1.20" >structure</text>
<line x1="313.50" y1="268.93" x2="316.50" y2="268.93" stroke="#111" stroke-width="0.9"/>
<text transform="matrix(0.1,0.0001,0,0.1,310.40,270.13)" font-size="39.50" text-anchor="end" fill="#1a1a1a" font-weight="normal" stroke="#1a1a1a" stroke-width="1.20" >extracellular matrix</text>
<line x1="313.50" y1="280.91" x2="316.50" y2="280.91" stroke="#111" stroke-width="0.9"/>
<text transform="matrix(0.1,0.0001,0,0.1,310.40,277.21)" font-size="39.50" text-anchor="end" fill="#1a1a1a" font-weight="normal" stroke="#1a1a1a" stroke-width="1.20" >biological process involved</text>
<text transform="matrix(0.1,0.0001,0,0.1,310.40,282.11)" font-size="39.50" text-anchor="end" fill="#1a1a1a" font-weight="normal" stroke="#1a1a1a" stroke-width="1.20" >in interspecies interaction</text>
<text transform="matrix(0.1,0.0001,0,0.1,310.40,287.01)" font-size="39.50" text-anchor="end" fill="#1a1a1a" font-weight="normal" stroke="#1a1a1a" stroke-width="1.20" >between organisms</text>
<line x1="318.90" y1="288.00" x2="318.90" y2="290.20" stroke="#111" stroke-width="0.7"/>
<text transform="translate(320.30,295.00) rotate(-45)" font-size="5.4" text-anchor="end" fill="#222" stroke="#222" stroke-width="0.15">0.2</text>
<line x1="345.53" y1="288.00" x2="345.53" y2="290.20" stroke="#111" stroke-width="0.7"/>
<text transform="translate(346.93,295.00) rotate(-45)" font-size="5.4" text-anchor="end" fill="#222" stroke="#222" stroke-width="0.15">0.4</text>
<line x1="372.16" y1="288.00" x2="372.16" y2="290.20" stroke="#111" stroke-width="0.7"/>
<text transform="translate(373.56,295.00) rotate(-45)" font-size="5.4" text-anchor="end" fill="#222" stroke="#222" stroke-width="0.15">0.6</text>
<line x1="398.79" y1="288.00" x2="398.79" y2="290.20" stroke="#111" stroke-width="0.7"/>
<text transform="translate(400.19,295.00) rotate(-45)" font-size="5.4" text-anchor="end" fill="#222" stroke="#222" stroke-width="0.15">0.8</text>
<line x1="407.10" y1="288.00" x2="407.10" y2="290.20" stroke="#111" stroke-width="0.7"/>
<text transform="translate(408.50,295.00) rotate(-45)" font-size="5.4" text-anchor="end" fill="#222" stroke="#222" stroke-width="0.15">0.2</text>
<line x1="433.67" y1="288.00" x2="433.67" y2="290.20" stroke="#111" stroke-width="0.7"/>
<text transform="translate(435.07,295.00) rotate(-45)" font-size="5.4" text-anchor="end" fill="#222" stroke="#222" stroke-width="0.15">0.4</text>
<line x1="460.24" y1="288.00" x2="460.24" y2="290.20" stroke="#111" stroke-width="0.7"/>
<text transform="translate(461.64,295.00) rotate(-45)" font-size="5.4" text-anchor="end" fill="#222" stroke="#222" stroke-width="0.15">0.6</text>
<line x1="486.81" y1="288.00" x2="486.81" y2="290.20" stroke="#111" stroke-width="0.7"/>
<text transform="translate(488.21,295.00) rotate(-45)" font-size="5.4" text-anchor="end" fill="#222" stroke="#222" stroke-width="0.15">0.8</text>
<text x="390.7" y="310.9" font-size="7.9" font-weight="bold" fill="#2a2a2a" textLength="25.8" lengthAdjust="spacingAndGlyphs">Gene ratio</text>
<circle cx="398.7" cy="53.20" r="1.25" fill="#161440" stroke="#600010" stroke-opacity="0.35" stroke-width="0.35"/>
<circle cx="366.4" cy="65.19" r="1.9" fill="#7c1462" stroke="#600010" stroke-opacity="0.35" stroke-width="0.35"/>
<circle cx="452.0" cy="77.17" r="1.6" fill="#b0122a" stroke="#600010" stroke-opacity="0.35" stroke-width="0.35"/>
<circle cx="447.3" cy="89.16" r="1.6" fill="#b0122a" stroke="#600010" stroke-opacity="0.35" stroke-width="0.35"/>
<circle cx="355.0" cy="101.14" r="1.7" fill="#24206a" stroke="#600010" stroke-opacity="0.35" stroke-width="0.35"/>
<circle cx="354.5" cy="113.12" r="1.6" fill="#a8164e" stroke="#600010" stroke-opacity="0.35" stroke-width="0.35"/>
<circle cx="430.6" cy="125.11" r="1.8" fill="#c0122e" stroke="#600010" stroke-opacity="0.35" stroke-width="0.35"/>
<circle cx="328.0" cy="137.09" r="2.85" fill="#e00a40" stroke="#600010" stroke-opacity="0.35" stroke-width="0.35"/>
<circle cx="328.0" cy="149.08" r="2.85" fill="#e00a40" stroke="#600010" stroke-opacity="0.35" stroke-width="0.35"/>
<circle cx="416.2" cy="161.06" r="1.6" fill="#c0122e" stroke="#600010" stroke-opacity="0.35" stroke-width="0.35"/>
<circle cx="327.5" cy="173.05" r="2.6" fill="#9a1a70" stroke="#600010" stroke-opacity="0.35" stroke-width="0.35"/>
<circle cx="326.0" cy="185.03" r="2.6" fill="#c41a5c" stroke="#600010" stroke-opacity="0.35" stroke-width="0.35"/>
<circle cx="413.6" cy="197.02" r="1.6" fill="#c0122e" stroke="#600010" stroke-opacity="0.35" stroke-width="0.35"/>
<circle cx="411.6" cy="209.00" r="1.6" fill="#c0122e" stroke="#600010" stroke-opacity="0.35" stroke-width="0.35"/>
<circle cx="411.6" cy="220.99" r="1.6" fill="#c0122e" stroke="#600010" stroke-opacity="0.35" stroke-width="0.35"/>
<circle cx="411.9" cy="232.97" r="1.6" fill="#c0122e" stroke="#600010" stroke-opacity="0.35" stroke-width="0.35"/>
<circle cx="321.9" cy="244.96" r="2.6" fill="#e0102a" stroke="#600010" stroke-opacity="0.35" stroke-width="0.35"/>
<circle cx="409.1" cy="256.94" r="1.6" fill="#c0122e" stroke="#600010" stroke-opacity="0.35" stroke-width="0.35"/>
<circle cx="409.1" cy="268.93" r="1.6" fill="#c0122e" stroke="#600010" stroke-opacity="0.35" stroke-width="0.35"/>
<circle cx="320.0" cy="280.91" r="2.5" fill="#e0102a" stroke="#600010" stroke-opacity="0.35" stroke-width="0.35"/>
<text transform="matrix(0.1,0.0001,0,0.1,491.20,131.30)" font-size="41.00" text-anchor="start" fill="#2a2a2a" font-weight="normal" stroke="#2a2a2a" stroke-width="0.80" >Count</text>
<circle cx="494.4" cy="136.2" r="2.45" fill="#111"/>
<text transform="matrix(0.1,0.0001,0,0.1,501.00,137.60)" font-size="41.00" text-anchor="start" fill="#2a2a2a" font-weight="normal" stroke="#2a2a2a" stroke-width="0.80" >20</text>
<circle cx="494.4" cy="142.9" r="2.75" fill="#111"/>
<text transform="matrix(0.1,0.0001,0,0.1,501.00,144.30)" font-size="41.00" text-anchor="start" fill="#2a2a2a" font-weight="normal" stroke="#2a2a2a" stroke-width="0.80" >40</text>
<circle cx="494.4" cy="150.4" r="3.25" fill="#111"/>
<text transform="matrix(0.1,0.0001,0,0.1,501.00,151.80)" font-size="41.00" text-anchor="start" fill="#2a2a2a" font-weight="normal" stroke="#2a2a2a" stroke-width="0.80" >60</text>
<text transform="matrix(0.1,0.0001,0,0.1,490.90,166.00)" font-size="41.00" text-anchor="start" fill="#2a2a2a" font-weight="normal" stroke="#2a2a2a" stroke-width="0.80" ><tspan font-style="italic">P</tspan>.adjust</text>
<rect x="491.3" y="168.5" width="7.0" height="37.5" fill="url(#cgrad)"/>
<text transform="matrix(0.1,0.0001,0,0.1,500.60,171.90)" font-size="41.50" text-anchor="start" fill="#2a2a2a" font-weight="normal" stroke="#2a2a2a" stroke-width="0.80" >0.0025</text>
<text transform="matrix(0.1,0.0001,0,0.1,500.60,179.00)" font-size="41.50" text-anchor="start" fill="#2a2a2a" font-weight="normal" stroke="#2a2a2a" stroke-width="0.80" >0.0020</text>
<text transform="matrix(0.1,0.0001,0,0.1,500.60,186.10)" font-size="41.50" text-anchor="start" fill="#2a2a2a" font-weight="normal" stroke="#2a2a2a" stroke-width="0.80" >0.0015</text>
<text transform="matrix(0.1,0.0001,0,0.1,500.60,193.20)" font-size="41.50" text-anchor="start" fill="#2a2a2a" font-weight="normal" stroke="#2a2a2a" stroke-width="0.80" >0.0010</text>
<text transform="matrix(0.1,0.0001,0,0.1,500.60,200.30)" font-size="41.50" text-anchor="start" fill="#2a2a2a" font-weight="normal" stroke="#2a2a2a" stroke-width="0.80" >0.0005</text>
<line x1="336.60" y1="328.00" x2="336.60" y2="477.60" stroke="#111" stroke-width="0.9"/>
<line x1="336.60" y1="477.20" x2="510.10" y2="477.20" stroke="#111" stroke-width="0.9"/>
<rect x="344.7" y="328.70" width="156.00" height="8.9" fill="#e3171c"/>
<line x1="333.60" y1="333.15" x2="336.60" y2="333.15" stroke="#111" stroke-width="0.9"/>
<text transform="matrix(0.1,0.0001,0,0.1,330.80,334.65)" font-size="39.50" text-anchor="end" fill="#1a1a1a" font-weight="normal" stroke="#1a1a1a" stroke-width="1.20" >positive regulation of cytokine production</text>
<rect x="344.7" y="338.59" width="117.00" height="8.9" fill="#e3171c"/>
<line x1="333.60" y1="343.04" x2="336.60" y2="343.04" stroke="#111" stroke-width="0.9"/>
<text transform="matrix(0.1,0.0001,0,0.1,330.80,344.54)" font-size="39.50" text-anchor="end" fill="#1a1a1a" font-weight="normal" stroke="#1a1a1a" stroke-width="1.20" >extracellular matrix organization</text>
<rect x="344.7" y="348.48" width="117.00" height="8.9" fill="#e3171c"/>
<line x1="333.60" y1="352.93" x2="336.60" y2="352.93" stroke="#111" stroke-width="0.9"/>
<text transform="matrix(0.1,0.0001,0,0.1,330.80,354.43)" font-size="39.50" text-anchor="end" fill="#1a1a1a" font-weight="normal" stroke="#1a1a1a" stroke-width="1.20" >extracellular structure organization</text>
<rect x="344.7" y="358.37" width="117.00" height="8.9" fill="#e3171c"/>
<line x1="333.60" y1="362.82" x2="336.60" y2="362.82" stroke="#111" stroke-width="0.9"/>
<text transform="matrix(0.1,0.0001,0,0.1,330.80,364.32)" font-size="39.50" text-anchor="end" fill="#1a1a1a" font-weight="normal" stroke="#1a1a1a" stroke-width="1.20" >external encapsulating structure organization</text>
<rect x="344.7" y="368.26" width="117.00" height="8.9" fill="#e3171c"/>
<line x1="333.60" y1="372.71" x2="336.60" y2="372.71" stroke="#111" stroke-width="0.9"/>
<text transform="matrix(0.1,0.0001,0,0.1,330.80,374.21)" font-size="39.50" text-anchor="end" fill="#1a1a1a" font-weight="normal" stroke="#1a1a1a" stroke-width="1.20" >regulation of angiogenesis</text>
<rect x="344.7" y="378.15" width="117.00" height="8.9" fill="#e3171c"/>
<line x1="333.60" y1="382.60" x2="336.60" y2="382.60" stroke="#111" stroke-width="0.9"/>
<text transform="matrix(0.1,0.0001,0,0.1,330.80,384.10)" font-size="39.50" text-anchor="end" fill="#1a1a1a" font-weight="normal" stroke="#1a1a1a" stroke-width="1.20" >regulation of vasculature development</text>
<rect x="344.7" y="388.04" width="104.00" height="8.9" fill="#e2124c"/>
<line x1="333.60" y1="392.49" x2="336.60" y2="392.49" stroke="#111" stroke-width="0.9"/>
<text transform="matrix(0.1,0.0001,0,0.1,330.80,393.99)" font-size="39.50" text-anchor="end" fill="#1a1a1a" font-weight="normal" stroke="#1a1a1a" stroke-width="1.20" >anatomical structure homeostasis</text>
<rect x="344.7" y="397.93" width="65.00" height="8.9" fill="#e0115e"/>
<line x1="333.60" y1="402.38" x2="336.60" y2="402.38" stroke="#111" stroke-width="0.9"/>
<text transform="matrix(0.1,0.0001,0,0.1,330.80,403.88)" font-size="39.50" text-anchor="end" fill="#1a1a1a" font-weight="normal" stroke="#1a1a1a" stroke-width="1.20" >positive regulation of chemokine production</text>
<rect x="344.7" y="407.82" width="104.00" height="8.9" fill="#d41580"/>
<line x1="333.60" y1="412.27" x2="336.60" y2="412.27" stroke="#111" stroke-width="0.9"/>
<text transform="matrix(0.1,0.0001,0,0.1,330.80,413.77)" font-size="39.50" text-anchor="end" fill="#1a1a1a" font-weight="normal" stroke="#1a1a1a" stroke-width="1.20" >response to oxygen levels</text>
<rect x="344.7" y="417.71" width="78.00" height="8.9" fill="#5c2390"/>
<line x1="333.60" y1="422.16" x2="336.60" y2="422.16" stroke="#111" stroke-width="0.9"/>
<text transform="matrix(0.1,0.0001,0,0.1,330.80,423.66)" font-size="39.50" text-anchor="end" fill="#1a1a1a" font-weight="normal" stroke="#1a1a1a" stroke-width="1.20" >response to corticosteroid</text>
<rect x="344.7" y="427.60" width="39.00" height="8.9" fill="#2f2a8a"/>
<line x1="333.60" y1="432.05" x2="336.60" y2="432.05" stroke="#111" stroke-width="0.9"/>
<text transform="matrix(0.1,0.0001,0,0.1,330.80,431.05)" font-size="39.50" text-anchor="end" fill="#1a1a1a" font-weight="normal" stroke="#1a1a1a" stroke-width="1.20" >collagen-activated tyrosine</text>
<text transform="matrix(0.1,0.0001,0,0.1,330.80,436.05)" font-size="39.50" text-anchor="end" fill="#1a1a1a" font-weight="normal" stroke="#1a1a1a" stroke-width="1.20" >kinase receptor signaling pathway</text>
<rect x="344.7" y="437.49" width="65.00" height="8.9" fill="#2f2a8a"/>
<line x1="333.60" y1="441.94" x2="336.60" y2="441.94" stroke="#111" stroke-width="0.9"/>
<text transform="matrix(0.1,0.0001,0,0.1,330.80,443.44)" font-size="39.50" text-anchor="end" fill="#1a1a1a" font-weight="normal" stroke="#1a1a1a" stroke-width="1.20" >regulation of chemokine production</text>
<rect x="344.7" y="447.38" width="65.00" height="8.9" fill="#2f2a8a"/>
<line x1="333.60" y1="451.83" x2="336.60" y2="451.83" stroke="#111" stroke-width="0.9"/>
<text transform="matrix(0.1,0.0001,0,0.1,330.80,453.33)" font-size="39.50" text-anchor="end" fill="#1a1a1a" font-weight="normal" stroke="#1a1a1a" stroke-width="1.20" >chemokine production</text>
<rect x="344.7" y="457.27" width="104.00" height="8.9" fill="#2f2a8a"/>
<line x1="333.60" y1="461.72" x2="336.60" y2="461.72" stroke="#111" stroke-width="0.9"/>
<text transform="matrix(0.1,0.0001,0,0.1,330.80,463.22)" font-size="39.50" text-anchor="end" fill="#1a1a1a" font-weight="normal" stroke="#1a1a1a" stroke-width="1.20" >wound healing</text>
<rect x="344.7" y="467.16" width="65.00" height="8.9" fill="#2f2a8a"/>
<line x1="333.60" y1="471.61" x2="336.60" y2="471.61" stroke="#111" stroke-width="0.9"/>
<text transform="matrix(0.1,0.0001,0,0.1,330.80,470.61)" font-size="39.50" text-anchor="end" fill="#1a1a1a" font-weight="normal" stroke="#1a1a1a" stroke-width="1.20" >positive regulation of tumor</text>
<text transform="matrix(0.1,0.0001,0,0.1,330.80,475.61)" font-size="39.50" text-anchor="end" fill="#1a1a1a" font-weight="normal" stroke="#1a1a1a" stroke-width="1.20" >necrosis factor production</text>
<line x1="344.70" y1="477.20" x2="344.70" y2="479.60" stroke="#111" stroke-width="0.7"/>
<text transform="matrix(0.1,0.0001,0,0.1,344.70,489.20)" font-size="60.00" text-anchor="middle" fill="#2a2a2a" font-weight="normal" stroke="#2a2a2a" stroke-width="1.00" >0.0</text>
<line x1="377.20" y1="477.20" x2="377.20" y2="479.60" stroke="#111" stroke-width="0.7"/>
<text transform="matrix(0.1,0.0001,0,0.1,377.20,489.20)" font-size="60.00" text-anchor="middle" fill="#2a2a2a" font-weight="normal" stroke="#2a2a2a" stroke-width="1.00" >2.5</text>
<line x1="409.70" y1="477.20" x2="409.70" y2="479.60" stroke="#111" stroke-width="0.7"/>
<text transform="matrix(0.1,0.0001,0,0.1,409.70,489.20)" font-size="60.00" text-anchor="middle" fill="#2a2a2a" font-weight="normal" stroke="#2a2a2a" stroke-width="1.00" >5.0</text>
<line x1="442.20" y1="477.20" x2="442.20" y2="479.60" stroke="#111" stroke-width="0.7"/>
<text transform="matrix(0.1,0.0001,0,0.1,442.20,489.20)" font-size="60.00" text-anchor="middle" fill="#2a2a2a" font-weight="normal" stroke="#2a2a2a" stroke-width="1.00" >7.5</text>
<line x1="474.70" y1="477.20" x2="474.70" y2="479.60" stroke="#111" stroke-width="0.7"/>
<text transform="matrix(0.1,0.0001,0,0.1,474.70,489.20)" font-size="60.00" text-anchor="middle" fill="#2a2a2a" font-weight="normal" stroke="#2a2a2a" stroke-width="1.00" >10.0</text>
<line x1="507.20" y1="477.20" x2="507.20" y2="479.60" stroke="#111" stroke-width="0.7"/>
<text transform="matrix(0.1,0.0001,0,0.1,507.20,489.20)" font-size="60.00" text-anchor="middle" fill="#2a2a2a" font-weight="normal" stroke="#2a2a2a" stroke-width="1.00" >12.5</text>
<text x="416.4" y="500.4" font-size="7.4" font-weight="bold" fill="#2a2a2a" textLength="14.0" lengthAdjust="spacingAndGlyphs">Count</text>
<text transform="matrix(0.1,0.0001,0,0.1,481.00,401.20)" font-size="58.00" text-anchor="start" fill="#2a2a2a" font-weight="normal" ><tspan font-style="italic">P</tspan>.adjust</text>
<rect x="481.1" y="405.0" width="9.8" height="47.0" fill="url(#dgrad)"/>
<text transform="matrix(0.1,0.0001,0,0.1,494.30,423.00)" font-size="58.00" text-anchor="start" fill="#2a2a2a" font-weight="normal" >1e−</text>
<text transform="matrix(0.1,0.0001,0,0.1,494.30,440.00)" font-size="58.00" text-anchor="start" fill="#2a2a2a" font-weight="normal" >2e−</text>
<rect x="0" y="0" width="520" height="1.0" fill="#5a5a5a"/>
<rect x="0" y="0" width="1.15" height="511" fill="#4a4a4a"/>
<rect x="518.8" y="0" width="1.2" height="511" fill="#3a3a3a"/>
<rect x="0" y="509.7" width="520" height="1.3" fill="#3a3a3a"/>
</svg>
</body></html>
